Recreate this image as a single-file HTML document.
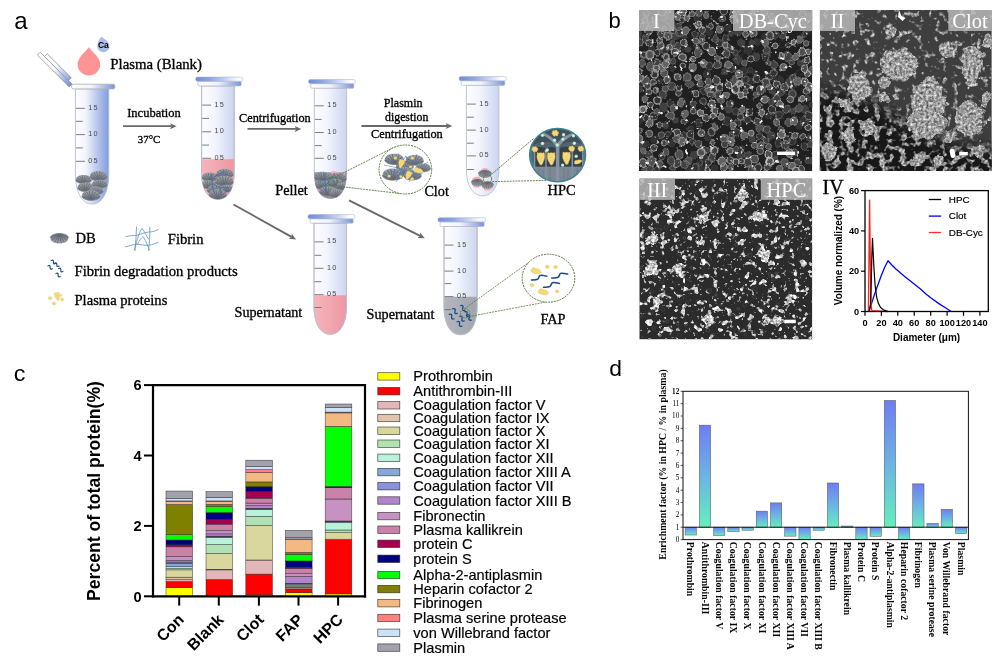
<!DOCTYPE html>
<html><head><meta charset="utf-8"><title>Figure</title>
<style>
html,body{margin:0;padding:0;background:#fff}
body{width:1000px;height:671px;overflow:hidden;position:relative}
svg{position:absolute;left:0;top:0;display:block}
text{fill:#000}
.tr{stroke:#000;stroke-width:.32px}
.cb{font-family:"Liberation Sans",Arial,sans-serif;font-weight:bold}
.cl{font-family:"Liberation Sans",Arial,sans-serif;stroke:#000;stroke-width:.18px}
.pl{font-family:"Liberation Sans",Arial,sans-serif}
.tr{font-family:"Liberation Serif","Times New Roman",serif}
.tb{font-family:"Liberation Serif","Times New Roman",serif;font-weight:bold}
.ts{font-family:"Liberation Serif","Times New Roman",serif}
.tw{font-family:"Liberation Serif","Times New Roman",serif;fill:#fff}
.tk{font-family:"Liberation Sans",Arial,sans-serif;font-size:7.3px;letter-spacing:1.2px;fill:#4a4a4a}
</style></head><body>
<svg width="1000" height="671" viewBox="0 0 1000 671">
<g>
<defs>
<linearGradient id="gt1" x1="0" x2="1"><stop offset="0" stop-color="#fff"/><stop offset=".3" stop-color="#f3f5fc"/><stop offset="1" stop-color="#7f9ae0"/></linearGradient>
<linearGradient id="gt2" x1="0" x2="1"><stop offset="0" stop-color="#fdfdff"/><stop offset=".4" stop-color="#f3f5fc"/><stop offset="1" stop-color="#ccd5f0"/></linearGradient>
<linearGradient id="gcap" x1="0" x2="1"><stop offset="0" stop-color="#6f8dd6"/><stop offset=".3" stop-color="#8ea5df"/><stop offset=".65" stop-color="#cdd7f1"/><stop offset=".9" stop-color="#fff"/></linearGradient>
<linearGradient id="gpink" x1="0" x2="1"><stop offset="0" stop-color="#f7b4ba"/><stop offset="1" stop-color="#ec98a4"/></linearGradient>
<linearGradient id="grim" x1="0" x2="1"><stop offset="0" stop-color="#fff"/><stop offset=".45" stop-color="#f2f4fb"/><stop offset="1" stop-color="#7893d6"/></linearGradient>
<linearGradient id="ggrey" x1="0" x2="1"><stop offset="0" stop-color="#b4b7bd"/><stop offset="1" stop-color="#a0a4ad"/></linearGradient>
<linearGradient id="glid" x1="0" y1="0" x2="1" y2="1"><stop offset="0" stop-color="#fff"/><stop offset=".45" stop-color="#f4f6fc"/><stop offset="1" stop-color="#6f8bd2"/></linearGradient>
<linearGradient id="gdb" x1="0" y1="0" x2="0" y2="1"><stop offset="0" stop-color="#a2a7af"/><stop offset=".55" stop-color="#858a93"/><stop offset="1" stop-color="#6f757e"/></linearGradient>
<g id="db"><path d="M-8 .6C-8 -3.400-4-4.600 0-4.600S8-3.400 8 .6C8 2.800 4 4.400 0 4.400S-8 2.800-8 .6Z" fill="url(#gdb)"/><path d="M0 3.600L-6.600-1.600M0 3.600L-4.200-3.400M0 3.600L-1.600-4.200M0 3.600L1.600-4.200M0 3.600L4.200-3.400M0 3.600L6.600-1.600M0 3.600L-7.600 1M0 3.600L7.600 1" stroke="#626872" stroke-width=".75" fill="none"/><path d="M-8 .6C-8 2.800-4 4.400 0 4.400S8 2.800 8 .6" fill="none" stroke="#5f656f" stroke-width=".6"/></g>
<g id="pp"><path d="M-2.700-.8c-.3-1.300.9-2.300 2-1.600.7-1.100 2.300-.7 2.400.6 1.300.1 1.700 1.700.5 2.300.3 1.300-1.100 2.100-2 1.200-.9 1-2.500.4-2.300-.9-1.200-.2-1.500-1.300-.6-1.600z" fill="#f4d772" stroke="#d9b64e" stroke-width=".35"/></g>
<g id="pb"><path d="M-3.500-4.600C-4.200-6-2.600-6.700-2-5.400-1-6 1-6 2-5.400 2.600-6.700 4.200-6 3.500-4.600 4.400-2 3.600 1 2.400 3 2 4.600 1.400 6.200.2 6.200-1 6.200-1.200 4.800-2 3.400-3.400 1.600-4.400-2-3.500-4.600Z" fill="#f5da78" stroke="#dcb851" stroke-width=".4"/><path d="M-1.500-2c.8.800 2.200.8 3 0M-1 1c.6.600 1.600.600 2.200 0" fill="none" stroke="#e2bf58" stroke-width=".5"/></g>
<g id="pw"><path d="M-5.500.4C-4.800-.8-4.600-2.600-3-2.800-1.800-3.400-.6-2 .8-2.200 2.400-2.400 4-1 5.500.4 4.200 1.600 2.600 2.800.6 2.600-1 3-2.600 2-3.600 2.200-4.600 2-5 1-5.500.4Z" fill="#f5da78" stroke="#dcb851" stroke-width=".4"/></g>
</defs>
<path d="M75.4 88.9V173.0C75.4 192.2 81.7 204 92.1 204C102.5 204 108.8 192.2 108.8 173.0V88.9Z" fill="url(#gt1)" stroke="#b9bdc8" stroke-width=".9"/>
<clipPath id="tb7584"><path d="M75.4 88.9V173.0C75.4 192.2 81.7 204 92.1 204C102.5 204 108.8 192.2 108.8 173.0V88.9Z"/></clipPath>
<rect x="71.6" y="84.2" width="43.2" height="4.7" rx="1.6" fill="url(#grim)" stroke="#a9adb6" stroke-width=".8"/>
<path d="M76.0 108.3H84.9" stroke="#6e6e6e" stroke-width=".9"/>
<text x="88.3" y="109.8" class="tk">15</text>
<path d="M76.0 121.3H82.8" stroke="#6e6e6e" stroke-width=".9"/>
<path d="M76.0 134.6H84.9" stroke="#6e6e6e" stroke-width=".9"/>
<text x="88.3" y="136.1" class="tk">10</text>
<path d="M76.0 147.9H82.8" stroke="#6e6e6e" stroke-width=".9"/>
<path d="M76.0 161.3H84.9" stroke="#6e6e6e" stroke-width=".9"/>
<text x="88.3" y="162.8" class="tk">05</text>
<defs><linearGradient id="glid2" gradientUnits="userSpaceOnUse" x1="40" y1="55" x2="71" y2="86"><stop offset="0" stop-color="#fff"/><stop offset=".42" stop-color="#fff"/><stop offset=".72" stop-color="#b4c2e8"/><stop offset="1" stop-color="#6f8bd2"/></linearGradient></defs>
<path d="M37.4 55L40.2 52.2L72.1 84.1L69.3 86.9Z" fill="url(#glid2)" stroke="#8b8f98" stroke-width=".8" stroke-linejoin="round"/>
<path d="M44.4 56.5L47.2 53.8L71.3 77.8L68.5 80.6Z" fill="url(#glid2)" stroke="#8b8f98" stroke-width=".8" stroke-linejoin="round"/>
<use href="#db" transform="translate(98.4 176.0) rotate(0) scale(1.06)" opacity="1"/>
<use href="#db" transform="translate(83.6 179.4) rotate(0) scale(0.97)" opacity="1"/>
<use href="#db" transform="translate(99.6 184.0) rotate(0) scale(0.94)" opacity="1"/>
<use href="#db" transform="translate(85.6 187.2) rotate(0) scale(1.00)" opacity="1"/>
<use href="#db" transform="translate(96.0 190.6) rotate(0) scale(0.88)" opacity="1"/>
<use href="#db" transform="translate(91.0 195.4) rotate(0) scale(1.12)" opacity="1"/>
<path d="M88.8 47.2C92 52 100.200 57 100.200 64.200A11.3 11.3 0 0 1 77.6 64.200C77.6 57 85.6 52 88.8 47.2Z" fill="#ff9494"/>
<path d="M101.2 36.6C103.6 38.6 109.5 41.6 109.5 46.2A6.100 6.100 0 0 1 97.3 46.2C97.300 42.4 99.8 39 101.2 36.600Z" fill="#a9bde6"/>
<text x="103.4" y="48.1" text-anchor="middle" class="cb" font-size="8.6">Ca</text>
<text x="110.300" y="68.7" class="tr" font-size="14.8">Plasma (Blank)</text>
<path d="M123 126.2L171.5 126.2" stroke="#686868" stroke-width="1.8"/><path d="M176.6 126.2L170.0 129.2L171.5 126.2L170.0 123.2Z" fill="#686868"/>
<text x="127.2" y="117.2" class="tr" font-size="12.5">Incubation</text>
<text x="137.8" y="143.3" class="tr" font-size="10.9">37°C</text>
<path d="M201.6 85.8V172.2C201.6 188.9 207.8 199.2 217.89999999999998 199.2C228.0 199.2 234.2 188.9 234.2 172.2V85.8Z" fill="url(#gt2)" stroke="#b9bdc8" stroke-width=".9"/>
<clipPath id="tb20176"><path d="M201.6 85.8V172.2C201.6 188.9 207.8 199.2 217.89999999999998 199.2C228.0 199.2 234.2 188.9 234.2 172.2V85.8Z"/></clipPath>
<rect x="201.6" y="159.2" width="32.599999999999994" height="41.0" fill="url(#gpink)" clip-path="url(#tb20176)"/>
<path d="M201.6 85.8V172.2C201.6 188.9 207.8 199.2 217.89999999999998 199.2C228.0 199.2 234.2 188.9 234.2 172.2V85.8Z" fill="none" stroke="#b9bdc8" stroke-width=".9"/>
<rect x="197.8" y="81.2" width="43.4" height="4.7" rx="1.2" fill="url(#grim)" stroke="#b4b8c2" stroke-width=".7"/>
<rect x="195.7" y="77.1" width="47.0" height="4.1" rx="1.6" fill="url(#gcap)" stroke="#9fadd6" stroke-width=".5"/>
<path d="M202.2 105.1H211.1" stroke="#6e6e6e" stroke-width=".9"/>
<text x="214.5" y="106.6" class="tk">15</text>
<path d="M202.2 118.4H209.0" stroke="#6e6e6e" stroke-width=".9"/>
<path d="M202.2 131.8H211.1" stroke="#6e6e6e" stroke-width=".9"/>
<text x="214.5" y="133.3" class="tk">10</text>
<path d="M202.2 145.1H209.0" stroke="#6e6e6e" stroke-width=".9"/>
<path d="M202.2 158.3H211.1" stroke="#6e6e6e" stroke-width=".9"/>
<text x="214.5" y="159.8" class="tk">05</text>
<g clip-path="url(#tb20176)">
<use href="#db" transform="translate(209.8 177.0) rotate(0) scale(0.97)" opacity="1"/>
<use href="#db" transform="translate(224.7 173.6) rotate(0) scale(1.06)" opacity="1"/>
<use href="#db" transform="translate(208.7 184.5) rotate(0) scale(0.94)" opacity="1"/>
<use href="#db" transform="translate(224.3 181.0) rotate(0) scale(1.12)" opacity="1"/>
<use href="#db" transform="translate(226.5 188.6) rotate(0) scale(0.81)" opacity="1"/>
<use href="#db" transform="translate(215.2 189.6) rotate(0) scale(1.00)" opacity="1"/>
<use href="#db" transform="translate(217.6 194.4) rotate(0) scale(1.12)" opacity="1"/>
<path d="M211.600 174l.8 12.400 2.200 7.400M214.600 176.600l8.200-4.400 2.200-1.200M213.900 184.800l6 2.200 1.500 8.200M219.900 187l9 .800" fill="none" stroke="#3b6fa9" stroke-width=".8"/>
</g>
<path d="M247.5 128.9L296.2 128.9" stroke="#686868" stroke-width="1.8"/><path d="M301.3 128.9L294.7 131.9L296.2 128.9L294.7 125.9Z" fill="#686868"/>
<text x="239" y="122.4" class="tr" font-size="12.3">Centrifugation</text>
<text x="275.2" y="195.4" class="tr" font-size="14.3">Pellet</text>
<path d="M314.3 88.1V173.5C314.3 189.0 320.4 198.5 330.45000000000005 198.5C340.5 198.5 346.6 189.0 346.6 173.5V88.1Z" fill="url(#gt2)" stroke="#b9bdc8" stroke-width=".9"/>
<clipPath id="tb31479"><path d="M314.3 88.1V173.5C314.3 189.0 320.4 198.5 330.45000000000005 198.5C340.5 198.5 346.6 189.0 346.6 173.5V88.1Z"/></clipPath>
<rect x="310.7" y="83.6" width="43.1" height="4.6" rx="1.2" fill="url(#grim)" stroke="#b4b8c2" stroke-width=".7"/>
<rect x="308.6" y="79.5" width="46.69999999999999" height="4.1" rx="1.6" fill="url(#gcap)" stroke="#9fadd6" stroke-width=".5"/>
<path d="M314.9 105.8H323.8" stroke="#6e6e6e" stroke-width=".9"/>
<text x="327.2" y="107.3" class="tk">15</text>
<path d="M314.9 119.4H321.7" stroke="#6e6e6e" stroke-width=".9"/>
<path d="M314.9 132.5H323.8" stroke="#6e6e6e" stroke-width=".9"/>
<text x="327.2" y="134.0" class="tk">10</text>
<path d="M314.9 145.6H321.7" stroke="#6e6e6e" stroke-width=".9"/>
<path d="M314.9 158.3H323.8" stroke="#6e6e6e" stroke-width=".9"/>
<text x="327.2" y="159.8" class="tk">05</text>
<g clip-path="url(#tb31479)">
<path d="M314 172.200h33v28h-33z" fill="#8b9099"/>
<path d="M329.600 172.600l4-1.600 5.400 1.400 5.800 0 .6 3.200-8 1.200-7.800-4.200zM317 188.800l3.600 1.400-1 3-3-1zM338 190.600l2.600-2 1.400 2.400-2.600 3z" fill="#f5a9b2"/>
<use href="#db" transform="translate(322.4 176.4) rotate(0) scale(1.00)" opacity="1"/>
<use href="#db" transform="translate(338.6 177.6) rotate(0) scale(1.00)" opacity="1"/>
<use href="#db" transform="translate(321.6 184.4) rotate(0) scale(0.94)" opacity="1"/>
<use href="#db" transform="translate(335.4 182.8) rotate(0) scale(0.88)" opacity="1"/>
<use href="#db" transform="translate(341.2 186.4) rotate(0) scale(0.75)" opacity="1"/>
<use href="#db" transform="translate(327.4 191.0) rotate(0) scale(1.00)" opacity="1"/>
<use href="#db" transform="translate(336.4 193.4) rotate(0) scale(0.88)" opacity="1"/>
<path d="M324.800 173l.4 13 .8 7M325.200 180l-7 1.400M325.200 186l6.400-7.400 3-5.600M331.600 178.600l5.400 8 4.600.8" fill="none" stroke="#3b6fa9" stroke-width=".8"/>
</g>
<circle cx="333" cy="181.600" r="4.600" fill="none" stroke="#55793a" stroke-width="1.100" stroke-dasharray="1.800 .8"/>
<path d="M334.800 177.200L393.500 147.600M337.200 186.200L401 193.600" stroke="#55793a" stroke-width=".9" stroke-dasharray="2 .9" fill="none"/>
<ellipse cx="405.4" cy="169.500" rx="26.300" ry="24.500" fill="#fff" stroke="#55793a" stroke-width="1" stroke-dasharray="2 .9"/>
<use href="#db" transform="translate(404.5 166.0) rotate(0) scale(1.06)" opacity="1"/>
<use href="#db" transform="translate(403.0 171.0) rotate(0) scale(0.94)" opacity="1"/>
<use href="#db" transform="translate(394.3 159.2) rotate(0) scale(1.19)" opacity="1"/>
<use href="#db" transform="translate(414.6 160.2) rotate(0) scale(1.12)" opacity="1"/>
<use href="#db" transform="translate(423.0 167.8) rotate(0) scale(0.94)" opacity="1"/>
<use href="#db" transform="translate(392.8 174.5) rotate(0) scale(1.28)" opacity="1"/>
<use href="#db" transform="translate(412.6 175.2) rotate(0) scale(1.09)" opacity="1"/>
<path d="M384 165l14 3 8-12 6 16 16-10M385 178l13-10 9 12 16-7M398 153l4 26M417 154l-8 28M388 171l34 4M396 182l8-12 14 4M405 156l18 14" fill="none" stroke="#4a7db8" stroke-width=".55"/>
<use href="#pb" transform="translate(401.1 163.7) rotate(15) scale(0.72)"/>
<use href="#pb" transform="translate(408.3 175.3) rotate(25) scale(0.72)"/>
<use href="#pw" transform="translate(418.5 170.500) rotate(8) scale(.92)"/>
<use href="#pp" transform="translate(395.5 158.3) rotate(0) scale(0.62)"/>
<use href="#pp" transform="translate(412.5 158.3) rotate(0) scale(0.62)"/>
<use href="#pp" transform="translate(410.6 167.1) rotate(0) scale(0.55)"/>
<use href="#pp" transform="translate(389.2 176.3) rotate(0) scale(0.55)"/>
<use href="#pp" transform="translate(401 176.8) rotate(0) scale(0.5)"/>
<use href="#pp" transform="translate(412.2 179.2) rotate(0) scale(0.62)"/>
<text x="424.4" y="195.900" class="tr" font-size="14.2">Clot</text>
<path d="M361.5 126L447.2 126.0" stroke="#686868" stroke-width="1.8"/><path d="M452.3 126L445.7 129.0L447.2 126.0L445.7 123.0Z" fill="#686868"/>
<text x="403.2" y="106.600" text-anchor="middle" class="tr" font-size="12.0">Plasmin</text>
<text x="406.7" y="121.4" text-anchor="middle" class="tr" font-size="11.8">digestion</text>
<text x="406.900" y="138" text-anchor="middle" class="tr" font-size="12.3">Centrifugation</text>
<path d="M466.4 85.3V168.8C466.4 185.5 472.6 195.8 482.65 195.8C492.7 195.8 498.9 185.5 498.9 168.8V85.3Z" fill="url(#gt2)" stroke="#b9bdc8" stroke-width=".9"/>
<clipPath id="tb46676"><path d="M466.4 85.3V168.8C466.4 185.5 472.6 195.8 482.65 195.8C492.7 195.8 498.9 185.5 498.9 168.8V85.3Z"/></clipPath>
<rect x="461.2" y="80.7" width="43.6" height="4.7" rx="1.2" fill="url(#grim)" stroke="#b4b8c2" stroke-width=".7"/>
<rect x="459.1" y="76.6" width="47.19999999999999" height="4.1" rx="1.6" fill="url(#gcap)" stroke="#9fadd6" stroke-width=".5"/>
<path d="M467.0 104.1H475.9" stroke="#6e6e6e" stroke-width=".9"/>
<text x="479.3" y="105.6" class="tk">15</text>
<path d="M467.0 117.2H473.8" stroke="#6e6e6e" stroke-width=".9"/>
<path d="M467.0 130.1H475.9" stroke="#6e6e6e" stroke-width=".9"/>
<text x="479.3" y="131.6" class="tk">10</text>
<path d="M467.0 143.2H473.8" stroke="#6e6e6e" stroke-width=".9"/>
<path d="M467.0 155.9H475.9" stroke="#6e6e6e" stroke-width=".9"/>
<text x="479.3" y="157.4" class="tk">05</text>
<path d="M467.0 169.5H473.8" stroke="#6e6e6e" stroke-width=".9"/>
<circle cx="484.9" cy="172.9" r="4.9" fill="#f8aeb7"/>
<circle cx="477" cy="182.2" r="5.6" fill="#f8aeb7"/>
<circle cx="487.5" cy="185.6" r="5.2" fill="#f8aeb7"/>
<use href="#db" transform="translate(484.9 174) scale(0.82 -0.87)"/>
<use href="#db" transform="translate(477.4 182.6) scale(0.74 -0.77)"/>
<use href="#db" transform="translate(487.5 185.2) scale(0.76 -0.80)"/>
<circle cx="487.500" cy="178.900" r="4.100" fill="none" stroke="#55793a" stroke-width="1" stroke-dasharray="1.800 .8"/>
<path d="M490 175.600L533.500 138.600M492.200 181.600L546 180.400" stroke="#55793a" stroke-width=".9" stroke-dasharray="2 .9" fill="none"/>
<clipPath id="chpc"><ellipse cx="557.6" cy="155.100" rx="27.200" ry="25.800"/></clipPath>
<ellipse cx="557.6" cy="155.100" rx="27.400" ry="26" fill="#55636f" stroke="#3f8191" stroke-width="2.600"/>
<g clip-path="url(#chpc)">
<path d="M529 128h58v20c-8-7-18-9-28-2-10-7-22-5-30 2z" fill="#44515d"/>
<path d="M529 166.500h58v17h-58z" fill="#7c8995"/>
<path d="M535.500 148.500c1-2 8.500-2 9.700 0v18h-9.700zM547.100 148.500c1-2 7.800-2 8.800 0v18h-8.800zM559.700 148.500c1.500-2.500 10-2.500 11.700 0v18h-11.700zM573.300 148.500c1-2 7.700-2 8.700 0v18h-8.700z" fill="#35414c"/>
<path d="M555.900 182V147c-3-6-9-10-15-13l1.500-2c6 2.500 11.500 6 15 11 3.500-5 10-8.500 16.500-10.500l1 2c-6 2.500-12 6.500-15.700 12.500v35z" fill="#8794a2"/>
<path d="M534.500 150v32M545.900 150v32M572.300 150v32M582.800 150v32" stroke="#8592a0" stroke-width="1.300"/>
<path d="M539 168v14M543 170v12M550 168v14M564 168v14M568 170v12M577 168v14" stroke="#6a7783" stroke-width=".8"/>
<use href="#pb" transform="translate(540.8 158.8) rotate(0) scale(1.02)"/>
<use href="#pb" transform="translate(551.2 158.8) rotate(0) scale(1.02)"/>
<use href="#pb" transform="translate(566.5 158.3) rotate(0) scale(1.02)"/>
<use href="#pw" transform="translate(578.1 161.700) rotate(-20) scale(.75)"/>
<use href="#pp" transform="translate(535 149.6) rotate(0) scale(1.05)"/>
<use href="#pp" transform="translate(555.4 133.6) rotate(0) scale(1.15)"/>
<use href="#pp" transform="translate(571.8 149.1) rotate(0) scale(1.05)"/>
<use href="#pp" transform="translate(581 149.1) rotate(0) scale(1.05)"/>
<use href="#pp" transform="translate(546.2 151.2) rotate(0) scale(0.5)"/>
<circle cx="542.5" cy="135.2" r="1.700" fill="#a6efc6"/><circle cx="542.5" cy="135.2" r=".7" fill="#eafff3"/>
<circle cx="563.6" cy="134.7" r="1.700" fill="#a6efc6"/><circle cx="563.6" cy="134.7" r=".7" fill="#eafff3"/>
<circle cx="573.5" cy="135.8" r="1.700" fill="#a6efc6"/><circle cx="573.5" cy="135.8" r=".7" fill="#eafff3"/>
<circle cx="554.6" cy="140.2" r="1.700" fill="#a6efc6"/><circle cx="554.6" cy="140.2" r=".7" fill="#eafff3"/>
<circle cx="562.9" cy="139.1" r="1.700" fill="#a6efc6"/><circle cx="562.9" cy="139.1" r=".7" fill="#eafff3"/>
<circle cx="542.5" cy="143.5" r="1.700" fill="#a6efc6"/><circle cx="542.5" cy="143.5" r=".7" fill="#eafff3"/>
<circle cx="557.3" cy="145" r="1.700" fill="#a6efc6"/><circle cx="557.3" cy="145" r=".7" fill="#eafff3"/>
<circle cx="574.3" cy="143.3" r="1.700" fill="#a6efc6"/><circle cx="574.3" cy="143.3" r=".7" fill="#eafff3"/>
<circle cx="547.3" cy="150" r="1.700" fill="#a6efc6"/><circle cx="547.3" cy="150" r=".7" fill="#eafff3"/>
<circle cx="576.2" cy="156.3" r="1.700" fill="#a6efc6"/><circle cx="576.2" cy="156.3" r=".7" fill="#eafff3"/>
<circle cx="562.6" cy="165.1" r="1.700" fill="#a6efc6"/><circle cx="562.6" cy="165.1" r=".7" fill="#eafff3"/>
</g>
<text x="547.6" y="195.4" class="tr" font-size="14.4">HPC</text>
<path d="M233.5 204.5L291.5 236.9" stroke="#686868" stroke-width="1.8"/><path d="M296 239.4L288.8 238.8L291.5 236.9L291.7 233.5Z" fill="#686868"/>
<path d="M349 200.4L420.1 235.9" stroke="#686868" stroke-width="1.8"/><path d="M424.7 238.2L417.4 238.0L420.1 235.9L420.2 232.5Z" fill="#686868"/>
<path d="M314 223.1V305.2C314 323.2 320.2 334.2 330.25 334.2C340.3 334.2 346.5 323.2 346.5 305.2V223.1Z" fill="url(#gt2)" stroke="#b9bdc8" stroke-width=".9"/>
<clipPath id="tb314214"><path d="M314 223.1V305.2C314 323.2 320.2 334.2 330.25 334.2C340.3 334.2 346.5 323.2 346.5 305.2V223.1Z"/></clipPath>
<rect x="314" y="295.3" width="32.5" height="39.89999999999998" fill="url(#gpink)" clip-path="url(#tb314214)"/>
<path d="M314 223.1V305.2C314 323.2 320.2 334.2 330.25 334.2C340.3 334.2 346.5 323.2 346.5 305.2V223.1Z" fill="none" stroke="#b9bdc8" stroke-width=".9"/>
<rect x="310.1" y="218.7" width="43.1" height="4.5" rx="1.2" fill="url(#grim)" stroke="#b4b8c2" stroke-width=".7"/>
<rect x="308" y="214.6" width="46.69999999999999" height="4.1" rx="1.6" fill="url(#gcap)" stroke="#9fadd6" stroke-width=".5"/>
<path d="M314.6 241.9H323.5" stroke="#6e6e6e" stroke-width=".9"/>
<text x="326.9" y="243.4" class="tk">15</text>
<path d="M314.6 255.3H321.4" stroke="#6e6e6e" stroke-width=".9"/>
<path d="M314.6 268.3H323.5" stroke="#6e6e6e" stroke-width=".9"/>
<text x="326.9" y="269.8" class="tk">10</text>
<path d="M314.6 281.7H321.4" stroke="#6e6e6e" stroke-width=".9"/>
<path d="M314.6 294.7H323.5" stroke="#6e6e6e" stroke-width=".9"/>
<text x="326.9" y="296.2" class="tk">05</text>
<path d="M314.6 307.5H321.4" stroke="#6e6e6e" stroke-width=".9"/>
<text x="234.5" y="317" class="tr" font-size="14.2">Supernatant</text>
<path d="M444 226.4V305.7C444 323.7 450.3 334.7 460.55 334.7C470.8 334.7 477.1 323.7 477.1 305.7V226.4Z" fill="url(#gt2)" stroke="#b9bdc8" stroke-width=".9"/>
<clipPath id="tb444217"><path d="M444 226.4V305.7C444 323.7 450.3 334.7 460.55 334.7C470.8 334.7 477.1 323.7 477.1 305.7V226.4Z"/></clipPath>
<rect x="444" y="296.8" width="33.10000000000002" height="38.89999999999998" fill="url(#ggrey)" clip-path="url(#tb444217)"/>
<path d="M444 226.4V305.7C444 323.7 450.3 334.7 460.55 334.7C470.8 334.7 477.1 323.7 477.1 305.7V226.4Z" fill="none" stroke="#b9bdc8" stroke-width=".9"/>
<rect x="440.1" y="221.8" width="44.0" height="4.7" rx="1.2" fill="url(#grim)" stroke="#b4b8c2" stroke-width=".7"/>
<rect x="438" y="217.7" width="47.60000000000002" height="4.1" rx="1.6" fill="url(#gcap)" stroke="#9fadd6" stroke-width=".5"/>
<path d="M444.6 245.1H453.5" stroke="#6e6e6e" stroke-width=".9"/>
<text x="456.9" y="246.6" class="tk">15</text>
<path d="M444.6 258.1H451.4" stroke="#6e6e6e" stroke-width=".9"/>
<path d="M444.6 271.1H453.5" stroke="#6e6e6e" stroke-width=".9"/>
<text x="456.9" y="272.6" class="tk">10</text>
<path d="M444.6 283.6H451.4" stroke="#6e6e6e" stroke-width=".9"/>
<path d="M444.6 296.6H453.5" stroke="#6e6e6e" stroke-width=".9"/>
<text x="456.9" y="298.1" class="tk">05</text>
<path d="M444.6 309.6H451.4" stroke="#6e6e6e" stroke-width=".9"/>
<path d="M-3.2 0c1.0 -1.9 2.2 -1.9 3.2 0s2.2 1.9 3.2 0" transform="translate(455 311.1) rotate(48)" fill="none" stroke="#174a8a" stroke-width="1.3" stroke-linecap="round"/>
<path d="M-3.2 0c1.0 -1.9 2.2 -1.9 3.2 0s2.2 1.9 3.2 0" transform="translate(451.7 316.6) rotate(42)" fill="none" stroke="#174a8a" stroke-width="1.3" stroke-linecap="round"/>
<path d="M-3.2 0c1.0 -1.9 2.2 -1.9 3.2 0s2.2 1.9 3.2 0" transform="translate(462.8 308) rotate(50)" fill="none" stroke="#174a8a" stroke-width="1.3" stroke-linecap="round"/>
<path d="M-3.2 0c1.0 -1.9 2.2 -1.9 3.2 0s2.2 1.9 3.2 0" transform="translate(462 318.6) rotate(45)" fill="none" stroke="#174a8a" stroke-width="1.3" stroke-linecap="round"/>
<path d="M-3.2 0c1.0 -1.9 2.2 -1.9 3.2 0s2.2 1.9 3.2 0" transform="translate(459.5 323.9) rotate(42)" fill="none" stroke="#174a8a" stroke-width="1.3" stroke-linecap="round"/>
<path d="M-3.2 0c1.0 -1.9 2.2 -1.9 3.2 0s2.2 1.9 3.2 0" transform="translate(466.9 314.1) rotate(50)" fill="none" stroke="#174a8a" stroke-width="1.3" stroke-linecap="round"/>
<path d="M-3.2 0c1.0 -1.9 2.2 -1.9 3.2 0s2.2 1.9 3.2 0" transform="translate(469.3 317.6) rotate(55)" fill="none" stroke="#174a8a" stroke-width="1.3" stroke-linecap="round"/>
<circle cx="465.100" cy="313.300" r="4.600" fill="none" stroke="#55793a" stroke-width=".9" stroke-dasharray="1.500 1"/>
<path d="M464.4 308.800L528.5 262.600M469.300 316.500L545 302.200" stroke="#55793a" stroke-width=".8" stroke-dasharray="2 .9" fill="none"/>
<ellipse cx="548.500" cy="278.200" rx="26.300" ry="24" fill="#fff" stroke="#55793a" stroke-width="1" stroke-dasharray="2 .9"/>
<path d="M0 0c2.500 0 5.200-.2 6.400-.9 1.200-.7.900-3.100 2.200-3.600 1.600-.5 4.600.200 6.900.700" transform="translate(531.4 280) scale(1)" fill="none" stroke="#1f4b84" stroke-width="1.500" stroke-linecap="round"/>
<path d="M0 0c2.500 0 5.200-.2 6.400-.9 1.200-.7.900-3.100 2.200-3.600 1.600-.5 4.600.200 6.900.700" transform="translate(551.7 278) scale(1.03)" fill="none" stroke="#1f4b84" stroke-width="1.500" stroke-linecap="round"/>
<path d="M0 0c2.500 0 5.200-.2 6.400-.9 1.200-.7.900-3.100 2.200-3.600 1.600-.5 4.600.200 6.900.700" transform="translate(543.5 287.3) scale(1.03)" fill="none" stroke="#1f4b84" stroke-width="1.500" stroke-linecap="round"/>
<use href="#pw" transform="translate(536.2 271) rotate(10)"/>
<use href="#pw" transform="translate(543.5 292) rotate(10)"/>
<use href="#pp" transform="translate(547.4 267.1) rotate(0) scale(0.7)"/>
<use href="#pp" transform="translate(555.6 267.3) rotate(0) scale(0.7)"/>
<use href="#pp" transform="translate(532.2 285.5) rotate(0) scale(0.7)"/>
<use href="#pp" transform="translate(557.1 291.7) rotate(0) scale(0.62)"/>
<text x="366.6" y="318.700" class="tr" font-size="14.2">Supernatant</text>
<text x="540.4" y="323.900" class="tr" font-size="14.3">FAP</text>
<use href="#db" transform="translate(59.4 238.400) scale(1.12 -1.1)"/>
<text x="75.400" y="243.400" class="tr" font-size="14.6">DB</text>
<path d="M125.500 236.800c4-1.600 8-1 11-1.500s8-3 12-3.200 7-1 10-2.800M125 246.800c4-.6 7-2.200 11-2.400s9 1.200 13 .8 6-2 9.500-3M136.600 226.500c-.4 8-.8 16-1.600 24.500M149.800 226.800c.2 8-.2 16-1.400 24.200M134 250.500c2.500-7 4.500-18 8-22 3 3 4.500 8 7 11M137.500 244c2-3 3.500-6 5.500-7.500 2 2.500 4 8 6.500 13.500" fill="none" stroke="#5f92c4" stroke-width=".8"/>
<text x="167.800" y="244.300" class="tr" font-size="14.6">Fibrin</text>
<path d="M-2.6 0c0.8 -1.6 1.8 -1.6 2.6 0s1.8 1.6 2.6 0" transform="translate(53.4 262) rotate(32)" fill="none" stroke="#174a8a" stroke-width="1.15" stroke-linecap="round"/>
<path d="M-2.6 0c0.8 -1.6 1.8 -1.6 2.6 0s1.8 1.6 2.6 0" transform="translate(50.1 267.3) rotate(32)" fill="none" stroke="#174a8a" stroke-width="1.15" stroke-linecap="round"/>
<path d="M-2.6 0c0.8 -1.6 1.8 -1.6 2.6 0s1.8 1.6 2.6 0" transform="translate(56.8 264.7) rotate(32)" fill="none" stroke="#174a8a" stroke-width="1.15" stroke-linecap="round"/>
<path d="M-2.6 0c0.8 -1.6 1.8 -1.6 2.6 0s1.8 1.6 2.6 0" transform="translate(60.8 270) rotate(32)" fill="none" stroke="#174a8a" stroke-width="1.15" stroke-linecap="round"/>
<path d="M-2.6 0c0.8 -1.6 1.8 -1.6 2.6 0s1.8 1.6 2.6 0" transform="translate(58.1 275) rotate(32)" fill="none" stroke="#174a8a" stroke-width="1.15" stroke-linecap="round"/>
<text x="74.500" y="276" class="tr" font-size="14.7">Fibrin degradation products</text>
<use href="#pb" transform="translate(57.4 296.500) rotate(-10) scale(.68)"/>
<use href="#pp" transform="translate(50.1 298.5) rotate(0) scale(0.62)"/>
<use href="#pp" transform="translate(62.1 299.8) rotate(0) scale(0.62)"/>
<use href="#pp" transform="translate(54.1 303.8) rotate(0) scale(0.62)"/>
<use href="#pp" transform="translate(61 295.5) rotate(0) scale(0.4)"/>
<text x="74.500" y="305.200" class="tr" font-size="14.6">Plasma proteins</text>
<text x="14.2" y="29.2" class="pl" font-size="24">a</text>
</g>
<g>
<defs><clipPath id="c1"><rect x="639" y="10" width="173.3" height="161"/></clipPath><clipPath id="c2"><rect x="819.8" y="10" width="172" height="161"/></clipPath><clipPath id="c3"><rect x="639.3" y="178.400" width="173" height="161"/></clipPath>
<filter id="fsem" x="-2%" y="-2%" width="104%" height="104%"><feTurbulence type="fractalNoise" baseFrequency=".22" numOctaves="2" seed="4" result="n"/><feDisplacementMap in="SourceGraphic" in2="n" scale="3.2" xChannelSelector="R" yChannelSelector="G"/><feGaussianBlur stdDeviation=".5"/></filter>
<filter id="fb7"><feGaussianBlur stdDeviation="7"/></filter>
<filter id="n1p" x="0" y="0" width="100%" height="100%" color-interpolation-filters="sRGB"><feTurbulence type="fractalNoise" baseFrequency="0.2" numOctaves="2" seed="21" result="n"/><feColorMatrix in="n" type="matrix" values="0 0 0 0 1 0 0 0 0 1 0 0 0 0 1 9 0 0 0 -6.0" result="a"/><feTurbulence type="fractalNoise" baseFrequency="0.4" numOctaves="1" seed="8" result="n2"/><feColorMatrix in="n2" type="matrix" values="1.2 0 0 0 0.3 1.2 0 0 0 0.3 1.2 0 0 0 0.3 0 0 0 0 1" result="g"/><feComposite in="g" in2="a" operator="in" result="p"/><feComposite in="p" in2="SourceGraphic" operator="in"/><feGaussianBlur stdDeviation="0.45"/></filter>
<filter id="n2a" x="0" y="0" width="100%" height="100%" color-interpolation-filters="sRGB"><feTurbulence type="fractalNoise" baseFrequency="0.17" numOctaves="2" seed="3" result="n"/><feColorMatrix in="n" type="matrix" values="0 0 0 0 1 0 0 0 0 1 0 0 0 0 1 7 0 0 0 -3.92" result="a"/><feTurbulence type="fractalNoise" baseFrequency="0.4" numOctaves="1" seed="8" result="n2"/><feColorMatrix in="n2" type="matrix" values="1.1 0 0 0 0.08 1.1 0 0 0 0.08 1.1 0 0 0 0.08 0 0 0 0 1" result="g"/><feComposite in="g" in2="a" operator="in" result="p"/><feComposite in="p" in2="SourceGraphic" operator="in"/><feGaussianBlur stdDeviation="0.35"/></filter>
<filter id="n2b" x="0" y="0" width="100%" height="100%" color-interpolation-filters="sRGB"><feTurbulence type="fractalNoise" baseFrequency="0.15" numOctaves="2" seed="11" result="n"/><feColorMatrix in="n" type="matrix" values="0 0 0 0 1 0 0 0 0 1 0 0 0 0 1 8 0 0 0 -3.85" result="a"/><feTurbulence type="fractalNoise" baseFrequency="0.4" numOctaves="1" seed="8" result="n2"/><feColorMatrix in="n2" type="matrix" values="1.1 0 0 0 0.05 1.1 0 0 0 0.05 1.1 0 0 0 0.05 0 0 0 0 1" result="g"/><feComposite in="g" in2="a" operator="in" result="p"/><feGaussianBlur in="SourceGraphic" stdDeviation="7" result="m"/><feComposite in="p" in2="m" operator="in"/><feGaussianBlur stdDeviation="0.35"/></filter>
<filter id="n3a" x="0" y="0" width="100%" height="100%" color-interpolation-filters="sRGB"><feTurbulence type="fractalNoise" baseFrequency="0.15" numOctaves="2" seed="5" result="n"/><feColorMatrix in="n" type="matrix" values="0 0 0 0 1 0 0 0 0 1 0 0 0 0 1 12 0 0 0 -7.28" result="a"/><feTurbulence type="fractalNoise" baseFrequency="0.3" numOctaves="1" seed="9" result="n2"/><feColorMatrix in="n2" type="matrix" values="1.05 0 0 0 0.32 1.05 0 0 0 0.32 1.05 0 0 0 0.32 0 0 0 0 1" result="g"/><feComposite in="g" in2="a" operator="in" result="p"/><feComposite in="p" in2="SourceGraphic" operator="in"/><feGaussianBlur stdDeviation="0.4"/></filter>
<filter id="n3b" x="0" y="0" width="100%" height="100%" color-interpolation-filters="sRGB"><feTurbulence type="fractalNoise" baseFrequency="0.24" numOctaves="2" seed="15" result="n"/><feColorMatrix in="n" type="matrix" values="0 0 0 0 1 0 0 0 0 1 0 0 0 0 1 12 0 0 0 -7.7" result="a"/><feTurbulence type="fractalNoise" baseFrequency="0.4" numOctaves="1" seed="9" result="n2"/><feColorMatrix in="n2" type="matrix" values="1.0 0 0 0 0.2 1.0 0 0 0 0.2 1.0 0 0 0 0.2 0 0 0 0 1" result="g"/><feComposite in="g" in2="a" operator="in" result="p"/><feComposite in="p" in2="SourceGraphic" operator="in"/><feGaussianBlur stdDeviation="0.35"/></filter>
<filter id="fcl2" x="-5%" y="-5%" width="110%" height="110%" color-interpolation-filters="sRGB"><feTurbulence type="fractalNoise" baseFrequency="0.12" numOctaves="2" seed="2" result="n1"/><feDisplacementMap in="SourceGraphic" in2="n1" scale="9" xChannelSelector="R" yChannelSelector="G" result="d"/><feTurbulence type="fractalNoise" baseFrequency="0.38" numOctaves="2" seed="5" result="n2"/><feColorMatrix in="n2" type="matrix" values="1.0 0 0 0 0.12 1.0 0 0 0 0.12 1.0 0 0 0 0.12 0 0 0 0 1" result="g"/><feComposite in="g" in2="d" operator="in"/><feGaussianBlur stdDeviation="0.4"/></filter>
<filter id="fcl3" x="-5%" y="-5%" width="110%" height="110%" color-interpolation-filters="sRGB"><feTurbulence type="fractalNoise" baseFrequency="0.16" numOctaves="2" seed="6" result="n1"/><feDisplacementMap in="SourceGraphic" in2="n1" scale="12" xChannelSelector="R" yChannelSelector="G" result="d"/><feTurbulence type="fractalNoise" baseFrequency="0.38" numOctaves="2" seed="7" result="n2"/><feColorMatrix in="n2" type="matrix" values="1.35 0 0 0 0.1 1.35 0 0 0 0.1 1.35 0 0 0 0.1 0 0 0 0 1" result="g"/><feComposite in="g" in2="d" operator="in"/><feGaussianBlur stdDeviation="0.3"/></filter>
</defs>
<g clip-path="url(#c1)"><rect x="639" y="10" width="173.3" height="161" fill="#202020"/><g filter="url(#fsem)">
<path d="M668.5 104.0a1.8 1.8 0 1 0 3.5 0a1.8 1.8 0 1 0 -3.5 0M807.3 28.5a1.4 1.4 0 1 0 2.7 0a1.4 1.4 0 1 0 -2.7 0M644.0 117.1a1.5 1.5 0 1 0 3.0 0a1.5 1.5 0 1 0 -3.0 0M802.5 120.6a1.9 1.9 0 1 0 3.9 0a1.9 1.9 0 1 0 -3.9 0M784.9 170.0a1.7 1.7 0 1 0 3.4 0a1.7 1.7 0 1 0 -3.4 0M641.9 55.2a1.6 1.6 0 1 0 3.1 0a1.6 1.6 0 1 0 -3.1 0M651.5 115.8a1.9 1.9 0 1 0 3.7 0a1.9 1.9 0 1 0 -3.7 0M806.5 115.4a1.9 1.9 0 1 0 3.9 0a1.9 1.9 0 1 0 -3.9 0M660.0 12.4a1.8 1.8 0 1 0 3.6 0a1.8 1.8 0 1 0 -3.6 0M660.8 156.4a1.4 1.4 0 1 0 2.9 0a1.4 1.4 0 1 0 -2.9 0M734.4 132.9a1.8 1.8 0 1 0 3.6 0a1.8 1.8 0 1 0 -3.6 0M724.5 38.7a1.5 1.5 0 1 0 3.0 0a1.5 1.5 0 1 0 -3.0 0M769.5 109.0a1.9 1.9 0 1 0 3.8 0a1.9 1.9 0 1 0 -3.8 0M705.0 45.7a1.8 1.8 0 1 0 3.6 0a1.8 1.8 0 1 0 -3.6 0M656.2 170.0a1.5 1.5 0 1 0 3.0 0a1.5 1.5 0 1 0 -3.0 0M654.8 26.0a1.5 1.5 0 1 0 2.9 0a1.5 1.5 0 1 0 -2.9 0M697.9 123.6a1.5 1.5 0 1 0 3.0 0a1.5 1.5 0 1 0 -3.0 0M772.3 72.9a1.8 1.8 0 1 0 3.5 0a1.8 1.8 0 1 0 -3.5 0M733.5 52.3a1.4 1.4 0 1 0 2.8 0a1.4 1.4 0 1 0 -2.8 0M804.4 22.4a1.4 1.4 0 1 0 2.9 0a1.4 1.4 0 1 0 -2.9 0M763.7 23.2a1.8 1.8 0 1 0 3.6 0a1.8 1.8 0 1 0 -3.6 0M717.5 43.5a1.8 1.8 0 1 0 3.6 0a1.8 1.8 0 1 0 -3.6 0" fill="#101010"/>
<path d="M806.0 18.0a1.9 1.9 0 1 0 3.8 0a1.9 1.9 0 1 0 -3.8 0M786.5 56.4a1.8 1.8 0 1 0 3.7 0a1.8 1.8 0 1 0 -3.7 0M691.2 141.2a1.5 1.5 0 1 0 3.0 0a1.5 1.5 0 1 0 -3.0 0M647.3 43.3a1.8 1.8 0 1 0 3.5 0a1.8 1.8 0 1 0 -3.5 0M755.4 78.7a1.9 1.9 0 1 0 3.7 0a1.9 1.9 0 1 0 -3.7 0M692.2 104.1a1.7 1.7 0 1 0 3.4 0a1.7 1.7 0 1 0 -3.4 0M704.9 150.5a1.5 1.5 0 1 0 3.0 0a1.5 1.5 0 1 0 -3.0 0M651.0 81.7a1.4 1.4 0 1 0 2.8 0a1.4 1.4 0 1 0 -2.8 0M777.4 149.1a3.6 3.6 0 1 0 7.2 0a3.6 3.6 0 1 0 -7.2 0M678.0 87.9a1.5 1.5 0 1 0 3.1 0a1.5 1.5 0 1 0 -3.1 0M738.1 52.3a3.0 3.0 0 1 0 6.0 0a3.0 3.0 0 1 0 -6.0 0M701.6 100.8a1.6 1.6 0 1 0 3.3 0a1.6 1.6 0 1 0 -3.3 0M681.7 65.6a1.4 1.4 0 1 0 2.8 0a1.4 1.4 0 1 0 -2.8 0M700.5 29.3a1.7 1.7 0 1 0 3.3 0a1.7 1.7 0 1 0 -3.3 0M718.3 87.8a1.8 1.8 0 1 0 3.6 0a1.8 1.8 0 1 0 -3.6 0M780.9 36.2a1.5 1.5 0 1 0 3.0 0a1.5 1.5 0 1 0 -3.0 0M729.8 135.8a1.8 1.8 0 1 0 3.5 0a1.8 1.8 0 1 0 -3.5 0M676.7 92.7a1.5 1.5 0 1 0 2.9 0a1.5 1.5 0 1 0 -2.9 0M672.0 42.8a1.5 1.5 0 1 0 3.0 0a1.5 1.5 0 1 0 -3.0 0M745.2 155.2a1.7 1.7 0 1 0 3.4 0a1.7 1.7 0 1 0 -3.4 0M782.3 87.3a1.9 1.9 0 1 0 3.8 0a1.9 1.9 0 1 0 -3.8 0M712.1 150.4a1.8 1.8 0 1 0 3.6 0a1.8 1.8 0 1 0 -3.6 0M779.3 44.0a2.9 2.9 0 1 0 5.7 0a2.9 2.9 0 1 0 -5.7 0M713.4 39.8a1.5 1.5 0 1 0 3.0 0a1.5 1.5 0 1 0 -3.0 0M655.0 99.7a1.9 1.9 0 1 0 3.7 0a1.9 1.9 0 1 0 -3.7 0M725.5 121.8a1.9 1.9 0 1 0 3.8 0a1.9 1.9 0 1 0 -3.8 0M647.9 168.2a1.7 1.7 0 1 0 3.3 0a1.7 1.7 0 1 0 -3.3 0M655.5 53.2a1.4 1.4 0 1 0 2.8 0a1.4 1.4 0 1 0 -2.8 0M670.3 86.5a1.9 1.9 0 1 0 3.9 0a1.9 1.9 0 1 0 -3.9 0M756.1 168.2a1.8 1.8 0 1 0 3.7 0a1.8 1.8 0 1 0 -3.7 0M697.0 144.4a1.7 1.7 0 1 0 3.4 0a1.7 1.7 0 1 0 -3.4 0M682.8 164.4a1.9 1.9 0 1 0 3.7 0a1.9 1.9 0 1 0 -3.7 0M661.4 94.7a1.8 1.8 0 1 0 3.6 0a1.8 1.8 0 1 0 -3.6 0M755.3 122.2a1.7 1.7 0 1 0 3.4 0a1.7 1.7 0 1 0 -3.4 0M734.1 110.9a1.7 1.7 0 1 0 3.3 0a1.7 1.7 0 1 0 -3.3 0M764.4 50.5a1.8 1.8 0 1 0 3.5 0a1.8 1.8 0 1 0 -3.5 0M766.0 167.3a1.4 1.4 0 1 0 2.8 0a1.4 1.4 0 1 0 -2.8 0M662.5 50.7a1.8 1.8 0 1 0 3.5 0a1.8 1.8 0 1 0 -3.5 0M764.6 82.2a1.9 1.9 0 1 0 3.8 0a1.9 1.9 0 1 0 -3.8 0M727.8 104.0a1.8 1.8 0 1 0 3.6 0a1.8 1.8 0 1 0 -3.6 0M669.0 160.1a1.9 1.9 0 1 0 3.7 0a1.9 1.9 0 1 0 -3.7 0M711.4 89.1a1.6 1.6 0 1 0 3.1 0a1.6 1.6 0 1 0 -3.1 0M680.9 20.8a1.4 1.4 0 1 0 2.7 0a1.4 1.4 0 1 0 -2.7 0M693.2 167.9a1.7 1.7 0 1 0 3.5 0a1.7 1.7 0 1 0 -3.5 0M706.6 170.2a1.4 1.4 0 1 0 2.8 0a1.4 1.4 0 1 0 -2.8 0M795.9 72.5a3.6 3.6 0 1 0 7.2 0a3.6 3.6 0 1 0 -7.2 0M768.4 35.7a1.7 1.7 0 1 0 3.5 0a1.7 1.7 0 1 0 -3.5 0M644.2 39.9a1.5 1.5 0 1 0 3.0 0a1.5 1.5 0 1 0 -3.0 0M744.2 79.5a1.8 1.8 0 1 0 3.6 0a1.8 1.8 0 1 0 -3.6 0M676.0 27.3a1.8 1.8 0 1 0 3.6 0a1.8 1.8 0 1 0 -3.6 0M795.4 162.6a1.6 1.6 0 1 0 3.2 0a1.6 1.6 0 1 0 -3.2 0M784.8 110.0a1.9 1.9 0 1 0 3.7 0a1.9 1.9 0 1 0 -3.7 0M747.3 112.6a1.6 1.6 0 1 0 3.3 0a1.6 1.6 0 1 0 -3.3 0M724.6 53.4a1.8 1.8 0 1 0 3.6 0a1.8 1.8 0 1 0 -3.6 0M655.4 62.6a1.6 1.6 0 1 0 3.1 0a1.6 1.6 0 1 0 -3.1 0M700.7 35.8a1.4 1.4 0 1 0 2.8 0a1.4 1.4 0 1 0 -2.8 0M733.5 89.4a1.8 1.8 0 1 0 3.7 0a1.8 1.8 0 1 0 -3.7 0M765.2 130.1a1.9 1.9 0 1 0 3.7 0a1.9 1.9 0 1 0 -3.7 0M790.8 77.5a1.7 1.7 0 1 0 3.4 0a1.7 1.7 0 1 0 -3.4 0" fill="#202020"/>
<path d="M691.8 34.3a3.3 3.3 0 1 0 6.6 0a3.3 3.3 0 1 0 -6.6 0M728.3 68.9a3.5 3.5 0 1 0 7.1 0a3.5 3.5 0 1 0 -7.1 0M643.9 79.3a1.9 1.9 0 1 0 3.9 0a1.9 1.9 0 1 0 -3.9 0M658.0 46.4a1.9 1.9 0 1 0 3.8 0a1.9 1.9 0 1 0 -3.8 0M746.3 163.0a1.9 1.9 0 1 0 3.9 0a1.9 1.9 0 1 0 -3.9 0M662.1 29.4a1.4 1.4 0 1 0 2.8 0a1.4 1.4 0 1 0 -2.8 0M689.5 141.4a3.0 3.0 0 1 0 6.0 0a3.0 3.0 0 1 0 -6.0 0M666.8 103.6a3.5 3.5 0 1 0 7.1 0a3.5 3.5 0 1 0 -7.1 0M746.8 70.0a2.9 2.9 0 1 0 5.8 0a2.9 2.9 0 1 0 -5.8 0M753.2 78.8a3.7 3.7 0 1 0 7.5 0a3.7 3.7 0 1 0 -7.5 0M715.6 58.0a1.4 1.4 0 1 0 2.8 0a1.4 1.4 0 1 0 -2.8 0M762.0 56.4a3.5 3.5 0 1 0 6.9 0a3.5 3.5 0 1 0 -6.9 0M806.1 29.0a2.7 2.7 0 1 0 5.5 0a2.7 2.7 0 1 0 -5.5 0M708.0 131.9a3.5 3.5 0 1 0 6.9 0a3.5 3.5 0 1 0 -6.9 0M642.8 117.6a3.0 3.0 0 1 0 6.1 0a3.0 3.0 0 1 0 -6.1 0M779.7 56.3a1.5 1.5 0 1 0 3.0 0a1.5 1.5 0 1 0 -3.0 0M684.9 76.9a1.9 1.9 0 1 0 3.9 0a1.9 1.9 0 1 0 -3.9 0M802.0 34.3a3.0 3.0 0 1 0 6.0 0a3.0 3.0 0 1 0 -6.0 0M668.4 47.7a1.5 1.5 0 1 0 2.9 0a1.5 1.5 0 1 0 -2.9 0M676.3 88.1a3.1 3.1 0 1 0 6.2 0a3.1 3.1 0 1 0 -6.2 0M699.7 101.2a3.3 3.3 0 1 0 6.6 0a3.3 3.3 0 1 0 -6.6 0M800.3 121.2a3.9 3.9 0 1 0 7.7 0a3.9 3.9 0 1 0 -7.7 0M793.3 135.8a1.5 1.5 0 1 0 3.0 0a1.5 1.5 0 1 0 -3.0 0M703.2 74.2a3.8 3.8 0 1 0 7.6 0a3.8 3.8 0 1 0 -7.6 0M655.1 112.1a1.6 1.6 0 1 0 3.2 0a1.6 1.6 0 1 0 -3.2 0M694.1 18.5a3.9 3.9 0 1 0 7.7 0a3.9 3.9 0 1 0 -7.7 0M744.1 34.0a1.4 1.4 0 1 0 2.8 0a1.4 1.4 0 1 0 -2.8 0M679.9 65.9a2.8 2.8 0 1 0 5.7 0a2.8 2.8 0 1 0 -5.7 0M782.7 169.9a3.4 3.4 0 1 0 6.8 0a3.4 3.4 0 1 0 -6.8 0M716.1 87.9a3.6 3.6 0 1 0 7.2 0a3.6 3.6 0 1 0 -7.2 0M731.6 14.9a1.8 1.8 0 1 0 3.6 0a1.8 1.8 0 1 0 -3.6 0M787.1 122.2a1.9 1.9 0 1 0 3.8 0a1.9 1.9 0 1 0 -3.8 0M665.2 134.3a2.7 2.7 0 1 0 5.5 0a2.7 2.7 0 1 0 -5.5 0M693.4 45.9a2.7 2.7 0 1 0 5.4 0a2.7 2.7 0 1 0 -5.4 0M783.5 139.8a3.3 3.3 0 1 0 6.5 0a3.3 3.3 0 1 0 -6.5 0M640.7 55.0a3.1 3.1 0 1 0 6.2 0a3.1 3.1 0 1 0 -6.2 0M682.9 122.1a1.5 1.5 0 1 0 3.0 0a1.5 1.5 0 1 0 -3.0 0M676.1 46.5a1.7 1.7 0 1 0 3.4 0a1.7 1.7 0 1 0 -3.4 0M650.0 116.4a3.7 3.7 0 1 0 7.5 0a3.7 3.7 0 1 0 -7.5 0M705.7 162.4a2.9 2.9 0 1 0 5.7 0a2.9 2.9 0 1 0 -5.7 0M761.7 37.4a3.0 3.0 0 1 0 5.9 0a3.0 3.0 0 1 0 -5.9 0M659.2 33.8a1.7 1.7 0 1 0 3.5 0a1.7 1.7 0 1 0 -3.5 0M662.2 143.6a1.6 1.6 0 1 0 3.1 0a1.6 1.6 0 1 0 -3.1 0M805.0 115.8a3.9 3.9 0 1 0 7.8 0a3.9 3.9 0 1 0 -7.8 0M658.1 12.3a3.6 3.6 0 1 0 7.2 0a3.6 3.6 0 1 0 -7.2 0M658.9 156.5a2.9 2.9 0 1 0 5.7 0a2.9 2.9 0 1 0 -5.7 0M710.3 157.2a1.8 1.8 0 1 0 3.7 0a1.8 1.8 0 1 0 -3.7 0M694.2 93.3a1.7 1.7 0 1 0 3.4 0a1.7 1.7 0 1 0 -3.4 0M653.7 100.2a3.7 3.7 0 1 0 7.5 0a3.7 3.7 0 1 0 -7.5 0M732.8 132.4a3.6 3.6 0 1 0 7.2 0a3.6 3.6 0 1 0 -7.2 0M743.2 92.0a1.4 1.4 0 1 0 2.7 0a1.4 1.4 0 1 0 -2.7 0M724.0 121.5a3.8 3.8 0 1 0 7.5 0a3.8 3.8 0 1 0 -7.5 0M716.1 95.7a1.8 1.8 0 1 0 3.6 0a1.8 1.8 0 1 0 -3.6 0M758.7 151.3a1.7 1.7 0 1 0 3.3 0a1.7 1.7 0 1 0 -3.3 0M734.3 161.4a1.5 1.5 0 1 0 3.1 0a1.5 1.5 0 1 0 -3.1 0M657.4 81.2a2.7 2.7 0 1 0 5.4 0a2.7 2.7 0 1 0 -5.4 0M648.6 48.7a3.0 3.0 0 1 0 6.0 0a3.0 3.0 0 1 0 -6.0 0M771.9 154.4a3.0 3.0 0 1 0 6.0 0a3.0 3.0 0 1 0 -6.0 0M752.0 33.4a1.7 1.7 0 1 0 3.5 0a1.7 1.7 0 1 0 -3.5 0M706.8 88.4a1.7 1.7 0 1 0 3.5 0a1.7 1.7 0 1 0 -3.5 0M665.7 79.4a1.7 1.7 0 1 0 3.3 0a1.7 1.7 0 1 0 -3.3 0M760.9 13.1a3.2 3.2 0 1 0 6.5 0a3.2 3.2 0 1 0 -6.5 0M654.4 52.8a2.8 2.8 0 1 0 5.5 0a2.8 2.8 0 1 0 -5.5 0M734.7 122.8a3.1 3.1 0 1 0 6.3 0a3.1 3.1 0 1 0 -6.3 0M653.0 19.8a1.6 1.6 0 1 0 3.2 0a1.6 1.6 0 1 0 -3.2 0M652.0 147.8a1.7 1.7 0 1 0 3.3 0a1.7 1.7 0 1 0 -3.3 0M715.8 64.6a1.9 1.9 0 1 0 3.7 0a1.9 1.9 0 1 0 -3.7 0M722.7 38.6a3.0 3.0 0 1 0 5.9 0a3.0 3.0 0 1 0 -5.9 0M797.8 27.1a3.2 3.2 0 1 0 6.4 0a3.2 3.2 0 1 0 -6.4 0M777.9 79.6a3.0 3.0 0 1 0 6.0 0a3.0 3.0 0 1 0 -6.0 0M754.5 168.2a3.7 3.7 0 1 0 7.3 0a3.7 3.7 0 1 0 -7.3 0M705.4 66.0a3.7 3.7 0 1 0 7.5 0a3.7 3.7 0 1 0 -7.5 0M646.2 31.3a1.8 1.8 0 1 0 3.7 0a1.8 1.8 0 1 0 -3.7 0M679.5 36.3a3.8 3.8 0 1 0 7.6 0a3.8 3.8 0 1 0 -7.6 0M650.9 74.3a3.7 3.7 0 1 0 7.4 0a3.7 3.7 0 1 0 -7.4 0M765.4 115.9a3.7 3.7 0 1 0 7.4 0a3.7 3.7 0 1 0 -7.4 0M643.8 144.5a2.7 2.7 0 1 0 5.5 0a2.7 2.7 0 1 0 -5.5 0M775.2 143.1a3.3 3.3 0 1 0 6.5 0a3.3 3.3 0 1 0 -6.5 0M732.4 111.1a3.3 3.3 0 1 0 6.7 0a3.3 3.3 0 1 0 -6.7 0M744.3 119.6a3.2 3.2 0 1 0 6.4 0a3.2 3.2 0 1 0 -6.4 0M720.0 10.5a3.8 3.8 0 1 0 7.5 0a3.8 3.8 0 1 0 -7.5 0M768.1 109.3a3.8 3.8 0 1 0 7.6 0a3.8 3.8 0 1 0 -7.6 0M661.0 50.9a3.5 3.5 0 1 0 7.0 0a3.5 3.5 0 1 0 -7.0 0M638.6 83.9a3.4 3.4 0 1 0 6.8 0a3.4 3.4 0 1 0 -6.8 0M795.9 124.8a3.7 3.7 0 1 0 7.4 0a3.7 3.7 0 1 0 -7.4 0M809.4 104.9a2.7 2.7 0 1 0 5.4 0a2.7 2.7 0 1 0 -5.4 0M686.9 160.6a1.9 1.9 0 1 0 3.7 0a1.9 1.9 0 1 0 -3.7 0M788.6 140.7a3.7 3.7 0 1 0 7.3 0a3.7 3.7 0 1 0 -7.3 0M687.7 129.0a2.9 2.9 0 1 0 5.8 0a2.9 2.9 0 1 0 -5.8 0M723.9 45.6a1.4 1.4 0 1 0 2.8 0a1.4 1.4 0 1 0 -2.8 0M795.0 169.9a1.7 1.7 0 1 0 3.3 0a1.7 1.7 0 1 0 -3.3 0M668.8 24.6a3.5 3.5 0 1 0 7.0 0a3.5 3.5 0 1 0 -7.0 0M676.7 51.6a3.8 3.8 0 1 0 7.5 0a3.8 3.8 0 1 0 -7.5 0M765.5 76.5a3.4 3.4 0 1 0 6.8 0a3.4 3.4 0 1 0 -6.8 0M785.5 44.8a3.0 3.0 0 1 0 6.1 0a3.0 3.0 0 1 0 -6.1 0M801.2 146.6a3.1 3.1 0 1 0 6.1 0a3.1 3.1 0 1 0 -6.1 0M787.3 13.5a2.9 2.9 0 1 0 5.8 0a2.9 2.9 0 1 0 -5.8 0M791.3 86.2a2.9 2.9 0 1 0 5.9 0a2.9 2.9 0 1 0 -5.9 0M747.8 58.9a3.1 3.1 0 1 0 6.2 0a3.1 3.1 0 1 0 -6.2 0M702.6 46.0a3.6 3.6 0 1 0 7.3 0a3.6 3.6 0 1 0 -7.3 0M691.2 13.0a1.4 1.4 0 1 0 2.8 0a1.4 1.4 0 1 0 -2.8 0M754.4 41.9a2.9 2.9 0 1 0 5.7 0a2.9 2.9 0 1 0 -5.7 0M667.2 10.8a1.5 1.5 0 1 0 3.1 0a1.5 1.5 0 1 0 -3.1 0M646.3 86.8a1.7 1.7 0 1 0 3.4 0a1.7 1.7 0 1 0 -3.4 0M699.7 158.0a3.9 3.9 0 1 0 7.7 0a3.9 3.9 0 1 0 -7.7 0M669.7 68.6a2.8 2.8 0 1 0 5.6 0a2.8 2.8 0 1 0 -5.6 0M769.9 16.4a1.6 1.6 0 1 0 3.2 0a1.6 1.6 0 1 0 -3.2 0M799.5 13.9a2.9 2.9 0 1 0 5.9 0a2.9 2.9 0 1 0 -5.9 0M710.4 89.4a3.1 3.1 0 1 0 6.3 0a3.1 3.1 0 1 0 -6.3 0M742.2 63.3a1.4 1.4 0 1 0 2.8 0a1.4 1.4 0 1 0 -2.8 0M679.1 20.4a2.7 2.7 0 1 0 5.4 0a2.7 2.7 0 1 0 -5.4 0M692.0 167.8a3.5 3.5 0 1 0 6.9 0a3.5 3.5 0 1 0 -6.9 0M775.5 115.2a3.6 3.6 0 1 0 7.2 0a3.6 3.6 0 1 0 -7.2 0M681.2 135.2a2.9 2.9 0 1 0 5.8 0a2.9 2.9 0 1 0 -5.8 0M701.0 41.2a1.4 1.4 0 1 0 2.8 0a1.4 1.4 0 1 0 -2.8 0M636.3 155.2a3.7 3.7 0 1 0 7.3 0a3.7 3.7 0 1 0 -7.3 0M699.8 91.2a3.5 3.5 0 1 0 7.0 0a3.5 3.5 0 1 0 -7.0 0M670.1 30.4a3.1 3.1 0 1 0 6.2 0a3.1 3.1 0 1 0 -6.2 0M714.3 80.4a1.9 1.9 0 1 0 3.8 0a1.9 1.9 0 1 0 -3.8 0M654.1 169.9a3.0 3.0 0 1 0 6.0 0a3.0 3.0 0 1 0 -6.0 0M699.2 132.5a1.7 1.7 0 1 0 3.5 0a1.7 1.7 0 1 0 -3.5 0M737.7 116.9a2.9 2.9 0 1 0 5.7 0a2.9 2.9 0 1 0 -5.7 0M742.1 79.6a3.6 3.6 0 1 0 7.2 0a3.6 3.6 0 1 0 -7.2 0M744.4 86.5a2.7 2.7 0 1 0 5.4 0a2.7 2.7 0 1 0 -5.4 0M747.4 81.4a3.5 3.5 0 1 0 7.0 0a3.5 3.5 0 1 0 -7.0 0M672.3 107.5a1.7 1.7 0 1 0 3.5 0a1.7 1.7 0 1 0 -3.5 0M789.7 62.4a1.4 1.4 0 1 0 2.8 0a1.4 1.4 0 1 0 -2.8 0M653.4 25.8a2.9 2.9 0 1 0 5.8 0a2.9 2.9 0 1 0 -5.8 0M804.9 91.6a1.5 1.5 0 1 0 3.0 0a1.5 1.5 0 1 0 -3.0 0M696.1 123.5a3.0 3.0 0 1 0 5.9 0a3.0 3.0 0 1 0 -5.9 0M722.8 138.2a1.9 1.9 0 1 0 3.9 0a1.9 1.9 0 1 0 -3.9 0M756.7 136.7a3.1 3.1 0 1 0 6.3 0a3.1 3.1 0 1 0 -6.3 0M758.8 146.4a1.6 1.6 0 1 0 3.2 0a1.6 1.6 0 1 0 -3.2 0M694.1 40.1a1.4 1.4 0 1 0 2.9 0a1.4 1.4 0 1 0 -2.9 0M704.9 137.4a3.2 3.2 0 1 0 6.4 0a3.2 3.2 0 1 0 -6.4 0M744.3 50.3a3.9 3.9 0 1 0 7.7 0a3.9 3.9 0 1 0 -7.7 0M668.5 115.2a1.9 1.9 0 1 0 3.8 0a1.9 1.9 0 1 0 -3.8 0M770.3 72.6a3.5 3.5 0 1 0 7.0 0a3.5 3.5 0 1 0 -7.0 0M722.8 167.3a1.6 1.6 0 1 0 3.3 0a1.6 1.6 0 1 0 -3.3 0M732.4 52.6a2.8 2.8 0 1 0 5.6 0a2.8 2.8 0 1 0 -5.6 0M675.7 32.4a3.9 3.9 0 1 0 7.8 0a3.9 3.9 0 1 0 -7.8 0M752.5 144.8a1.6 1.6 0 1 0 3.1 0a1.6 1.6 0 1 0 -3.1 0M802.6 22.1a2.9 2.9 0 1 0 5.8 0a2.9 2.9 0 1 0 -5.8 0M746.1 112.4a3.3 3.3 0 1 0 6.6 0a3.3 3.3 0 1 0 -6.6 0M667.6 16.0a2.9 2.9 0 1 0 5.7 0a2.9 2.9 0 1 0 -5.7 0M740.4 160.6a1.5 1.5 0 1 0 3.0 0a1.5 1.5 0 1 0 -3.0 0M636.2 120.1a3.7 3.7 0 1 0 7.3 0a3.7 3.7 0 1 0 -7.3 0M761.9 23.6a3.6 3.6 0 1 0 7.1 0a3.6 3.6 0 1 0 -7.1 0M776.9 22.8a3.8 3.8 0 1 0 7.5 0a3.8 3.8 0 1 0 -7.5 0M716.0 43.3a3.6 3.6 0 1 0 7.3 0a3.6 3.6 0 1 0 -7.3 0M774.6 84.5a1.5 1.5 0 1 0 3.1 0a1.5 1.5 0 1 0 -3.1 0M650.8 139.9a3.4 3.4 0 1 0 6.9 0a3.4 3.4 0 1 0 -6.9 0M772.2 35.1a3.2 3.2 0 1 0 6.4 0a3.2 3.2 0 1 0 -6.4 0M771.1 78.6a2.9 2.9 0 1 0 5.8 0a2.9 2.9 0 1 0 -5.8 0M752.0 73.3a3.1 3.1 0 1 0 6.2 0a3.1 3.1 0 1 0 -6.2 0M768.4 161.6a1.8 1.8 0 1 0 3.6 0a1.8 1.8 0 1 0 -3.6 0M698.4 169.6a3.8 3.8 0 1 0 7.5 0a3.8 3.8 0 1 0 -7.5 0M668.3 143.9a3.0 3.0 0 1 0 5.9 0a3.0 3.0 0 1 0 -5.9 0M759.0 26.4a1.6 1.6 0 1 0 3.3 0a1.6 1.6 0 1 0 -3.3 0M705.8 32.0a3.5 3.5 0 1 0 7.1 0a3.5 3.5 0 1 0 -7.1 0M738.8 148.6a2.7 2.7 0 1 0 5.5 0a2.7 2.7 0 1 0 -5.5 0M711.4 168.0a3.1 3.1 0 1 0 6.3 0a3.1 3.1 0 1 0 -6.3 0M685.4 169.0a2.9 2.9 0 1 0 5.9 0a2.9 2.9 0 1 0 -5.9 0M686.6 134.3a3.6 3.6 0 1 0 7.2 0a3.6 3.6 0 1 0 -7.2 0M740.4 71.1a3.8 3.8 0 1 0 7.7 0a3.8 3.8 0 1 0 -7.7 0M736.4 24.2a3.4 3.4 0 1 0 6.7 0a3.4 3.4 0 1 0 -6.7 0M783.2 145.0a1.8 1.8 0 1 0 3.7 0a1.8 1.8 0 1 0 -3.7 0M697.0 162.6a2.8 2.8 0 1 0 5.6 0a2.8 2.8 0 1 0 -5.6 0M724.3 27.8a3.5 3.5 0 1 0 7.0 0a3.5 3.5 0 1 0 -7.0 0M665.2 56.6a1.5 1.5 0 1 0 2.9 0a1.5 1.5 0 1 0 -2.9 0" fill="#303030"/>
<path d="M646.1 91.7a2.9 2.9 0 1 0 5.9 0a2.9 2.9 0 1 0 -5.9 0M710.8 142.8a1.4 1.4 0 1 0 2.7 0a1.4 1.4 0 1 0 -2.7 0M743.9 162.6a3.9 3.9 0 1 0 7.7 0a3.9 3.9 0 1 0 -7.7 0M804.3 17.5a3.8 3.8 0 1 0 7.7 0a3.8 3.8 0 1 0 -7.7 0M784.1 56.6a3.7 3.7 0 1 0 7.3 0a3.7 3.7 0 1 0 -7.3 0M732.0 20.1a1.6 1.6 0 1 0 3.2 0a1.6 1.6 0 1 0 -3.2 0M645.8 43.2a3.5 3.5 0 1 0 7.1 0a3.5 3.5 0 1 0 -7.1 0M690.1 104.3a3.4 3.4 0 1 0 6.8 0a3.4 3.4 0 1 0 -6.8 0M679.6 102.7a1.9 1.9 0 1 0 3.8 0a1.9 1.9 0 1 0 -3.8 0M768.5 102.3a3.0 3.0 0 1 0 5.9 0a3.0 3.0 0 1 0 -5.9 0M719.7 117.3a1.7 1.7 0 1 0 3.3 0a1.7 1.7 0 1 0 -3.3 0M647.3 122.8a1.7 1.7 0 1 0 3.4 0a1.7 1.7 0 1 0 -3.4 0M748.2 169.9a2.9 2.9 0 1 0 5.9 0a2.9 2.9 0 1 0 -5.9 0M702.5 117.7a3.4 3.4 0 1 0 6.8 0a3.4 3.4 0 1 0 -6.8 0M703.7 150.3a3.0 3.0 0 1 0 6.1 0a3.0 3.0 0 1 0 -6.1 0M650.1 82.3a2.8 2.8 0 1 0 5.7 0a2.8 2.8 0 1 0 -5.7 0M724.6 109.4a3.7 3.7 0 1 0 7.5 0a3.7 3.7 0 1 0 -7.5 0M671.4 36.1a3.8 3.8 0 1 0 7.6 0a3.8 3.8 0 1 0 -7.6 0M636.3 34.4a2.8 2.8 0 1 0 5.5 0a2.8 2.8 0 1 0 -5.5 0M698.8 29.8a3.3 3.3 0 1 0 6.7 0a3.3 3.3 0 1 0 -6.7 0M779.7 36.0a3.0 3.0 0 1 0 6.0 0a3.0 3.0 0 1 0 -6.0 0M727.6 33.6a2.9 2.9 0 1 0 5.8 0a2.9 2.9 0 1 0 -5.8 0M727.8 135.4a3.5 3.5 0 1 0 7.0 0a3.5 3.5 0 1 0 -7.0 0M778.4 168.8a1.7 1.7 0 1 0 3.3 0a1.7 1.7 0 1 0 -3.3 0M778.0 129.1a2.8 2.8 0 1 0 5.6 0a2.8 2.8 0 1 0 -5.6 0M675.4 93.3a2.9 2.9 0 1 0 5.8 0a2.9 2.9 0 1 0 -5.8 0M680.9 121.5a3.0 3.0 0 1 0 6.1 0a3.0 3.0 0 1 0 -6.1 0M798.3 169.1a3.1 3.1 0 1 0 6.3 0a3.1 3.1 0 1 0 -6.3 0M673.8 46.5a3.4 3.4 0 1 0 6.7 0a3.4 3.4 0 1 0 -6.7 0M670.1 42.9a3.0 3.0 0 1 0 6.0 0a3.0 3.0 0 1 0 -6.0 0M743.8 154.9a3.4 3.4 0 1 0 6.8 0a3.4 3.4 0 1 0 -6.8 0M780.8 87.2a3.8 3.8 0 1 0 7.6 0a3.8 3.8 0 1 0 -7.6 0M749.0 138.7a3.1 3.1 0 1 0 6.3 0a3.1 3.1 0 1 0 -6.3 0M767.6 87.4a1.5 1.5 0 1 0 3.0 0a1.5 1.5 0 1 0 -3.0 0M806.3 74.2a1.5 1.5 0 1 0 2.9 0a1.5 1.5 0 1 0 -2.9 0M657.5 34.3a3.5 3.5 0 1 0 7.0 0a3.5 3.5 0 1 0 -7.0 0M661.2 143.1a3.1 3.1 0 1 0 6.2 0a3.1 3.1 0 1 0 -6.2 0M726.8 160.3a3.4 3.4 0 1 0 6.8 0a3.4 3.4 0 1 0 -6.8 0M710.5 150.4a3.6 3.6 0 1 0 7.3 0a3.6 3.6 0 1 0 -7.3 0M681.2 56.7a1.7 1.7 0 1 0 3.5 0a1.7 1.7 0 1 0 -3.5 0M699.2 83.5a1.5 1.5 0 1 0 2.9 0a1.5 1.5 0 1 0 -2.9 0M736.8 155.6a3.3 3.3 0 1 0 6.6 0a3.3 3.3 0 1 0 -6.6 0M708.2 157.8a3.7 3.7 0 1 0 7.3 0a3.7 3.7 0 1 0 -7.3 0M724.8 96.2a1.6 1.6 0 1 0 3.2 0a1.6 1.6 0 1 0 -3.2 0M712.3 39.5a3.0 3.0 0 1 0 5.9 0a3.0 3.0 0 1 0 -5.9 0M763.3 99.2a1.8 1.8 0 1 0 3.6 0a1.8 1.8 0 1 0 -3.6 0M692.1 93.5a3.4 3.4 0 1 0 6.8 0a3.4 3.4 0 1 0 -6.8 0M770.1 91.7a2.7 2.7 0 1 0 5.4 0a2.7 2.7 0 1 0 -5.4 0M742.4 91.4a2.7 2.7 0 1 0 5.5 0a2.7 2.7 0 1 0 -5.5 0M713.8 95.9a3.6 3.6 0 1 0 7.2 0a3.6 3.6 0 1 0 -7.2 0M719.6 161.1a1.9 1.9 0 1 0 3.9 0a1.9 1.9 0 1 0 -3.9 0M756.9 151.1a3.3 3.3 0 1 0 6.6 0a3.3 3.3 0 1 0 -6.6 0M732.9 161.9a3.1 3.1 0 1 0 6.2 0a3.1 3.1 0 1 0 -6.2 0M663.0 125.3a2.8 2.8 0 1 0 5.5 0a2.8 2.8 0 1 0 -5.5 0M673.5 163.4a3.6 3.6 0 1 0 7.1 0a3.6 3.6 0 1 0 -7.1 0M807.2 144.0a3.3 3.3 0 1 0 6.7 0a3.3 3.3 0 1 0 -6.7 0M726.9 65.0a1.8 1.8 0 1 0 3.7 0a1.8 1.8 0 1 0 -3.7 0M670.0 61.3a2.9 2.9 0 1 0 5.8 0a2.9 2.9 0 1 0 -5.8 0M646.8 168.6a3.3 3.3 0 1 0 6.6 0a3.3 3.3 0 1 0 -6.6 0M649.1 161.4a1.9 1.9 0 1 0 3.9 0a1.9 1.9 0 1 0 -3.9 0M650.2 147.9a3.3 3.3 0 1 0 6.7 0a3.3 3.3 0 1 0 -6.7 0M713.9 64.6a3.7 3.7 0 1 0 7.4 0a3.7 3.7 0 1 0 -7.4 0M726.8 48.4a3.5 3.5 0 1 0 7.0 0a3.5 3.5 0 1 0 -7.0 0M667.9 86.4a3.9 3.9 0 1 0 7.8 0a3.9 3.9 0 1 0 -7.8 0M721.4 144.4a3.3 3.3 0 1 0 6.7 0a3.3 3.3 0 1 0 -6.7 0M695.0 144.0a3.4 3.4 0 1 0 6.8 0a3.4 3.4 0 1 0 -6.8 0M759.8 112.6a1.6 1.6 0 1 0 3.2 0a1.6 1.6 0 1 0 -3.2 0M644.8 30.9a3.7 3.7 0 1 0 7.3 0a3.7 3.7 0 1 0 -7.3 0M684.7 49.0a3.2 3.2 0 1 0 6.4 0a3.2 3.2 0 1 0 -6.4 0M680.9 164.8a3.7 3.7 0 1 0 7.4 0a3.7 3.7 0 1 0 -7.4 0M804.5 98.1a3.1 3.1 0 1 0 6.2 0a3.1 3.1 0 1 0 -6.2 0M691.0 67.1a1.8 1.8 0 1 0 3.7 0a1.8 1.8 0 1 0 -3.7 0M636.4 71.4a2.8 2.8 0 1 0 5.6 0a2.8 2.8 0 1 0 -5.6 0M643.2 13.6a3.0 3.0 0 1 0 6.1 0a3.0 3.0 0 1 0 -6.1 0M738.4 94.9a1.6 1.6 0 1 0 3.3 0a1.6 1.6 0 1 0 -3.3 0M790.5 111.0a3.1 3.1 0 1 0 6.2 0a3.1 3.1 0 1 0 -6.2 0M763.4 140.8a2.8 2.8 0 1 0 5.5 0a2.8 2.8 0 1 0 -5.5 0M659.5 94.3a3.6 3.6 0 1 0 7.3 0a3.6 3.6 0 1 0 -7.3 0M754.0 121.6a3.4 3.4 0 1 0 6.8 0a3.4 3.4 0 1 0 -6.8 0M660.7 67.6a1.9 1.9 0 1 0 3.7 0a1.9 1.9 0 1 0 -3.7 0M763.2 50.6a3.5 3.5 0 1 0 7.1 0a3.5 3.5 0 1 0 -7.1 0M764.0 43.4a1.5 1.5 0 1 0 3.1 0a1.5 1.5 0 1 0 -3.1 0M764.4 167.1a2.8 2.8 0 1 0 5.5 0a2.8 2.8 0 1 0 -5.5 0M721.5 71.6a3.1 3.1 0 1 0 6.2 0a3.1 3.1 0 1 0 -6.2 0M752.2 56.8a3.9 3.9 0 1 0 7.8 0a3.9 3.9 0 1 0 -7.8 0M792.8 42.6a1.4 1.4 0 1 0 2.9 0a1.4 1.4 0 1 0 -2.9 0M804.9 160.7a3.6 3.6 0 1 0 7.2 0a3.6 3.6 0 1 0 -7.2 0M777.5 91.9a3.6 3.6 0 1 0 7.3 0a3.6 3.6 0 1 0 -7.3 0M636.6 89.2a3.0 3.0 0 1 0 6.0 0a3.0 3.0 0 1 0 -6.0 0M636.4 130.9a2.9 2.9 0 1 0 5.9 0a2.9 2.9 0 1 0 -5.9 0M780.9 29.3a3.6 3.6 0 1 0 7.1 0a3.6 3.6 0 1 0 -7.1 0M685.1 17.4a1.4 1.4 0 1 0 2.8 0a1.4 1.4 0 1 0 -2.8 0M762.1 82.6a3.8 3.8 0 1 0 7.5 0a3.8 3.8 0 1 0 -7.5 0M806.6 51.4a1.5 1.5 0 1 0 2.9 0a1.5 1.5 0 1 0 -2.9 0M696.3 24.2a1.8 1.8 0 1 0 3.6 0a1.8 1.8 0 1 0 -3.6 0M707.1 94.4a3.6 3.6 0 1 0 7.2 0a3.6 3.6 0 1 0 -7.2 0M737.9 10.0a2.8 2.8 0 1 0 5.7 0a2.8 2.8 0 1 0 -5.7 0M726.3 103.8a3.6 3.6 0 1 0 7.2 0a3.6 3.6 0 1 0 -7.2 0M803.9 60.2a3.2 3.2 0 1 0 6.4 0a3.2 3.2 0 1 0 -6.4 0M674.0 132.4a3.4 3.4 0 1 0 6.8 0a3.4 3.4 0 1 0 -6.8 0M660.2 18.3a3.4 3.4 0 1 0 6.9 0a3.4 3.4 0 1 0 -6.9 0M791.7 152.3a3.0 3.0 0 1 0 5.9 0a3.0 3.0 0 1 0 -5.9 0M797.3 63.0a3.1 3.1 0 1 0 6.3 0a3.1 3.1 0 1 0 -6.3 0M667.4 160.7a3.7 3.7 0 1 0 7.4 0a3.7 3.7 0 1 0 -7.4 0M701.8 63.6a1.7 1.7 0 1 0 3.4 0a1.7 1.7 0 1 0 -3.4 0M804.2 43.5a1.4 1.4 0 1 0 2.7 0a1.4 1.4 0 1 0 -2.7 0M644.1 86.2a3.4 3.4 0 1 0 6.8 0a3.4 3.4 0 1 0 -6.8 0M643.8 19.7a1.5 1.5 0 1 0 2.9 0a1.5 1.5 0 1 0 -2.9 0M801.4 109.3a3.6 3.6 0 1 0 7.1 0a3.6 3.6 0 1 0 -7.1 0M797.5 39.8a1.9 1.9 0 1 0 3.8 0a1.9 1.9 0 1 0 -3.8 0M773.0 23.1a1.9 1.9 0 1 0 3.8 0a1.9 1.9 0 1 0 -3.8 0M643.6 99.4a1.4 1.4 0 1 0 2.8 0a1.4 1.4 0 1 0 -2.8 0M652.8 90.3a2.9 2.9 0 1 0 5.9 0a2.9 2.9 0 1 0 -5.9 0M767.4 146.6a1.4 1.4 0 1 0 2.8 0a1.4 1.4 0 1 0 -2.8 0M704.9 169.8a2.8 2.8 0 1 0 5.6 0a2.8 2.8 0 1 0 -5.6 0M656.9 40.5a2.8 2.8 0 1 0 5.5 0a2.8 2.8 0 1 0 -5.5 0M785.6 82.3a3.5 3.5 0 1 0 6.9 0a3.5 3.5 0 1 0 -6.9 0M741.2 110.3a1.5 1.5 0 1 0 2.9 0a1.5 1.5 0 1 0 -2.9 0M749.2 42.8a2.7 2.7 0 1 0 5.4 0a2.7 2.7 0 1 0 -5.4 0M773.1 98.2a3.7 3.7 0 1 0 7.4 0a3.7 3.7 0 1 0 -7.4 0M719.5 18.6a3.1 3.1 0 1 0 6.3 0a3.1 3.1 0 1 0 -6.3 0M773.7 45.9a1.4 1.4 0 1 0 2.8 0a1.4 1.4 0 1 0 -2.8 0M712.6 80.6a3.8 3.8 0 1 0 7.7 0a3.8 3.8 0 1 0 -7.7 0M767.4 135.6a3.9 3.9 0 1 0 7.8 0a3.9 3.9 0 1 0 -7.8 0M669.6 168.1a3.0 3.0 0 1 0 6.0 0a3.0 3.0 0 1 0 -6.0 0M772.5 159.8a3.1 3.1 0 1 0 6.2 0a3.1 3.1 0 1 0 -6.2 0M766.6 35.6a3.5 3.5 0 1 0 6.9 0a3.5 3.5 0 1 0 -6.9 0M671.3 52.3a3.8 3.8 0 1 0 7.7 0a3.8 3.8 0 1 0 -7.7 0M642.4 39.3a3.0 3.0 0 1 0 5.9 0a3.0 3.0 0 1 0 -5.9 0M751.2 13.3a1.4 1.4 0 1 0 2.8 0a1.4 1.4 0 1 0 -2.8 0M737.4 42.9a3.7 3.7 0 1 0 7.3 0a3.7 3.7 0 1 0 -7.3 0M637.0 146.0a3.1 3.1 0 1 0 6.3 0a3.1 3.1 0 1 0 -6.3 0M674.5 27.0a3.6 3.6 0 1 0 7.3 0a3.6 3.6 0 1 0 -7.3 0M733.3 80.0a1.6 1.6 0 1 0 3.2 0a1.6 1.6 0 1 0 -3.2 0M765.6 62.6a2.7 2.7 0 1 0 5.5 0a2.7 2.7 0 1 0 -5.5 0M788.7 62.9a2.8 2.8 0 1 0 5.7 0a2.8 2.8 0 1 0 -5.7 0M713.4 126.7a1.6 1.6 0 1 0 3.3 0a1.6 1.6 0 1 0 -3.3 0M734.0 59.5a3.9 3.9 0 1 0 7.7 0a3.9 3.9 0 1 0 -7.7 0M647.6 105.1a2.8 2.8 0 1 0 5.6 0a2.8 2.8 0 1 0 -5.6 0M794.2 162.0a3.2 3.2 0 1 0 6.5 0a3.2 3.2 0 1 0 -6.5 0M803.1 91.1a3.0 3.0 0 1 0 6.0 0a3.0 3.0 0 1 0 -6.0 0M782.8 109.5a3.7 3.7 0 1 0 7.5 0a3.7 3.7 0 1 0 -7.5 0M785.2 24.6a3.2 3.2 0 1 0 6.4 0a3.2 3.2 0 1 0 -6.4 0M635.4 42.5a3.8 3.8 0 1 0 7.7 0a3.8 3.8 0 1 0 -7.7 0M756.4 90.2a3.9 3.9 0 1 0 7.7 0a3.9 3.9 0 1 0 -7.7 0M804.8 127.3a3.2 3.2 0 1 0 6.5 0a3.2 3.2 0 1 0 -6.5 0M806.5 138.0a3.0 3.0 0 1 0 6.0 0a3.0 3.0 0 1 0 -6.0 0M704.7 16.0a1.4 1.4 0 1 0 2.8 0a1.4 1.4 0 1 0 -2.8 0M659.9 107.2a3.7 3.7 0 1 0 7.3 0a3.7 3.7 0 1 0 -7.3 0M690.4 111.2a2.8 2.8 0 1 0 5.7 0a2.8 2.8 0 1 0 -5.7 0M672.4 120.2a3.0 3.0 0 1 0 6.0 0a3.0 3.0 0 1 0 -6.0 0M674.9 138.5a1.7 1.7 0 1 0 3.5 0a1.7 1.7 0 1 0 -3.5 0M658.2 135.0a3.2 3.2 0 1 0 6.4 0a3.2 3.2 0 1 0 -6.4 0M718.2 100.7a1.6 1.6 0 1 0 3.1 0a1.6 1.6 0 1 0 -3.1 0M781.4 67.5a1.8 1.8 0 1 0 3.5 0a1.8 1.8 0 1 0 -3.5 0M742.6 136.1a1.9 1.9 0 1 0 3.7 0a1.9 1.9 0 1 0 -3.7 0M722.7 53.7a3.6 3.6 0 1 0 7.1 0a3.6 3.6 0 1 0 -7.1 0M738.6 161.0a3.0 3.0 0 1 0 6.0 0a3.0 3.0 0 1 0 -6.0 0M807.0 86.7a1.7 1.7 0 1 0 3.5 0a1.7 1.7 0 1 0 -3.5 0M707.6 26.4a2.9 2.9 0 1 0 5.8 0a2.9 2.9 0 1 0 -5.8 0M799.9 136.3a2.8 2.8 0 1 0 5.7 0a2.8 2.8 0 1 0 -5.7 0M773.1 84.0a3.1 3.1 0 1 0 6.2 0a3.1 3.1 0 1 0 -6.2 0M788.9 94.0a3.5 3.5 0 1 0 6.9 0a3.5 3.5 0 1 0 -6.9 0M642.9 169.5a1.5 1.5 0 1 0 3.0 0a1.5 1.5 0 1 0 -3.0 0M732.4 150.2a3.2 3.2 0 1 0 6.4 0a3.2 3.2 0 1 0 -6.4 0M795.7 20.5a1.5 1.5 0 1 0 3.0 0a1.5 1.5 0 1 0 -3.0 0M658.7 164.0a1.6 1.6 0 1 0 3.3 0a1.6 1.6 0 1 0 -3.3 0M781.2 17.6a2.9 2.9 0 1 0 5.9 0a2.9 2.9 0 1 0 -5.9 0M654.1 62.2a3.1 3.1 0 1 0 6.3 0a3.1 3.1 0 1 0 -6.3 0M690.2 155.4a3.9 3.9 0 1 0 7.8 0a3.9 3.9 0 1 0 -7.8 0M645.2 154.1a3.7 3.7 0 1 0 7.4 0a3.7 3.7 0 1 0 -7.4 0M680.3 42.5a3.3 3.3 0 1 0 6.7 0a3.3 3.3 0 1 0 -6.7 0M734.4 32.2a3.6 3.6 0 1 0 7.2 0a3.6 3.6 0 1 0 -7.2 0M778.6 104.2a1.4 1.4 0 1 0 2.8 0a1.4 1.4 0 1 0 -2.8 0M699.8 36.3a2.8 2.8 0 1 0 5.6 0a2.8 2.8 0 1 0 -5.6 0M657.0 125.0a2.9 2.9 0 1 0 5.9 0a2.9 2.9 0 1 0 -5.9 0M757.5 26.6a3.3 3.3 0 1 0 6.6 0a3.3 3.3 0 1 0 -6.6 0M770.1 64.5a3.6 3.6 0 1 0 7.1 0a3.6 3.6 0 1 0 -7.1 0M731.8 89.1a3.7 3.7 0 1 0 7.3 0a3.7 3.7 0 1 0 -7.3 0M763.3 129.7a3.7 3.7 0 1 0 7.5 0a3.7 3.7 0 1 0 -7.5 0M781.5 144.9a3.7 3.7 0 1 0 7.3 0a3.7 3.7 0 1 0 -7.3 0M728.5 140.8a1.9 1.9 0 1 0 3.7 0a1.9 1.9 0 1 0 -3.7 0M789.5 77.8a3.4 3.4 0 1 0 6.9 0a3.4 3.4 0 1 0 -6.9 0M663.2 56.7a2.9 2.9 0 1 0 5.8 0a2.9 2.9 0 1 0 -5.8 0" fill="#404040"/>
<path d="M747.9 21.7a3.9 3.9 0 1 0 7.8 0a3.9 3.9 0 1 0 -7.8 0M641.6 79.8a3.9 3.9 0 1 0 7.8 0a3.9 3.9 0 1 0 -7.8 0M648.2 24.6a2.9 2.9 0 1 0 5.8 0a2.9 2.9 0 1 0 -5.8 0M709.9 143.1a2.7 2.7 0 1 0 5.4 0a2.7 2.7 0 1 0 -5.4 0M656.7 45.9a3.8 3.8 0 1 0 7.6 0a3.8 3.8 0 1 0 -7.6 0M661.2 29.0a2.8 2.8 0 1 0 5.7 0a2.8 2.8 0 1 0 -5.7 0M714.7 58.3a2.8 2.8 0 1 0 5.7 0a2.8 2.8 0 1 0 -5.7 0M773.8 122.5a2.9 2.9 0 1 0 5.7 0a2.9 2.9 0 1 0 -5.7 0M726.8 150.9a3.2 3.2 0 1 0 6.4 0a3.2 3.2 0 1 0 -6.4 0M662.1 88.7a3.2 3.2 0 1 0 6.4 0a3.2 3.2 0 1 0 -6.4 0M756.7 105.7a2.8 2.8 0 1 0 5.6 0a2.8 2.8 0 1 0 -5.6 0M780.9 162.1a3.7 3.7 0 1 0 7.4 0a3.7 3.7 0 1 0 -7.4 0M778.4 55.8a3.0 3.0 0 1 0 6.0 0a3.0 3.0 0 1 0 -6.0 0M645.7 133.7a3.5 3.5 0 1 0 7.0 0a3.5 3.5 0 1 0 -7.0 0M683.4 76.9a3.9 3.9 0 1 0 7.8 0a3.9 3.9 0 1 0 -7.8 0M697.4 152.4a3.8 3.8 0 1 0 7.6 0a3.8 3.8 0 1 0 -7.6 0M666.6 47.3a2.9 2.9 0 1 0 5.8 0a2.9 2.9 0 1 0 -5.8 0M791.8 135.6a3.0 3.0 0 1 0 6.1 0a3.0 3.0 0 1 0 -6.1 0M653.7 112.1a3.2 3.2 0 1 0 6.5 0a3.2 3.2 0 1 0 -6.5 0M653.5 68.5a3.1 3.1 0 1 0 6.1 0a3.1 3.1 0 1 0 -6.1 0M742.6 33.9a2.8 2.8 0 1 0 5.6 0a2.8 2.8 0 1 0 -5.6 0M694.5 52.6a3.9 3.9 0 1 0 7.7 0a3.9 3.9 0 1 0 -7.7 0M639.2 163.1a3.8 3.8 0 1 0 7.5 0a3.8 3.8 0 1 0 -7.5 0M729.5 14.4a3.6 3.6 0 1 0 7.2 0a3.6 3.6 0 1 0 -7.2 0M727.8 167.5a2.8 2.8 0 1 0 5.5 0a2.8 2.8 0 1 0 -5.5 0M784.8 122.1a3.8 3.8 0 1 0 7.6 0a3.8 3.8 0 1 0 -7.6 0M801.4 82.0a3.4 3.4 0 1 0 6.7 0a3.4 3.4 0 1 0 -6.7 0M801.4 68.7a3.1 3.1 0 1 0 6.1 0a3.1 3.1 0 1 0 -6.1 0M766.0 87.0a3.0 3.0 0 1 0 6.0 0a3.0 3.0 0 1 0 -6.0 0M804.5 73.7a2.9 2.9 0 1 0 5.9 0a2.9 2.9 0 1 0 -5.9 0M679.2 57.2a3.5 3.5 0 1 0 7.0 0a3.5 3.5 0 1 0 -7.0 0M697.4 83.8a2.9 2.9 0 1 0 5.8 0a2.9 2.9 0 1 0 -5.8 0M638.6 139.1a1.5 1.5 0 1 0 3.1 0a1.5 1.5 0 1 0 -3.1 0M798.9 51.8a3.4 3.4 0 1 0 6.7 0a3.4 3.4 0 1 0 -6.7 0M749.9 33.0a3.5 3.5 0 1 0 7.0 0a3.5 3.5 0 1 0 -7.0 0M704.6 88.4a3.5 3.5 0 1 0 6.9 0a3.5 3.5 0 1 0 -6.9 0M663.7 79.5a3.3 3.3 0 1 0 6.7 0a3.3 3.3 0 1 0 -6.7 0M638.9 63.4a3.3 3.3 0 1 0 6.5 0a3.3 3.3 0 1 0 -6.5 0M651.3 19.3a3.2 3.2 0 1 0 6.4 0a3.2 3.2 0 1 0 -6.4 0M647.7 161.1a3.9 3.9 0 1 0 7.7 0a3.9 3.9 0 1 0 -7.7 0M690.3 59.1a2.7 2.7 0 1 0 5.5 0a2.7 2.7 0 1 0 -5.5 0M695.6 12.9a3.5 3.5 0 1 0 7.0 0a3.5 3.5 0 1 0 -7.0 0M680.5 12.5a1.7 1.7 0 1 0 3.4 0a1.7 1.7 0 1 0 -3.4 0M686.0 84.0a3.8 3.8 0 1 0 7.6 0a3.8 3.8 0 1 0 -7.6 0M725.2 84.8a3.3 3.3 0 1 0 6.6 0a3.3 3.3 0 1 0 -6.6 0M675.2 154.5a3.9 3.9 0 1 0 7.7 0a3.9 3.9 0 1 0 -7.7 0M684.8 160.6a3.7 3.7 0 1 0 7.4 0a3.7 3.7 0 1 0 -7.4 0M664.3 36.0a3.7 3.7 0 1 0 7.5 0a3.7 3.7 0 1 0 -7.5 0M722.4 45.4a2.8 2.8 0 1 0 5.6 0a2.8 2.8 0 1 0 -5.6 0M792.7 170.4a3.3 3.3 0 1 0 6.7 0a3.3 3.3 0 1 0 -6.7 0M646.1 54.7a3.7 3.7 0 1 0 7.3 0a3.7 3.7 0 1 0 -7.3 0M705.4 81.8a2.9 2.9 0 1 0 5.7 0a2.9 2.9 0 1 0 -5.7 0M689.5 13.5a2.8 2.8 0 1 0 5.6 0a2.8 2.8 0 1 0 -5.6 0M750.8 159.0a3.8 3.8 0 1 0 7.7 0a3.8 3.8 0 1 0 -7.7 0M674.2 77.1a3.5 3.5 0 1 0 7.0 0a3.5 3.5 0 1 0 -7.0 0M660.7 73.3a3.7 3.7 0 1 0 7.4 0a3.7 3.7 0 1 0 -7.4 0M665.2 10.5a3.1 3.1 0 1 0 6.2 0a3.1 3.1 0 1 0 -6.2 0M803.4 43.4a2.7 2.7 0 1 0 5.5 0a2.7 2.7 0 1 0 -5.5 0M768.6 16.5a3.2 3.2 0 1 0 6.5 0a3.2 3.2 0 1 0 -6.5 0M642.1 20.1a2.9 2.9 0 1 0 5.9 0a2.9 2.9 0 1 0 -5.9 0M765.1 154.7a3.4 3.4 0 1 0 6.7 0a3.4 3.4 0 1 0 -6.7 0M741.4 62.8a2.8 2.8 0 1 0 5.7 0a2.8 2.8 0 1 0 -5.7 0M765.8 146.4a2.8 2.8 0 1 0 5.6 0a2.8 2.8 0 1 0 -5.6 0M662.1 152.4a3.5 3.5 0 1 0 7.0 0a3.5 3.5 0 1 0 -7.0 0M699.3 41.7a2.8 2.8 0 1 0 5.5 0a2.8 2.8 0 1 0 -5.5 0M772.3 45.8a2.8 2.8 0 1 0 5.7 0a2.8 2.8 0 1 0 -5.7 0M708.0 103.8a3.8 3.8 0 1 0 7.6 0a3.8 3.8 0 1 0 -7.6 0M710.0 116.1a2.7 2.7 0 1 0 5.5 0a2.7 2.7 0 1 0 -5.5 0M646.6 66.5a3.8 3.8 0 1 0 7.5 0a3.8 3.8 0 1 0 -7.5 0M787.1 99.4a3.2 3.2 0 1 0 6.5 0a3.2 3.2 0 1 0 -6.5 0M697.9 133.1a3.5 3.5 0 1 0 7.0 0a3.5 3.5 0 1 0 -7.0 0M670.1 107.9a3.5 3.5 0 1 0 7.0 0a3.5 3.5 0 1 0 -7.0 0M731.8 80.2a3.2 3.2 0 1 0 6.3 0a3.2 3.2 0 1 0 -6.3 0M756.0 128.6a3.8 3.8 0 1 0 7.7 0a3.8 3.8 0 1 0 -7.7 0M720.3 138.3a3.9 3.9 0 1 0 7.8 0a3.9 3.9 0 1 0 -7.8 0M757.6 145.8a3.2 3.2 0 1 0 6.5 0a3.2 3.2 0 1 0 -6.5 0M693.0 40.5a2.9 2.9 0 1 0 5.7 0a2.9 2.9 0 1 0 -5.7 0M666.9 115.4a3.8 3.8 0 1 0 7.6 0a3.8 3.8 0 1 0 -7.6 0M720.6 166.9a3.3 3.3 0 1 0 6.5 0a3.3 3.3 0 1 0 -6.5 0M673.4 139.0a3.5 3.5 0 1 0 7.0 0a3.5 3.5 0 1 0 -7.0 0M717.2 100.5a3.1 3.1 0 1 0 6.3 0a3.1 3.1 0 1 0 -6.3 0M751.2 145.3a3.1 3.1 0 1 0 6.2 0a3.1 3.1 0 1 0 -6.2 0M795.0 108.0a3.7 3.7 0 1 0 7.3 0a3.7 3.7 0 1 0 -7.3 0M805.5 86.5a3.5 3.5 0 1 0 6.9 0a3.5 3.5 0 1 0 -6.9 0M808.5 70.2a3.3 3.3 0 1 0 6.5 0a3.3 3.3 0 1 0 -6.5 0M641.8 169.5a3.0 3.0 0 1 0 6.1 0a3.0 3.0 0 1 0 -6.1 0M793.7 20.3a3.0 3.0 0 1 0 6.0 0a3.0 3.0 0 1 0 -6.0 0M656.5 164.4a3.3 3.3 0 1 0 6.5 0a3.3 3.3 0 1 0 -6.5 0M675.4 16.5a1.6 1.6 0 1 0 3.3 0a1.6 1.6 0 1 0 -3.3 0M766.2 161.2a3.6 3.6 0 1 0 7.2 0a3.6 3.6 0 1 0 -7.2 0M640.5 25.5a3.7 3.7 0 1 0 7.5 0a3.7 3.7 0 1 0 -7.5 0M664.3 64.3a1.9 1.9 0 1 0 3.8 0a1.9 1.9 0 1 0 -3.8 0M753.2 94.6a3.0 3.0 0 1 0 6.0 0a3.0 3.0 0 1 0 -6.0 0M711.9 110.6a3.4 3.4 0 1 0 6.8 0a3.4 3.4 0 1 0 -6.8 0M791.9 120.7a1.7 1.7 0 1 0 3.5 0a1.7 1.7 0 1 0 -3.5 0" fill="#505050"/>
<path d="M735.2 73.9a3.8 3.8 0 1 0 7.6 0a3.8 3.8 0 1 0 -7.6 0M730.8 20.1a3.2 3.2 0 1 0 6.3 0a3.2 3.2 0 1 0 -6.3 0M677.5 102.5a3.8 3.8 0 1 0 7.5 0a3.8 3.8 0 1 0 -7.5 0M736.7 83.4a2.8 2.8 0 1 0 5.6 0a2.8 2.8 0 1 0 -5.6 0M717.8 116.9a3.3 3.3 0 1 0 6.6 0a3.3 3.3 0 1 0 -6.6 0M646.2 122.9a3.4 3.4 0 1 0 6.7 0a3.4 3.4 0 1 0 -6.7 0M636.3 77.5a3.5 3.5 0 1 0 6.9 0a3.5 3.5 0 1 0 -6.9 0M640.3 150.8a3.1 3.1 0 1 0 6.2 0a3.1 3.1 0 1 0 -6.2 0M776.3 168.6a3.3 3.3 0 1 0 6.6 0a3.3 3.3 0 1 0 -6.6 0M722.8 95.6a3.2 3.2 0 1 0 6.4 0a3.2 3.2 0 1 0 -6.4 0M636.6 138.7a3.1 3.1 0 1 0 6.1 0a3.1 3.1 0 1 0 -6.1 0M761.1 99.6a3.6 3.6 0 1 0 7.2 0a3.6 3.6 0 1 0 -7.2 0M793.4 81.4a3.8 3.8 0 1 0 7.5 0a3.8 3.8 0 1 0 -7.5 0M718.0 161.6a3.9 3.9 0 1 0 7.7 0a3.9 3.9 0 1 0 -7.7 0M788.6 165.8a3.4 3.4 0 1 0 6.8 0a3.4 3.4 0 1 0 -6.8 0M724.7 64.6a3.7 3.7 0 1 0 7.4 0a3.7 3.7 0 1 0 -7.4 0M682.4 30.9a3.5 3.5 0 1 0 6.9 0a3.5 3.5 0 1 0 -6.9 0M679.0 12.5a3.4 3.4 0 1 0 6.8 0a3.4 3.4 0 1 0 -6.8 0M758.2 112.4a3.2 3.2 0 1 0 6.5 0a3.2 3.2 0 1 0 -6.5 0M689.0 67.4a3.7 3.7 0 1 0 7.3 0a3.7 3.7 0 1 0 -7.3 0M737.2 95.2a3.3 3.3 0 1 0 6.6 0a3.3 3.3 0 1 0 -6.6 0M658.4 68.1a3.7 3.7 0 1 0 7.4 0a3.7 3.7 0 1 0 -7.4 0M762.3 43.0a3.1 3.1 0 1 0 6.1 0a3.1 3.1 0 1 0 -6.1 0M716.4 29.1a3.5 3.5 0 1 0 6.9 0a3.5 3.5 0 1 0 -6.9 0M791.0 42.1a2.9 2.9 0 1 0 5.8 0a2.9 2.9 0 1 0 -5.8 0M791.8 56.7a3.5 3.5 0 1 0 7.0 0a3.5 3.5 0 1 0 -7.0 0M683.9 17.8a2.8 2.8 0 1 0 5.7 0a2.8 2.8 0 1 0 -5.7 0M799.0 98.4a3.0 3.0 0 1 0 6.1 0a3.0 3.0 0 1 0 -6.1 0M805.3 51.9a2.9 2.9 0 1 0 5.8 0a2.9 2.9 0 1 0 -5.8 0M694.7 24.7a3.6 3.6 0 1 0 7.2 0a3.6 3.6 0 1 0 -7.2 0M748.2 133.1a2.9 2.9 0 1 0 5.9 0a2.9 2.9 0 1 0 -5.9 0M708.3 51.4a3.5 3.5 0 1 0 6.9 0a3.5 3.5 0 1 0 -6.9 0M694.7 77.7a2.9 2.9 0 1 0 5.8 0a2.9 2.9 0 1 0 -5.8 0M700.4 63.4a3.4 3.4 0 1 0 6.7 0a3.4 3.4 0 1 0 -6.7 0M796.1 39.5a3.8 3.8 0 1 0 7.6 0a3.8 3.8 0 1 0 -7.6 0M777.7 134.4a3.9 3.9 0 1 0 7.8 0a3.9 3.9 0 1 0 -7.8 0M770.7 22.7a3.8 3.8 0 1 0 7.7 0a3.8 3.8 0 1 0 -7.7 0M642.1 99.0a2.8 2.8 0 1 0 5.5 0a2.8 2.8 0 1 0 -5.5 0M739.4 109.8a2.9 2.9 0 1 0 5.8 0a2.9 2.9 0 1 0 -5.8 0M639.8 109.6a3.2 3.2 0 1 0 6.5 0a3.2 3.2 0 1 0 -6.5 0M749.4 13.6a2.8 2.8 0 1 0 5.6 0a2.8 2.8 0 1 0 -5.6 0M681.7 113.4a3.3 3.3 0 1 0 6.5 0a3.3 3.3 0 1 0 -6.5 0M711.5 126.7a3.3 3.3 0 1 0 6.5 0a3.3 3.3 0 1 0 -6.5 0M703.5 15.5a2.8 2.8 0 1 0 5.5 0a2.8 2.8 0 1 0 -5.5 0M729.5 125.5a3.2 3.2 0 1 0 6.4 0a3.2 3.2 0 1 0 -6.4 0M697.1 112.8a3.1 3.1 0 1 0 6.3 0a3.1 3.1 0 1 0 -6.3 0M779.9 67.1a3.5 3.5 0 1 0 7.1 0a3.5 3.5 0 1 0 -7.1 0M740.7 135.8a3.7 3.7 0 1 0 7.4 0a3.7 3.7 0 1 0 -7.4 0M674.2 16.2a3.3 3.3 0 1 0 6.5 0a3.3 3.3 0 1 0 -6.5 0M785.7 153.1a3.5 3.5 0 1 0 6.9 0a3.5 3.5 0 1 0 -6.9 0M776.9 103.9a2.8 2.8 0 1 0 5.5 0a2.8 2.8 0 1 0 -5.5 0M678.9 141.6a3.5 3.5 0 1 0 6.9 0a3.5 3.5 0 1 0 -6.9 0M661.9 64.3a3.8 3.8 0 1 0 7.7 0a3.8 3.8 0 1 0 -7.7 0M727.2 141.4a3.7 3.7 0 1 0 7.4 0a3.7 3.7 0 1 0 -7.4 0M790.6 121.1a3.5 3.5 0 1 0 6.9 0a3.5 3.5 0 1 0 -6.9 0" fill="#606060"/>
<path d="M777.4 149.1a3.6 3.6 0 1 0 7.2 0a3.6 3.6 0 1 0 -7.2 0M738.1 52.3a3.0 3.0 0 1 0 6.0 0a3.0 3.0 0 1 0 -6.0 0M703.2 74.2a3.8 3.8 0 1 0 7.6 0a3.8 3.8 0 1 0 -7.6 0M761.7 37.4a3.0 3.0 0 1 0 5.9 0a3.0 3.0 0 1 0 -5.9 0M779.3 44.0a2.9 2.9 0 1 0 5.7 0a2.9 2.9 0 1 0 -5.7 0M777.9 79.6a3.0 3.0 0 1 0 6.0 0a3.0 3.0 0 1 0 -6.0 0M765.4 115.9a3.7 3.7 0 1 0 7.4 0a3.7 3.7 0 1 0 -7.4 0M676.7 51.6a3.8 3.8 0 1 0 7.5 0a3.8 3.8 0 1 0 -7.5 0M787.3 13.5a2.9 2.9 0 1 0 5.8 0a2.9 2.9 0 1 0 -5.8 0M791.3 86.2a2.9 2.9 0 1 0 5.9 0a2.9 2.9 0 1 0 -5.9 0M699.7 158.0a3.9 3.9 0 1 0 7.7 0a3.9 3.9 0 1 0 -7.7 0M795.9 72.5a3.6 3.6 0 1 0 7.2 0a3.6 3.6 0 1 0 -7.2 0M744.3 50.3a3.9 3.9 0 1 0 7.7 0a3.9 3.9 0 1 0 -7.7 0M636.2 120.1a3.7 3.7 0 1 0 7.3 0a3.7 3.7 0 1 0 -7.3 0M650.8 139.9a3.4 3.4 0 1 0 6.9 0a3.4 3.4 0 1 0 -6.9 0M771.1 78.6a2.9 2.9 0 1 0 5.8 0a2.9 2.9 0 1 0 -5.8 0M752.0 73.3a3.1 3.1 0 1 0 6.2 0a3.1 3.1 0 1 0 -6.2 0M698.4 169.6a3.8 3.8 0 1 0 7.5 0a3.8 3.8 0 1 0 -7.5 0M705.8 32.0a3.5 3.5 0 1 0 7.1 0a3.5 3.5 0 1 0 -7.1 0M711.4 168.0a3.1 3.1 0 1 0 6.3 0a3.1 3.1 0 1 0 -6.3 0M685.4 169.0a2.9 2.9 0 1 0 5.9 0a2.9 2.9 0 1 0 -5.9 0M736.4 24.2a3.4 3.4 0 1 0 6.7 0a3.4 3.4 0 1 0 -6.7 0M724.3 27.8a3.5 3.5 0 1 0 7.0 0a3.5 3.5 0 1 0 -7.0 0" fill="none" stroke="#404040" stroke-width="0.5" stroke-linecap="round"/>
<path d="M746.8 70.0a2.9 2.9 0 1 0 5.8 0a2.9 2.9 0 1 0 -5.8 0M724.6 109.4a3.7 3.7 0 1 0 7.5 0a3.7 3.7 0 1 0 -7.5 0M671.4 36.1a3.8 3.8 0 1 0 7.6 0a3.8 3.8 0 1 0 -7.6 0M694.1 18.5a3.9 3.9 0 1 0 7.7 0a3.9 3.9 0 1 0 -7.7 0M636.3 34.4a2.8 2.8 0 1 0 5.5 0a2.8 2.8 0 1 0 -5.5 0M727.6 33.6a2.9 2.9 0 1 0 5.8 0a2.9 2.9 0 1 0 -5.8 0M693.4 45.9a2.7 2.7 0 1 0 5.4 0a2.7 2.7 0 1 0 -5.4 0M749.0 138.7a3.1 3.1 0 1 0 6.3 0a3.1 3.1 0 1 0 -6.3 0M736.8 155.6a3.3 3.3 0 1 0 6.6 0a3.3 3.3 0 1 0 -6.6 0M657.4 81.2a2.7 2.7 0 1 0 5.4 0a2.7 2.7 0 1 0 -5.4 0M648.6 48.7a3.0 3.0 0 1 0 6.0 0a3.0 3.0 0 1 0 -6.0 0M663.0 125.3a2.8 2.8 0 1 0 5.5 0a2.8 2.8 0 1 0 -5.5 0M726.8 48.4a3.5 3.5 0 1 0 7.0 0a3.5 3.5 0 1 0 -7.0 0M684.7 49.0a3.2 3.2 0 1 0 6.4 0a3.2 3.2 0 1 0 -6.4 0M804.5 98.1a3.1 3.1 0 1 0 6.2 0a3.1 3.1 0 1 0 -6.2 0M643.8 144.5a2.7 2.7 0 1 0 5.5 0a2.7 2.7 0 1 0 -5.5 0M721.5 71.6a3.1 3.1 0 1 0 6.2 0a3.1 3.1 0 1 0 -6.2 0M752.2 56.8a3.9 3.9 0 1 0 7.8 0a3.9 3.9 0 1 0 -7.8 0M804.9 160.7a3.6 3.6 0 1 0 7.2 0a3.6 3.6 0 1 0 -7.2 0M638.6 83.9a3.4 3.4 0 1 0 6.8 0a3.4 3.4 0 1 0 -6.8 0M636.6 89.2a3.0 3.0 0 1 0 6.0 0a3.0 3.0 0 1 0 -6.0 0M795.9 124.8a3.7 3.7 0 1 0 7.4 0a3.7 3.7 0 1 0 -7.4 0M809.4 104.9a2.7 2.7 0 1 0 5.4 0a2.7 2.7 0 1 0 -5.4 0M687.7 129.0a2.9 2.9 0 1 0 5.8 0a2.9 2.9 0 1 0 -5.8 0M668.8 24.6a3.5 3.5 0 1 0 7.0 0a3.5 3.5 0 1 0 -7.0 0M754.4 41.9a2.9 2.9 0 1 0 5.7 0a2.9 2.9 0 1 0 -5.7 0M797.3 63.0a3.1 3.1 0 1 0 6.3 0a3.1 3.1 0 1 0 -6.3 0M669.7 68.6a2.8 2.8 0 1 0 5.6 0a2.8 2.8 0 1 0 -5.6 0M801.4 109.3a3.6 3.6 0 1 0 7.1 0a3.6 3.6 0 1 0 -7.1 0M749.2 42.8a2.7 2.7 0 1 0 5.4 0a2.7 2.7 0 1 0 -5.4 0M636.3 155.2a3.7 3.7 0 1 0 7.3 0a3.7 3.7 0 1 0 -7.3 0M767.4 135.6a3.9 3.9 0 1 0 7.8 0a3.9 3.9 0 1 0 -7.8 0M772.5 159.8a3.1 3.1 0 1 0 6.2 0a3.1 3.1 0 1 0 -6.2 0M737.4 42.9a3.7 3.7 0 1 0 7.3 0a3.7 3.7 0 1 0 -7.3 0M637.0 146.0a3.1 3.1 0 1 0 6.3 0a3.1 3.1 0 1 0 -6.3 0M734.0 59.5a3.9 3.9 0 1 0 7.7 0a3.9 3.9 0 1 0 -7.7 0M785.2 24.6a3.2 3.2 0 1 0 6.4 0a3.2 3.2 0 1 0 -6.4 0M704.9 137.4a3.2 3.2 0 1 0 6.4 0a3.2 3.2 0 1 0 -6.4 0M659.9 107.2a3.7 3.7 0 1 0 7.3 0a3.7 3.7 0 1 0 -7.3 0M672.4 120.2a3.0 3.0 0 1 0 6.0 0a3.0 3.0 0 1 0 -6.0 0M776.9 22.8a3.8 3.8 0 1 0 7.5 0a3.8 3.8 0 1 0 -7.5 0M690.2 155.4a3.9 3.9 0 1 0 7.8 0a3.9 3.9 0 1 0 -7.8 0M734.4 32.2a3.6 3.6 0 1 0 7.2 0a3.6 3.6 0 1 0 -7.2 0M668.3 143.9a3.0 3.0 0 1 0 5.9 0a3.0 3.0 0 1 0 -5.9 0M738.8 148.6a2.7 2.7 0 1 0 5.5 0a2.7 2.7 0 1 0 -5.5 0M740.4 71.1a3.8 3.8 0 1 0 7.7 0a3.8 3.8 0 1 0 -7.7 0" fill="none" stroke="#505050" stroke-width="0.5" stroke-linecap="round"/>
<path d="M800.3 121.2a3.9 3.9 0 1 0 7.7 0a3.9 3.9 0 1 0 -7.7 0" fill="none" stroke="#505050" stroke-width="1.0" stroke-linecap="round"/>
<path d="M775.5 115.2a3.6 3.6 0 1 0 7.2 0a3.6 3.6 0 1 0 -7.2 0" fill="none" stroke="#505050" stroke-width="1.5" stroke-linecap="round"/>
<path d="M691.8 34.3a3.3 3.3 0 1 0 6.6 0a3.3 3.3 0 1 0 -6.6 0M728.3 68.9a3.5 3.5 0 1 0 7.1 0a3.5 3.5 0 1 0 -7.1 0M666.8 103.6a3.5 3.5 0 1 0 7.1 0a3.5 3.5 0 1 0 -7.1 0M762.0 56.4a3.5 3.5 0 1 0 6.9 0a3.5 3.5 0 1 0 -6.9 0M802.0 34.3a3.0 3.0 0 1 0 6.0 0a3.0 3.0 0 1 0 -6.0 0M779.7 36.0a3.0 3.0 0 1 0 6.0 0a3.0 3.0 0 1 0 -6.0 0M732.8 132.4a3.6 3.6 0 1 0 7.2 0a3.6 3.6 0 1 0 -7.2 0M771.9 154.4a3.0 3.0 0 1 0 6.0 0a3.0 3.0 0 1 0 -6.0 0M670.0 61.3a2.9 2.9 0 1 0 5.8 0a2.9 2.9 0 1 0 -5.8 0M797.8 27.1a3.2 3.2 0 1 0 6.4 0a3.2 3.2 0 1 0 -6.4 0M659.5 94.3a3.6 3.6 0 1 0 7.3 0a3.6 3.6 0 1 0 -7.3 0M744.3 119.6a3.2 3.2 0 1 0 6.4 0a3.2 3.2 0 1 0 -6.4 0M801.2 146.6a3.1 3.1 0 1 0 6.1 0a3.1 3.1 0 1 0 -6.1 0M660.2 18.3a3.4 3.4 0 1 0 6.9 0a3.4 3.4 0 1 0 -6.9 0M791.7 152.3a3.0 3.0 0 1 0 5.9 0a3.0 3.0 0 1 0 -5.9 0M667.4 160.7a3.7 3.7 0 1 0 7.4 0a3.7 3.7 0 1 0 -7.4 0M669.6 168.1a3.0 3.0 0 1 0 6.0 0a3.0 3.0 0 1 0 -6.0 0M742.1 79.6a3.6 3.6 0 1 0 7.2 0a3.6 3.6 0 1 0 -7.2 0M732.4 52.6a2.8 2.8 0 1 0 5.6 0a2.8 2.8 0 1 0 -5.6 0M716.0 43.3a3.6 3.6 0 1 0 7.3 0a3.6 3.6 0 1 0 -7.3 0M699.8 36.3a2.8 2.8 0 1 0 5.6 0a2.8 2.8 0 1 0 -5.6 0M697.0 162.6a2.8 2.8 0 1 0 5.6 0a2.8 2.8 0 1 0 -5.6 0" fill="none" stroke="#606060" stroke-width="1.0" stroke-linecap="round"/>
<path d="M806.1 29.0a2.7 2.7 0 1 0 5.5 0a2.7 2.7 0 1 0 -5.5 0M768.5 102.3a3.0 3.0 0 1 0 5.9 0a3.0 3.0 0 1 0 -5.9 0M770.1 91.7a2.7 2.7 0 1 0 5.4 0a2.7 2.7 0 1 0 -5.4 0M679.5 36.3a3.8 3.8 0 1 0 7.6 0a3.8 3.8 0 1 0 -7.6 0M790.5 111.0a3.1 3.1 0 1 0 6.2 0a3.1 3.1 0 1 0 -6.2 0M777.5 91.9a3.6 3.6 0 1 0 7.3 0a3.6 3.6 0 1 0 -7.3 0M785.6 82.3a3.5 3.5 0 1 0 6.9 0a3.5 3.5 0 1 0 -6.9 0M747.4 81.4a3.5 3.5 0 1 0 7.0 0a3.5 3.5 0 1 0 -7.0 0M806.5 138.0a3.0 3.0 0 1 0 6.0 0a3.0 3.0 0 1 0 -6.0 0" fill="none" stroke="#606060" stroke-width="0.5" stroke-linecap="round"/>
<path d="M675.7 32.4a3.9 3.9 0 1 0 7.8 0a3.9 3.9 0 1 0 -7.8 0M788.9 94.0a3.5 3.5 0 1 0 6.9 0a3.5 3.5 0 1 0 -6.9 0" fill="none" stroke="#606060" stroke-width="1.5" stroke-linecap="round"/>
<path d="M747.9 21.7a3.9 3.9 0 1 0 7.8 0a3.9 3.9 0 1 0 -7.8 0M804.3 17.5a3.8 3.8 0 1 0 7.7 0a3.8 3.8 0 1 0 -7.7 0M784.1 56.6a3.7 3.7 0 1 0 7.3 0a3.7 3.7 0 1 0 -7.3 0M689.5 141.4a3.0 3.0 0 1 0 6.0 0a3.0 3.0 0 1 0 -6.0 0M748.2 169.9a2.9 2.9 0 1 0 5.9 0a2.9 2.9 0 1 0 -5.9 0M683.4 76.9a3.9 3.9 0 1 0 7.8 0a3.9 3.9 0 1 0 -7.8 0M699.7 101.2a3.3 3.3 0 1 0 6.6 0a3.3 3.3 0 1 0 -6.6 0M727.8 167.5a2.8 2.8 0 1 0 5.5 0a2.8 2.8 0 1 0 -5.5 0M727.8 135.4a3.5 3.5 0 1 0 7.0 0a3.5 3.5 0 1 0 -7.0 0M778.0 129.1a2.8 2.8 0 1 0 5.6 0a2.8 2.8 0 1 0 -5.6 0M673.8 46.5a3.4 3.4 0 1 0 6.7 0a3.4 3.4 0 1 0 -6.7 0M650.0 116.4a3.7 3.7 0 1 0 7.5 0a3.7 3.7 0 1 0 -7.5 0M658.9 156.5a2.9 2.9 0 1 0 5.7 0a2.9 2.9 0 1 0 -5.7 0M712.3 39.5a3.0 3.0 0 1 0 5.9 0a3.0 3.0 0 1 0 -5.9 0M713.8 95.9a3.6 3.6 0 1 0 7.2 0a3.6 3.6 0 1 0 -7.2 0M646.8 168.6a3.3 3.3 0 1 0 6.6 0a3.3 3.3 0 1 0 -6.6 0M734.7 122.8a3.1 3.1 0 1 0 6.3 0a3.1 3.1 0 1 0 -6.3 0M667.9 86.4a3.9 3.9 0 1 0 7.8 0a3.9 3.9 0 1 0 -7.8 0M695.0 144.0a3.4 3.4 0 1 0 6.8 0a3.4 3.4 0 1 0 -6.8 0M680.9 164.8a3.7 3.7 0 1 0 7.4 0a3.7 3.7 0 1 0 -7.4 0M765.5 76.5a3.4 3.4 0 1 0 6.8 0a3.4 3.4 0 1 0 -6.8 0M726.3 103.8a3.6 3.6 0 1 0 7.2 0a3.6 3.6 0 1 0 -7.2 0M692.0 167.8a3.5 3.5 0 1 0 6.9 0a3.5 3.5 0 1 0 -6.9 0M674.5 27.0a3.6 3.6 0 1 0 7.3 0a3.6 3.6 0 1 0 -7.3 0M765.6 62.6a2.7 2.7 0 1 0 5.5 0a2.7 2.7 0 1 0 -5.5 0M788.7 62.9a2.8 2.8 0 1 0 5.7 0a2.8 2.8 0 1 0 -5.7 0M794.2 162.0a3.2 3.2 0 1 0 6.5 0a3.2 3.2 0 1 0 -6.5 0M658.2 135.0a3.2 3.2 0 1 0 6.4 0a3.2 3.2 0 1 0 -6.4 0M732.4 150.2a3.2 3.2 0 1 0 6.4 0a3.2 3.2 0 1 0 -6.4 0M640.5 25.5a3.7 3.7 0 1 0 7.5 0a3.7 3.7 0 1 0 -7.5 0M770.1 64.5a3.6 3.6 0 1 0 7.1 0a3.6 3.6 0 1 0 -7.1 0M753.2 94.6a3.0 3.0 0 1 0 6.0 0a3.0 3.0 0 1 0 -6.0 0M789.5 77.8a3.4 3.4 0 1 0 6.9 0a3.4 3.4 0 1 0 -6.9 0" fill="none" stroke="#707070" stroke-width="1.0" stroke-linecap="round"/>
<path d="M703.7 150.3a3.0 3.0 0 1 0 6.1 0a3.0 3.0 0 1 0 -6.1 0M782.7 169.9a3.4 3.4 0 1 0 6.8 0a3.4 3.4 0 1 0 -6.8 0M670.1 42.9a3.0 3.0 0 1 0 6.0 0a3.0 3.0 0 1 0 -6.0 0M743.8 154.9a3.4 3.4 0 1 0 6.8 0a3.4 3.4 0 1 0 -6.8 0M724.0 121.5a3.8 3.8 0 1 0 7.5 0a3.8 3.8 0 1 0 -7.5 0M775.2 143.1a3.3 3.3 0 1 0 6.5 0a3.3 3.3 0 1 0 -6.5 0M732.4 111.1a3.3 3.3 0 1 0 6.7 0a3.3 3.3 0 1 0 -6.7 0M661.0 50.9a3.5 3.5 0 1 0 7.0 0a3.5 3.5 0 1 0 -7.0 0M696.1 123.5a3.0 3.0 0 1 0 5.9 0a3.0 3.0 0 1 0 -5.9 0M772.2 35.1a3.2 3.2 0 1 0 6.4 0a3.2 3.2 0 1 0 -6.4 0" fill="none" stroke="#707070" stroke-width="0.5" stroke-linecap="round"/>
<path d="M640.7 55.0a3.1 3.1 0 1 0 6.2 0a3.1 3.1 0 1 0 -6.2 0M760.9 13.1a3.2 3.2 0 1 0 6.5 0a3.2 3.2 0 1 0 -6.5 0M737.7 116.9a2.9 2.9 0 1 0 5.7 0a2.9 2.9 0 1 0 -5.7 0" fill="none" stroke="#707070" stroke-width="1.5" stroke-linecap="round"/>
<path d="M656.7 45.9a3.8 3.8 0 1 0 7.6 0a3.8 3.8 0 1 0 -7.6 0M661.2 29.0a2.8 2.8 0 1 0 5.7 0a2.8 2.8 0 1 0 -5.7 0M753.2 78.8a3.7 3.7 0 1 0 7.5 0a3.7 3.7 0 1 0 -7.5 0M714.7 58.3a2.8 2.8 0 1 0 5.7 0a2.8 2.8 0 1 0 -5.7 0M677.5 102.5a3.8 3.8 0 1 0 7.5 0a3.8 3.8 0 1 0 -7.5 0M650.1 82.3a2.8 2.8 0 1 0 5.7 0a2.8 2.8 0 1 0 -5.7 0M698.8 29.8a3.3 3.3 0 1 0 6.7 0a3.3 3.3 0 1 0 -6.7 0M675.4 93.3a2.9 2.9 0 1 0 5.8 0a2.9 2.9 0 1 0 -5.8 0M680.9 121.5a3.0 3.0 0 1 0 6.1 0a3.0 3.0 0 1 0 -6.1 0M766.0 87.0a3.0 3.0 0 1 0 6.0 0a3.0 3.0 0 1 0 -6.0 0M705.7 162.4a2.9 2.9 0 1 0 5.7 0a2.9 2.9 0 1 0 -5.7 0M805.0 115.8a3.9 3.9 0 1 0 7.8 0a3.9 3.9 0 1 0 -7.8 0M708.2 157.8a3.7 3.7 0 1 0 7.3 0a3.7 3.7 0 1 0 -7.3 0M722.8 95.6a3.2 3.2 0 1 0 6.4 0a3.2 3.2 0 1 0 -6.4 0M793.4 81.4a3.8 3.8 0 1 0 7.5 0a3.8 3.8 0 1 0 -7.5 0M742.4 91.4a2.7 2.7 0 1 0 5.5 0a2.7 2.7 0 1 0 -5.5 0M704.6 88.4a3.5 3.5 0 1 0 6.9 0a3.5 3.5 0 1 0 -6.9 0M713.9 64.6a3.7 3.7 0 1 0 7.4 0a3.7 3.7 0 1 0 -7.4 0M721.4 144.4a3.3 3.3 0 1 0 6.7 0a3.3 3.3 0 1 0 -6.7 0M763.4 140.8a2.8 2.8 0 1 0 5.5 0a2.8 2.8 0 1 0 -5.5 0M754.0 121.6a3.4 3.4 0 1 0 6.8 0a3.4 3.4 0 1 0 -6.8 0M762.3 43.0a3.1 3.1 0 1 0 6.1 0a3.1 3.1 0 1 0 -6.1 0M636.4 130.9a2.9 2.9 0 1 0 5.9 0a2.9 2.9 0 1 0 -5.9 0M707.1 94.4a3.6 3.6 0 1 0 7.2 0a3.6 3.6 0 1 0 -7.2 0M785.5 44.8a3.0 3.0 0 1 0 6.1 0a3.0 3.0 0 1 0 -6.1 0M737.9 10.0a2.8 2.8 0 1 0 5.7 0a2.8 2.8 0 1 0 -5.7 0M700.4 63.4a3.4 3.4 0 1 0 6.7 0a3.4 3.4 0 1 0 -6.7 0M665.2 10.5a3.1 3.1 0 1 0 6.2 0a3.1 3.1 0 1 0 -6.2 0M803.4 43.4a2.7 2.7 0 1 0 5.5 0a2.7 2.7 0 1 0 -5.5 0M679.1 20.4a2.7 2.7 0 1 0 5.4 0a2.7 2.7 0 1 0 -5.4 0M765.8 146.4a2.8 2.8 0 1 0 5.6 0a2.8 2.8 0 1 0 -5.6 0M739.4 109.8a2.9 2.9 0 1 0 5.8 0a2.9 2.9 0 1 0 -5.8 0M699.3 41.7a2.8 2.8 0 1 0 5.5 0a2.8 2.8 0 1 0 -5.5 0M670.1 30.4a3.1 3.1 0 1 0 6.2 0a3.1 3.1 0 1 0 -6.2 0M681.7 113.4a3.3 3.3 0 1 0 6.5 0a3.3 3.3 0 1 0 -6.5 0M653.4 25.8a2.9 2.9 0 1 0 5.8 0a2.9 2.9 0 1 0 -5.8 0M635.4 42.5a3.8 3.8 0 1 0 7.7 0a3.8 3.8 0 1 0 -7.7 0M720.3 138.3a3.9 3.9 0 1 0 7.8 0a3.9 3.9 0 1 0 -7.8 0M756.4 90.2a3.9 3.9 0 1 0 7.7 0a3.9 3.9 0 1 0 -7.7 0M666.9 115.4a3.8 3.8 0 1 0 7.6 0a3.8 3.8 0 1 0 -7.6 0M770.3 72.6a3.5 3.5 0 1 0 7.0 0a3.5 3.5 0 1 0 -7.0 0M673.4 139.0a3.5 3.5 0 1 0 7.0 0a3.5 3.5 0 1 0 -7.0 0M751.2 145.3a3.1 3.1 0 1 0 6.2 0a3.1 3.1 0 1 0 -6.2 0M802.6 22.1a2.9 2.9 0 1 0 5.8 0a2.9 2.9 0 1 0 -5.8 0M654.1 62.2a3.1 3.1 0 1 0 6.3 0a3.1 3.1 0 1 0 -6.3 0M657.0 125.0a2.9 2.9 0 1 0 5.9 0a2.9 2.9 0 1 0 -5.9 0M686.6 134.3a3.6 3.6 0 1 0 7.2 0a3.6 3.6 0 1 0 -7.2 0" fill="none" stroke="#808080" stroke-width="1.0" stroke-linecap="round"/>
<path d="M690.1 104.3a3.4 3.4 0 1 0 6.8 0a3.4 3.4 0 1 0 -6.8 0M653.7 112.1a3.2 3.2 0 1 0 6.5 0a3.2 3.2 0 1 0 -6.5 0M640.3 150.8a3.1 3.1 0 1 0 6.2 0a3.1 3.1 0 1 0 -6.2 0M784.8 122.1a3.8 3.8 0 1 0 7.6 0a3.8 3.8 0 1 0 -7.6 0M807.2 144.0a3.3 3.3 0 1 0 6.7 0a3.3 3.3 0 1 0 -6.7 0M705.4 66.0a3.7 3.7 0 1 0 7.5 0a3.7 3.7 0 1 0 -7.5 0M686.0 84.0a3.8 3.8 0 1 0 7.6 0a3.8 3.8 0 1 0 -7.6 0M684.8 160.6a3.7 3.7 0 1 0 7.4 0a3.7 3.7 0 1 0 -7.4 0M788.6 140.7a3.7 3.7 0 1 0 7.3 0a3.7 3.7 0 1 0 -7.3 0M681.2 135.2a2.9 2.9 0 1 0 5.8 0a2.9 2.9 0 1 0 -5.8 0M699.8 91.2a3.5 3.5 0 1 0 7.0 0a3.5 3.5 0 1 0 -7.0 0M654.1 169.9a3.0 3.0 0 1 0 6.0 0a3.0 3.0 0 1 0 -6.0 0M670.1 107.9a3.5 3.5 0 1 0 7.0 0a3.5 3.5 0 1 0 -7.0 0M756.0 128.6a3.8 3.8 0 1 0 7.7 0a3.8 3.8 0 1 0 -7.7 0M667.6 16.0a2.9 2.9 0 1 0 5.7 0a2.9 2.9 0 1 0 -5.7 0M761.9 23.6a3.6 3.6 0 1 0 7.1 0a3.6 3.6 0 1 0 -7.1 0M808.5 70.2a3.3 3.3 0 1 0 6.5 0a3.3 3.3 0 1 0 -6.5 0M641.8 169.5a3.0 3.0 0 1 0 6.1 0a3.0 3.0 0 1 0 -6.1 0" fill="none" stroke="#808080" stroke-width="0.5" stroke-linecap="round"/>
<path d="M749.9 33.0a3.5 3.5 0 1 0 7.0 0a3.5 3.5 0 1 0 -7.0 0M764.4 167.1a2.8 2.8 0 1 0 5.5 0a2.8 2.8 0 1 0 -5.5 0M762.1 82.6a3.8 3.8 0 1 0 7.5 0a3.8 3.8 0 1 0 -7.5 0M664.3 36.0a3.7 3.7 0 1 0 7.5 0a3.7 3.7 0 1 0 -7.5 0M710.4 89.4a3.1 3.1 0 1 0 6.3 0a3.1 3.1 0 1 0 -6.3 0M727.2 141.4a3.7 3.7 0 1 0 7.4 0a3.7 3.7 0 1 0 -7.4 0" fill="none" stroke="#808080" stroke-width="1.5" stroke-linecap="round"/>
<path d="M646.1 91.7a2.9 2.9 0 1 0 5.9 0a2.9 2.9 0 1 0 -5.9 0M709.9 143.1a2.7 2.7 0 1 0 5.4 0a2.7 2.7 0 1 0 -5.4 0M743.9 162.6a3.9 3.9 0 1 0 7.7 0a3.9 3.9 0 1 0 -7.7 0M735.2 73.9a3.8 3.8 0 1 0 7.6 0a3.8 3.8 0 1 0 -7.6 0M773.8 122.5a2.9 2.9 0 1 0 5.7 0a2.9 2.9 0 1 0 -5.7 0M708.0 131.9a3.5 3.5 0 1 0 6.9 0a3.5 3.5 0 1 0 -6.9 0M642.8 117.6a3.0 3.0 0 1 0 6.1 0a3.0 3.0 0 1 0 -6.1 0M756.7 105.7a2.8 2.8 0 1 0 5.6 0a2.8 2.8 0 1 0 -5.6 0M717.8 116.9a3.3 3.3 0 1 0 6.6 0a3.3 3.3 0 1 0 -6.6 0M645.7 133.7a3.5 3.5 0 1 0 7.0 0a3.5 3.5 0 1 0 -7.0 0M676.3 88.1a3.1 3.1 0 1 0 6.2 0a3.1 3.1 0 1 0 -6.2 0M791.8 135.6a3.0 3.0 0 1 0 6.1 0a3.0 3.0 0 1 0 -6.1 0M742.6 33.9a2.8 2.8 0 1 0 5.6 0a2.8 2.8 0 1 0 -5.6 0M679.9 65.9a2.8 2.8 0 1 0 5.7 0a2.8 2.8 0 1 0 -5.7 0M783.5 139.8a3.3 3.3 0 1 0 6.5 0a3.3 3.3 0 1 0 -6.5 0M798.3 169.1a3.1 3.1 0 1 0 6.3 0a3.1 3.1 0 1 0 -6.3 0M657.5 34.3a3.5 3.5 0 1 0 7.0 0a3.5 3.5 0 1 0 -7.0 0M661.2 143.1a3.1 3.1 0 1 0 6.2 0a3.1 3.1 0 1 0 -6.2 0M658.1 12.3a3.6 3.6 0 1 0 7.2 0a3.6 3.6 0 1 0 -7.2 0M726.8 160.3a3.4 3.4 0 1 0 6.8 0a3.4 3.4 0 1 0 -6.8 0M636.6 138.7a3.1 3.1 0 1 0 6.1 0a3.1 3.1 0 1 0 -6.1 0M761.1 99.6a3.6 3.6 0 1 0 7.2 0a3.6 3.6 0 1 0 -7.2 0M692.1 93.5a3.4 3.4 0 1 0 6.8 0a3.4 3.4 0 1 0 -6.8 0M756.9 151.1a3.3 3.3 0 1 0 6.6 0a3.3 3.3 0 1 0 -6.6 0M788.6 165.8a3.4 3.4 0 1 0 6.8 0a3.4 3.4 0 1 0 -6.8 0M673.5 163.4a3.6 3.6 0 1 0 7.1 0a3.6 3.6 0 1 0 -7.1 0M654.4 52.8a2.8 2.8 0 1 0 5.5 0a2.8 2.8 0 1 0 -5.5 0M682.4 30.9a3.5 3.5 0 1 0 6.9 0a3.5 3.5 0 1 0 -6.9 0M647.7 161.1a3.9 3.9 0 1 0 7.7 0a3.9 3.9 0 1 0 -7.7 0M643.2 13.6a3.0 3.0 0 1 0 6.1 0a3.0 3.0 0 1 0 -6.1 0M720.0 10.5a3.8 3.8 0 1 0 7.5 0a3.8 3.8 0 1 0 -7.5 0M768.1 109.3a3.8 3.8 0 1 0 7.6 0a3.8 3.8 0 1 0 -7.6 0M791.8 56.7a3.5 3.5 0 1 0 7.0 0a3.5 3.5 0 1 0 -7.0 0M747.8 58.9a3.1 3.1 0 1 0 6.2 0a3.1 3.1 0 1 0 -6.2 0M702.6 46.0a3.6 3.6 0 1 0 7.3 0a3.6 3.6 0 1 0 -7.3 0M750.8 159.0a3.8 3.8 0 1 0 7.7 0a3.8 3.8 0 1 0 -7.7 0M644.1 86.2a3.4 3.4 0 1 0 6.8 0a3.4 3.4 0 1 0 -6.8 0M799.5 13.9a2.9 2.9 0 1 0 5.9 0a2.9 2.9 0 1 0 -5.9 0M652.8 90.3a2.9 2.9 0 1 0 5.9 0a2.9 2.9 0 1 0 -5.9 0M773.1 98.2a3.7 3.7 0 1 0 7.4 0a3.7 3.7 0 1 0 -7.4 0M803.1 91.1a3.0 3.0 0 1 0 6.0 0a3.0 3.0 0 1 0 -6.0 0M693.0 40.5a2.9 2.9 0 1 0 5.7 0a2.9 2.9 0 1 0 -5.7 0M690.4 111.2a2.8 2.8 0 1 0 5.7 0a2.8 2.8 0 1 0 -5.7 0M729.5 125.5a3.2 3.2 0 1 0 6.4 0a3.2 3.2 0 1 0 -6.4 0M779.9 67.1a3.5 3.5 0 1 0 7.1 0a3.5 3.5 0 1 0 -7.1 0M722.7 53.7a3.6 3.6 0 1 0 7.1 0a3.6 3.6 0 1 0 -7.1 0M738.6 161.0a3.0 3.0 0 1 0 6.0 0a3.0 3.0 0 1 0 -6.0 0M707.6 26.4a2.9 2.9 0 1 0 5.8 0a2.9 2.9 0 1 0 -5.8 0M799.9 136.3a2.8 2.8 0 1 0 5.7 0a2.8 2.8 0 1 0 -5.7 0M674.2 16.2a3.3 3.3 0 1 0 6.5 0a3.3 3.3 0 1 0 -6.5 0M645.2 154.1a3.7 3.7 0 1 0 7.4 0a3.7 3.7 0 1 0 -7.4 0M781.5 144.9a3.7 3.7 0 1 0 7.3 0a3.7 3.7 0 1 0 -7.3 0" fill="none" stroke="#909090" stroke-width="1.0" stroke-linecap="round"/>
<path d="M641.6 79.8a3.9 3.9 0 1 0 7.8 0a3.9 3.9 0 1 0 -7.8 0M662.1 88.7a3.2 3.2 0 1 0 6.4 0a3.2 3.2 0 1 0 -6.4 0M780.9 162.1a3.7 3.7 0 1 0 7.4 0a3.7 3.7 0 1 0 -7.4 0M665.2 134.3a2.7 2.7 0 1 0 5.5 0a2.7 2.7 0 1 0 -5.5 0M722.7 38.6a3.0 3.0 0 1 0 5.9 0a3.0 3.0 0 1 0 -5.9 0M695.6 12.9a3.5 3.5 0 1 0 7.0 0a3.5 3.5 0 1 0 -7.0 0M763.2 50.6a3.5 3.5 0 1 0 7.1 0a3.5 3.5 0 1 0 -7.1 0M741.4 62.8a2.8 2.8 0 1 0 5.7 0a2.8 2.8 0 1 0 -5.7 0M662.1 152.4a3.5 3.5 0 1 0 7.0 0a3.5 3.5 0 1 0 -7.0 0M719.5 18.6a3.1 3.1 0 1 0 6.3 0a3.1 3.1 0 1 0 -6.3 0M731.8 80.2a3.2 3.2 0 1 0 6.3 0a3.2 3.2 0 1 0 -6.3 0M756.7 136.7a3.1 3.1 0 1 0 6.3 0a3.1 3.1 0 1 0 -6.3 0M703.5 15.5a2.8 2.8 0 1 0 5.5 0a2.8 2.8 0 1 0 -5.5 0M717.2 100.5a3.1 3.1 0 1 0 6.3 0a3.1 3.1 0 1 0 -6.3 0M795.0 108.0a3.7 3.7 0 1 0 7.3 0a3.7 3.7 0 1 0 -7.3 0" fill="none" stroke="#909090" stroke-width="0.5" stroke-linecap="round"/>
<path d="M730.8 20.1a3.2 3.2 0 1 0 6.3 0a3.2 3.2 0 1 0 -6.3 0M778.4 55.8a3.0 3.0 0 1 0 6.0 0a3.0 3.0 0 1 0 -6.0 0M710.5 150.4a3.6 3.6 0 1 0 7.3 0a3.6 3.6 0 1 0 -7.3 0M679.2 57.2a3.5 3.5 0 1 0 7.0 0a3.5 3.5 0 1 0 -7.0 0M653.7 100.2a3.7 3.7 0 1 0 7.5 0a3.7 3.7 0 1 0 -7.5 0M650.9 74.3a3.7 3.7 0 1 0 7.4 0a3.7 3.7 0 1 0 -7.4 0M722.4 45.4a2.8 2.8 0 1 0 5.6 0a2.8 2.8 0 1 0 -5.6 0M646.1 54.7a3.7 3.7 0 1 0 7.3 0a3.7 3.7 0 1 0 -7.3 0M766.6 35.6a3.5 3.5 0 1 0 6.9 0a3.5 3.5 0 1 0 -6.9 0M663.2 56.7a2.9 2.9 0 1 0 5.8 0a2.9 2.9 0 1 0 -5.8 0" fill="none" stroke="#909090" stroke-width="1.5" stroke-linecap="round"/>
<path d="M648.2 24.6a2.9 2.9 0 1 0 5.8 0a2.9 2.9 0 1 0 -5.8 0M645.8 43.2a3.5 3.5 0 1 0 7.1 0a3.5 3.5 0 1 0 -7.1 0M726.8 150.9a3.2 3.2 0 1 0 6.4 0a3.2 3.2 0 1 0 -6.4 0M702.5 117.7a3.4 3.4 0 1 0 6.8 0a3.4 3.4 0 1 0 -6.8 0M716.1 87.9a3.6 3.6 0 1 0 7.2 0a3.6 3.6 0 1 0 -7.2 0M780.8 87.2a3.8 3.8 0 1 0 7.6 0a3.8 3.8 0 1 0 -7.6 0M663.7 79.5a3.3 3.3 0 1 0 6.7 0a3.3 3.3 0 1 0 -6.7 0M690.3 59.1a2.7 2.7 0 1 0 5.5 0a2.7 2.7 0 1 0 -5.5 0M754.5 168.2a3.7 3.7 0 1 0 7.3 0a3.7 3.7 0 1 0 -7.3 0M758.2 112.4a3.2 3.2 0 1 0 6.5 0a3.2 3.2 0 1 0 -6.5 0M644.8 30.9a3.7 3.7 0 1 0 7.3 0a3.7 3.7 0 1 0 -7.3 0M636.4 71.4a2.8 2.8 0 1 0 5.6 0a2.8 2.8 0 1 0 -5.6 0M780.9 29.3a3.6 3.6 0 1 0 7.1 0a3.6 3.6 0 1 0 -7.1 0M683.9 17.8a2.8 2.8 0 1 0 5.7 0a2.8 2.8 0 1 0 -5.7 0M799.0 98.4a3.0 3.0 0 1 0 6.1 0a3.0 3.0 0 1 0 -6.1 0M805.3 51.9a2.9 2.9 0 1 0 5.8 0a2.9 2.9 0 1 0 -5.8 0M748.2 133.1a2.9 2.9 0 1 0 5.9 0a2.9 2.9 0 1 0 -5.9 0M689.5 13.5a2.8 2.8 0 1 0 5.6 0a2.8 2.8 0 1 0 -5.6 0M694.7 77.7a2.9 2.9 0 1 0 5.8 0a2.9 2.9 0 1 0 -5.8 0M803.9 60.2a3.2 3.2 0 1 0 6.4 0a3.2 3.2 0 1 0 -6.4 0M674.0 132.4a3.4 3.4 0 1 0 6.8 0a3.4 3.4 0 1 0 -6.8 0M674.2 77.1a3.5 3.5 0 1 0 7.0 0a3.5 3.5 0 1 0 -7.0 0M768.6 16.5a3.2 3.2 0 1 0 6.5 0a3.2 3.2 0 1 0 -6.5 0M642.1 20.1a2.9 2.9 0 1 0 5.9 0a2.9 2.9 0 1 0 -5.9 0M770.7 22.7a3.8 3.8 0 1 0 7.7 0a3.8 3.8 0 1 0 -7.7 0M704.9 169.8a2.8 2.8 0 1 0 5.6 0a2.8 2.8 0 1 0 -5.6 0M656.9 40.5a2.8 2.8 0 1 0 5.5 0a2.8 2.8 0 1 0 -5.5 0M772.3 45.8a2.8 2.8 0 1 0 5.7 0a2.8 2.8 0 1 0 -5.7 0M712.6 80.6a3.8 3.8 0 1 0 7.7 0a3.8 3.8 0 1 0 -7.7 0M671.3 52.3a3.8 3.8 0 1 0 7.7 0a3.8 3.8 0 1 0 -7.7 0M787.1 99.4a3.2 3.2 0 1 0 6.5 0a3.2 3.2 0 1 0 -6.5 0M697.9 133.1a3.5 3.5 0 1 0 7.0 0a3.5 3.5 0 1 0 -7.0 0M749.4 13.6a2.8 2.8 0 1 0 5.6 0a2.8 2.8 0 1 0 -5.6 0M647.6 105.1a2.8 2.8 0 1 0 5.6 0a2.8 2.8 0 1 0 -5.6 0M804.8 127.3a3.2 3.2 0 1 0 6.5 0a3.2 3.2 0 1 0 -6.5 0M720.6 166.9a3.3 3.3 0 1 0 6.5 0a3.3 3.3 0 1 0 -6.5 0M746.1 112.4a3.3 3.3 0 1 0 6.6 0a3.3 3.3 0 1 0 -6.6 0M805.5 86.5a3.5 3.5 0 1 0 6.9 0a3.5 3.5 0 1 0 -6.9 0M773.1 84.0a3.1 3.1 0 1 0 6.2 0a3.1 3.1 0 1 0 -6.2 0M781.2 17.6a2.9 2.9 0 1 0 5.9 0a2.9 2.9 0 1 0 -5.9 0M680.3 42.5a3.3 3.3 0 1 0 6.7 0a3.3 3.3 0 1 0 -6.7 0M776.9 103.9a2.8 2.8 0 1 0 5.5 0a2.8 2.8 0 1 0 -5.5 0M678.9 141.6a3.5 3.5 0 1 0 6.9 0a3.5 3.5 0 1 0 -6.9 0M757.5 26.6a3.3 3.3 0 1 0 6.6 0a3.3 3.3 0 1 0 -6.6 0M790.6 121.1a3.5 3.5 0 1 0 6.9 0a3.5 3.5 0 1 0 -6.9 0" fill="none" stroke="#a0a0a0" stroke-width="1.0" stroke-linecap="round"/>
<path d="M736.7 83.4a2.8 2.8 0 1 0 5.6 0a2.8 2.8 0 1 0 -5.6 0M697.4 152.4a3.8 3.8 0 1 0 7.6 0a3.8 3.8 0 1 0 -7.6 0M731.8 89.1a3.7 3.7 0 1 0 7.3 0a3.7 3.7 0 1 0 -7.3 0" fill="none" stroke="#a0a0a0" stroke-width="1.5" stroke-linecap="round"/>
<path d="M694.5 52.6a3.9 3.9 0 1 0 7.7 0a3.9 3.9 0 1 0 -7.7 0M689.0 67.4a3.7 3.7 0 1 0 7.3 0a3.7 3.7 0 1 0 -7.3 0M658.4 68.1a3.7 3.7 0 1 0 7.4 0a3.7 3.7 0 1 0 -7.4 0M796.1 39.5a3.8 3.8 0 1 0 7.6 0a3.8 3.8 0 1 0 -7.6 0M642.1 99.0a2.8 2.8 0 1 0 5.5 0a2.8 2.8 0 1 0 -5.5 0M646.6 66.5a3.8 3.8 0 1 0 7.5 0a3.8 3.8 0 1 0 -7.5 0M642.4 39.3a3.0 3.0 0 1 0 5.9 0a3.0 3.0 0 1 0 -5.9 0M744.4 86.5a2.7 2.7 0 1 0 5.4 0a2.7 2.7 0 1 0 -5.4 0M782.8 109.5a3.7 3.7 0 1 0 7.5 0a3.7 3.7 0 1 0 -7.5 0M757.6 145.8a3.2 3.2 0 1 0 6.5 0a3.2 3.2 0 1 0 -6.5 0M763.3 129.7a3.7 3.7 0 1 0 7.5 0a3.7 3.7 0 1 0 -7.5 0" fill="none" stroke="#a0a0a0" stroke-width="0.5" stroke-linecap="round"/>
<path d="M646.2 122.9a3.4 3.4 0 1 0 6.7 0a3.4 3.4 0 1 0 -6.7 0M666.6 47.3a2.9 2.9 0 1 0 5.8 0a2.9 2.9 0 1 0 -5.8 0M636.3 77.5a3.5 3.5 0 1 0 6.9 0a3.5 3.5 0 1 0 -6.9 0M653.5 68.5a3.1 3.1 0 1 0 6.1 0a3.1 3.1 0 1 0 -6.1 0M639.2 163.1a3.8 3.8 0 1 0 7.5 0a3.8 3.8 0 1 0 -7.5 0M801.4 82.0a3.4 3.4 0 1 0 6.7 0a3.4 3.4 0 1 0 -6.7 0M801.4 68.7a3.1 3.1 0 1 0 6.1 0a3.1 3.1 0 1 0 -6.1 0M718.0 161.6a3.9 3.9 0 1 0 7.7 0a3.9 3.9 0 1 0 -7.7 0M732.9 161.9a3.1 3.1 0 1 0 6.2 0a3.1 3.1 0 1 0 -6.2 0M651.3 19.3a3.2 3.2 0 1 0 6.4 0a3.2 3.2 0 1 0 -6.4 0M650.2 147.9a3.3 3.3 0 1 0 6.7 0a3.3 3.3 0 1 0 -6.7 0M737.2 95.2a3.3 3.3 0 1 0 6.6 0a3.3 3.3 0 1 0 -6.6 0M791.0 42.1a2.9 2.9 0 1 0 5.8 0a2.9 2.9 0 1 0 -5.8 0M792.7 170.4a3.3 3.3 0 1 0 6.7 0a3.3 3.3 0 1 0 -6.7 0M694.7 24.7a3.6 3.6 0 1 0 7.2 0a3.6 3.6 0 1 0 -7.2 0M708.3 51.4a3.5 3.5 0 1 0 6.9 0a3.5 3.5 0 1 0 -6.9 0M708.0 103.8a3.8 3.8 0 1 0 7.6 0a3.8 3.8 0 1 0 -7.6 0M710.0 116.1a2.7 2.7 0 1 0 5.5 0a2.7 2.7 0 1 0 -5.5 0M793.7 20.3a3.0 3.0 0 1 0 6.0 0a3.0 3.0 0 1 0 -6.0 0M785.7 153.1a3.5 3.5 0 1 0 6.9 0a3.5 3.5 0 1 0 -6.9 0M661.9 64.3a3.8 3.8 0 1 0 7.7 0a3.8 3.8 0 1 0 -7.7 0M711.9 110.6a3.4 3.4 0 1 0 6.8 0a3.4 3.4 0 1 0 -6.8 0" fill="none" stroke="#b0b0b0" stroke-width="1.0" stroke-linecap="round"/>
<path d="M729.5 14.4a3.6 3.6 0 1 0 7.2 0a3.6 3.6 0 1 0 -7.2 0M776.3 168.6a3.3 3.3 0 1 0 6.6 0a3.3 3.3 0 1 0 -6.6 0M638.9 63.4a3.3 3.3 0 1 0 6.5 0a3.3 3.3 0 1 0 -6.5 0M716.4 29.1a3.5 3.5 0 1 0 6.9 0a3.5 3.5 0 1 0 -6.9 0M675.2 154.5a3.9 3.9 0 1 0 7.7 0a3.9 3.9 0 1 0 -7.7 0M705.4 81.8a2.9 2.9 0 1 0 5.7 0a2.9 2.9 0 1 0 -5.7 0M660.7 73.3a3.7 3.7 0 1 0 7.4 0a3.7 3.7 0 1 0 -7.4 0M711.5 126.7a3.3 3.3 0 1 0 6.5 0a3.3 3.3 0 1 0 -6.5 0M740.7 135.8a3.7 3.7 0 1 0 7.4 0a3.7 3.7 0 1 0 -7.4 0M656.5 164.4a3.3 3.3 0 1 0 6.5 0a3.3 3.3 0 1 0 -6.5 0" fill="none" stroke="#b0b0b0" stroke-width="0.5" stroke-linecap="round"/>
<path d="M639.8 109.6a3.2 3.2 0 1 0 6.5 0a3.2 3.2 0 1 0 -6.5 0M766.2 161.2a3.6 3.6 0 1 0 7.2 0a3.6 3.6 0 1 0 -7.2 0" fill="none" stroke="#b0b0b0" stroke-width="1.5" stroke-linecap="round"/>
<path d="M804.5 73.7a2.9 2.9 0 1 0 5.9 0a2.9 2.9 0 1 0 -5.9 0M798.9 51.8a3.4 3.4 0 1 0 6.7 0a3.4 3.4 0 1 0 -6.7 0M679.0 12.5a3.4 3.4 0 1 0 6.8 0a3.4 3.4 0 1 0 -6.8 0M725.2 84.8a3.3 3.3 0 1 0 6.6 0a3.3 3.3 0 1 0 -6.6 0M765.1 154.7a3.4 3.4 0 1 0 6.7 0a3.4 3.4 0 1 0 -6.7 0M777.7 134.4a3.9 3.9 0 1 0 7.8 0a3.9 3.9 0 1 0 -7.8 0M697.1 112.8a3.1 3.1 0 1 0 6.3 0a3.1 3.1 0 1 0 -6.3 0" fill="none" stroke="#c0c0c0" stroke-width="1.0" stroke-linecap="round"/>
<path d="M697.4 83.8a2.9 2.9 0 1 0 5.8 0a2.9 2.9 0 1 0 -5.8 0M724.7 64.6a3.7 3.7 0 1 0 7.4 0a3.7 3.7 0 1 0 -7.4 0" fill="none" stroke="#c0c0c0" stroke-width="0.5" stroke-linecap="round"/>
</g>
<rect x="639" y="10" width="173.3" height="161" fill="#fff" filter="url(#n1p)"/>
</g>
<rect x="639" y="10" width="35.4" height="21" fill="#b9b9b9" fill-opacity=".84"/><text x="656.5" y="27.6" text-anchor="middle" class="tw" font-size="20.5">I</text>
<rect x="733" y="10" width="79.3" height="21" fill="#b9b9b9" fill-opacity=".84"/><text x="772.8" y="27.6" text-anchor="middle" class="tw" font-size="20.5">DB-Cyc</text>
<rect x="777.1" y="151.6" width="18" height="3.4" fill="#fff"/>
<g clip-path="url(#c2)"><rect x="819.8" y="10" width="172" height="161" fill="#3e3e3e"/>
<rect x="819.8" y="10" width="172" height="161" fill="#fff" filter="url(#n2a)"/>
<path d="M800 92C850 86 880 103 905 121C925 137 950 149 1010 149V190H800Z" fill="#161616" opacity=".95" filter="url(#fb7)"/>
<path d="M800 92C850 86 880 103 905 121C925 137 950 149 1010 149V190H800Z" fill="#fff" filter="url(#n2b)"/>
<g filter="url(#fcl2)" fill="#fff">
<ellipse cx="899.4" cy="64" rx="19" ry="15.6"/><ellipse cx="928.2" cy="104" rx="17" ry="27"/><ellipse cx="926" cy="124" rx="20" ry="14"/><ellipse cx="971.4" cy="65.2" rx="10.5" ry="21"/><ellipse cx="969" cy="118" rx="14.5" ry="17"/><ellipse cx="859.8" cy="86.8" rx="12" ry="14"/><ellipse cx="947.4" cy="49.6" rx="9.6" ry="8"/><ellipse cx="988" cy="41" rx="5" ry="6"/><ellipse cx="891" cy="32.8" rx="5" ry="4.5"/><ellipse cx="903" cy="33" rx="4" ry="3.5"/><ellipse cx="829.8" cy="151.5" rx="8" ry="8"/><ellipse cx="845.4" cy="103.6" rx="6" ry="6"/><ellipse cx="883.8" cy="82" rx="6" ry="5"/><ellipse cx="885" cy="97.6" rx="5" ry="5"/><ellipse cx="919.8" cy="158.8" rx="6" ry="6"/><ellipse cx="939" cy="160" rx="5" ry="5"/><ellipse cx="949.8" cy="137" rx="6" ry="6"/><ellipse cx="868" cy="128" rx="7" ry="6"/><ellipse cx="850" cy="135" rx="6" ry="7"/><ellipse cx="986" cy="100" rx="4" ry="8"/><ellipse cx="978" cy="150" rx="6" ry="6"/>
</g>
<path d="M899 10l2.500 6 4 2-3 3-4.500-4z" fill="#fff"/>
</g>
<rect x="819.8" y="10" width="35.2" height="21" fill="#b9b9b9" fill-opacity=".84"/><text x="837.4" y="27.6" text-anchor="middle" class="tw" font-size="20.5">II</text>
<rect x="948.3" y="10" width="43.5" height="21" fill="#b9b9b9" fill-opacity=".84"/><text x="970" y="27.6" text-anchor="middle" class="tw" font-size="20.5">Clot</text>
<rect x="959.2" y="152" width="8.6" height="3.3" fill="#fff"/>
<rect x="950" y="149" width="5" height="9" rx="2" fill="#fff" transform="rotate(-12 952 153)"/>
<g clip-path="url(#c3)"><rect x="639.3" y="178.4" width="173" height="161" fill="#2b2b2b"/>
<path d="M757.3 181.9a1.4 1.4 0 1 0 2.8 0a1.4 1.4 0 1 0 -2.8 0M797.5 192.8a1.3 1.3 0 1 0 2.6 0a1.3 1.3 0 1 0 -2.6 0M646.7 337.5a1.9 1.9 0 1 0 3.8 0a1.9 1.9 0 1 0 -3.8 0M673.2 260.1a1.7 1.7 0 1 0 3.3 0a1.7 1.7 0 1 0 -3.3 0M794.0 273.3a1.5 1.5 0 1 0 2.9 0a1.5 1.5 0 1 0 -2.9 0M749.9 246.6a1.7 1.7 0 1 0 3.3 0a1.7 1.7 0 1 0 -3.3 0M724.6 257.0a1.6 1.6 0 1 0 3.2 0a1.6 1.6 0 1 0 -3.2 0" fill="none" stroke="#303030" stroke-width="0.5" stroke-linecap="round"/>
<path d="M672.0 273.7a1.5 1.5 0 1 0 3.0 0a1.5 1.5 0 1 0 -3.0 0M804.7 243.3a1.9 1.9 0 1 0 3.8 0a1.9 1.9 0 1 0 -3.8 0M699.0 246.9a1.6 1.6 0 1 0 3.2 0a1.6 1.6 0 1 0 -3.2 0M698.8 289.6a1.4 1.4 0 1 0 2.9 0a1.4 1.4 0 1 0 -2.9 0M787.5 270.6a1.3 1.3 0 1 0 2.7 0a1.3 1.3 0 1 0 -2.7 0M746.4 326.6a1.9 1.9 0 1 0 3.7 0a1.9 1.9 0 1 0 -3.7 0M707.6 248.0a1.2 1.2 0 1 0 2.3 0a1.2 1.2 0 1 0 -2.3 0M701.2 315.5a1.4 1.4 0 1 0 2.7 0a1.4 1.4 0 1 0 -2.7 0M801.3 266.9a1.5 1.5 0 1 0 3.0 0a1.5 1.5 0 1 0 -3.0 0M723.5 236.9a1.6 1.6 0 1 0 3.1 0a1.6 1.6 0 1 0 -3.1 0M792.0 234.7a2.2 2.2 0 1 0 4.3 0a2.2 2.2 0 1 0 -4.3 0M730.1 328.0a1.3 1.3 0 1 0 2.5 0a1.3 1.3 0 1 0 -2.5 0M704.9 236.8a1.5 1.5 0 1 0 3.0 0a1.5 1.5 0 1 0 -3.0 0M671.2 188.0a1.5 1.5 0 1 0 3.1 0a1.5 1.5 0 1 0 -3.1 0M677.6 187.7a1.1 1.1 0 1 0 2.2 0a1.1 1.1 0 1 0 -2.2 0M683.0 296.5a1.9 1.9 0 1 0 3.9 0a1.9 1.9 0 1 0 -3.9 0M671.3 298.8a1.4 1.4 0 1 0 2.8 0a1.4 1.4 0 1 0 -2.8 0M806.6 184.5a1.7 1.7 0 1 0 3.5 0a1.7 1.7 0 1 0 -3.5 0M647.8 198.4a1.1 1.1 0 1 0 2.3 0a1.1 1.1 0 1 0 -2.3 0M746.6 196.5a1.7 1.7 0 1 0 3.3 0a1.7 1.7 0 1 0 -3.3 0M743.4 286.7a1.3 1.3 0 1 0 2.7 0a1.3 1.3 0 1 0 -2.7 0M805.5 236.5a1.6 1.6 0 1 0 3.1 0a1.6 1.6 0 1 0 -3.1 0M704.8 219.2a2.1 2.1 0 1 0 4.2 0a2.1 2.1 0 1 0 -4.2 0M677.4 335.3a2.2 2.2 0 1 0 4.4 0a2.2 2.2 0 1 0 -4.4 0M809.4 292.0a2.0 2.0 0 1 0 4.1 0a2.0 2.0 0 1 0 -4.1 0M663.9 234.9a1.7 1.7 0 1 0 3.5 0a1.7 1.7 0 1 0 -3.5 0M729.0 288.0a2.0 2.0 0 1 0 4.0 0a2.0 2.0 0 1 0 -4.0 0M715.2 320.3a2.2 2.2 0 1 0 4.4 0a2.2 2.2 0 1 0 -4.4 0M741.8 232.7a1.5 1.5 0 1 0 3.0 0a1.5 1.5 0 1 0 -3.0 0M668.4 240.1a1.2 1.2 0 1 0 2.4 0a1.2 1.2 0 1 0 -2.4 0M726.2 179.3a2.2 2.2 0 1 0 4.4 0a2.2 2.2 0 1 0 -4.4 0M775.8 245.1a1.6 1.6 0 1 0 3.2 0a1.6 1.6 0 1 0 -3.2 0M754.0 270.2a1.1 1.1 0 1 0 2.2 0a1.1 1.1 0 1 0 -2.2 0M764.1 244.2a1.2 1.2 0 1 0 2.4 0a1.2 1.2 0 1 0 -2.4 0M768.7 220.6a1.6 1.6 0 1 0 3.3 0a1.6 1.6 0 1 0 -3.3 0M742.9 203.9a2.0 2.0 0 1 0 4.1 0a2.0 2.0 0 1 0 -4.1 0M785.6 257.1a2.1 2.1 0 1 0 4.1 0a2.1 2.1 0 1 0 -4.1 0M768.5 202.4a1.7 1.7 0 1 0 3.4 0a1.7 1.7 0 1 0 -3.4 0M655.6 222.9a1.5 1.5 0 1 0 3.0 0a1.5 1.5 0 1 0 -3.0 0M723.3 294.6a1.5 1.5 0 1 0 2.9 0a1.5 1.5 0 1 0 -2.9 0M674.4 283.7a2.0 2.0 0 1 0 4.1 0a2.0 2.0 0 1 0 -4.1 0M802.1 254.5a1.5 1.5 0 1 0 3.1 0a1.5 1.5 0 1 0 -3.1 0M662.4 287.8a2.0 2.0 0 1 0 4.0 0a2.0 2.0 0 1 0 -4.0 0M799.4 208.2a1.3 1.3 0 1 0 2.6 0a1.3 1.3 0 1 0 -2.6 0M729.7 316.0a1.8 1.8 0 1 0 3.6 0a1.8 1.8 0 1 0 -3.6 0M701.0 267.6a1.9 1.9 0 1 0 3.9 0a1.9 1.9 0 1 0 -3.9 0M672.9 207.3a1.5 1.5 0 1 0 2.9 0a1.5 1.5 0 1 0 -2.9 0M799.3 221.5a1.2 1.2 0 1 0 2.5 0a1.2 1.2 0 1 0 -2.5 0M693.8 334.0a1.4 1.4 0 1 0 2.8 0a1.4 1.4 0 1 0 -2.8 0M665.8 295.3a1.4 1.4 0 1 0 2.7 0a1.4 1.4 0 1 0 -2.7 0M678.7 300.3a1.6 1.6 0 1 0 3.2 0a1.6 1.6 0 1 0 -3.2 0M679.0 311.1a2.2 2.2 0 1 0 4.3 0a2.2 2.2 0 1 0 -4.3 0M782.2 251.3a1.5 1.5 0 1 0 3.1 0a1.5 1.5 0 1 0 -3.1 0M693.3 324.9a2.1 2.1 0 1 0 4.1 0a2.1 2.1 0 1 0 -4.1 0M750.1 203.6a1.3 1.3 0 1 0 2.7 0a1.3 1.3 0 1 0 -2.7 0M706.3 210.3a2.0 2.0 0 1 0 3.9 0a2.0 2.0 0 1 0 -3.9 0M683.5 286.4a1.9 1.9 0 1 0 3.8 0a1.9 1.9 0 1 0 -3.8 0M675.8 242.9a2.0 2.0 0 1 0 4.0 0a2.0 2.0 0 1 0 -4.0 0M664.6 189.7a1.6 1.6 0 1 0 3.3 0a1.6 1.6 0 1 0 -3.3 0M731.5 337.9a1.7 1.7 0 1 0 3.5 0a1.7 1.7 0 1 0 -3.5 0M687.8 328.8a2.0 2.0 0 1 0 4.0 0a2.0 2.0 0 1 0 -4.0 0M657.9 239.7a1.3 1.3 0 1 0 2.6 0a1.3 1.3 0 1 0 -2.6 0M789.4 338.8a1.3 1.3 0 1 0 2.5 0a1.3 1.3 0 1 0 -2.5 0M773.2 317.7a2.1 2.1 0 1 0 4.1 0a2.1 2.1 0 1 0 -4.1 0M735.9 210.0a1.3 1.3 0 1 0 2.5 0a1.3 1.3 0 1 0 -2.5 0M676.1 223.1a1.7 1.7 0 1 0 3.5 0a1.7 1.7 0 1 0 -3.5 0" fill="none" stroke="#404040" stroke-width="0.5" stroke-linecap="round"/>
<path d="M662.8 205.6a1.5 1.5 0 1 0 3.1 0a1.5 1.5 0 1 0 -3.1 0M650.0 291.3a2.0 2.0 0 1 0 4.0 0a2.0 2.0 0 1 0 -4.0 0M705.2 202.9a1.9 1.9 0 1 0 3.9 0a1.9 1.9 0 1 0 -3.9 0M638.4 315.2a2.0 2.0 0 1 0 3.9 0a2.0 2.0 0 1 0 -3.9 0M763.5 235.5a1.8 1.8 0 1 0 3.7 0a1.8 1.8 0 1 0 -3.7 0M752.3 296.7a1.7 1.7 0 1 0 3.4 0a1.7 1.7 0 1 0 -3.4 0M754.6 233.1a1.9 1.9 0 1 0 3.8 0a1.9 1.9 0 1 0 -3.8 0M657.6 322.9a1.6 1.6 0 1 0 3.3 0a1.6 1.6 0 1 0 -3.3 0M693.2 255.6a2.1 2.1 0 1 0 4.1 0a2.1 2.1 0 1 0 -4.1 0M742.6 304.9a2.1 2.1 0 1 0 4.2 0a2.1 2.1 0 1 0 -4.2 0M684.9 231.9a2.1 2.1 0 1 0 4.2 0a2.1 2.1 0 1 0 -4.2 0M779.9 204.2a1.5 1.5 0 1 0 3.1 0a1.5 1.5 0 1 0 -3.1 0M762.0 325.0a1.8 1.8 0 1 0 3.7 0a1.8 1.8 0 1 0 -3.7 0M797.5 248.3a1.8 1.8 0 1 0 3.7 0a1.8 1.8 0 1 0 -3.7 0M768.3 274.5a1.4 1.4 0 1 0 2.7 0a1.4 1.4 0 1 0 -2.7 0M641.3 292.4a1.8 1.8 0 1 0 3.6 0a1.8 1.8 0 1 0 -3.6 0M643.2 249.2a2.0 2.0 0 1 0 3.9 0a2.0 2.0 0 1 0 -3.9 0M786.0 325.7a2.0 2.0 0 1 0 4.1 0a2.0 2.0 0 1 0 -4.1 0M776.1 304.9a1.9 1.9 0 1 0 3.9 0a1.9 1.9 0 1 0 -3.9 0M803.8 332.2a1.6 1.6 0 1 0 3.2 0a1.6 1.6 0 1 0 -3.2 0M798.6 277.4a1.4 1.4 0 1 0 2.8 0a1.4 1.4 0 1 0 -2.8 0M780.1 337.9a1.3 1.3 0 1 0 2.6 0a1.3 1.3 0 1 0 -2.6 0M652.2 328.2a1.5 1.5 0 1 0 2.9 0a1.5 1.5 0 1 0 -2.9 0M713.9 295.3a1.8 1.8 0 1 0 3.6 0a1.8 1.8 0 1 0 -3.6 0M810.4 247.1a1.5 1.5 0 1 0 3.0 0a1.5 1.5 0 1 0 -3.0 0M736.9 308.6a1.3 1.3 0 1 0 2.6 0a1.3 1.3 0 1 0 -2.6 0M768.7 251.9a1.8 1.8 0 1 0 3.7 0a1.8 1.8 0 1 0 -3.7 0M657.8 299.0a2.0 2.0 0 1 0 3.9 0a2.0 2.0 0 1 0 -3.9 0M660.1 280.9a1.9 1.9 0 1 0 3.7 0a1.9 1.9 0 1 0 -3.7 0M720.3 192.4a1.6 1.6 0 1 0 3.3 0a1.6 1.6 0 1 0 -3.3 0M661.1 309.6a1.8 1.8 0 1 0 3.6 0a1.8 1.8 0 1 0 -3.6 0M666.3 328.1a1.4 1.4 0 1 0 2.8 0a1.4 1.4 0 1 0 -2.8 0M720.0 304.9a1.2 1.2 0 1 0 2.5 0a1.2 1.2 0 1 0 -2.5 0M676.3 324.3a1.3 1.3 0 1 0 2.6 0a1.3 1.3 0 1 0 -2.6 0M743.9 334.7a1.4 1.4 0 1 0 2.9 0a1.4 1.4 0 1 0 -2.9 0M771.5 280.0a1.2 1.2 0 1 0 2.5 0a1.2 1.2 0 1 0 -2.5 0M714.6 194.2a1.4 1.4 0 1 0 2.9 0a1.4 1.4 0 1 0 -2.9 0M795.7 308.1a1.7 1.7 0 1 0 3.4 0a1.7 1.7 0 1 0 -3.4 0M677.5 253.0a2.0 2.0 0 1 0 3.9 0a2.0 2.0 0 1 0 -3.9 0M661.7 254.1a1.3 1.3 0 1 0 2.7 0a1.3 1.3 0 1 0 -2.7 0M722.6 221.5a2.0 2.0 0 1 0 4.0 0a2.0 2.0 0 1 0 -4.0 0M691.6 183.0a2.0 2.0 0 1 0 4.0 0a2.0 2.0 0 1 0 -4.0 0M673.5 198.4a1.2 1.2 0 1 0 2.4 0a1.2 1.2 0 1 0 -2.4 0M734.5 331.1a2.2 2.2 0 1 0 4.3 0a2.2 2.2 0 1 0 -4.3 0M753.0 288.6a2.1 2.1 0 1 0 4.2 0a2.1 2.1 0 1 0 -4.2 0M797.6 338.1a2.0 2.0 0 1 0 4.0 0a2.0 2.0 0 1 0 -4.0 0M782.1 194.8a1.2 1.2 0 1 0 2.4 0a1.2 1.2 0 1 0 -2.4 0M809.3 338.4a2.0 2.0 0 1 0 4.0 0a2.0 2.0 0 1 0 -4.0 0M732.6 236.2a2.1 2.1 0 1 0 4.2 0a2.1 2.1 0 1 0 -4.2 0M725.0 270.9a1.3 1.3 0 1 0 2.5 0a1.3 1.3 0 1 0 -2.5 0M696.0 301.6a1.4 1.4 0 1 0 2.7 0a1.4 1.4 0 1 0 -2.7 0M695.2 192.7a1.5 1.5 0 1 0 3.0 0a1.5 1.5 0 1 0 -3.0 0M664.1 227.6a1.9 1.9 0 1 0 3.9 0a1.9 1.9 0 1 0 -3.9 0M745.6 187.8a1.9 1.9 0 1 0 3.8 0a1.9 1.9 0 1 0 -3.8 0M761.8 260.6a1.5 1.5 0 1 0 3.1 0a1.5 1.5 0 1 0 -3.1 0M638.3 214.3a1.6 1.6 0 1 0 3.2 0a1.6 1.6 0 1 0 -3.2 0M757.0 247.7a1.4 1.4 0 1 0 2.8 0a1.4 1.4 0 1 0 -2.8 0M761.0 307.3a2.0 2.0 0 1 0 4.0 0a2.0 2.0 0 1 0 -4.0 0M657.1 230.2a1.8 1.8 0 1 0 3.5 0a1.8 1.8 0 1 0 -3.5 0M638.0 193.1a2.0 2.0 0 1 0 3.9 0a2.0 2.0 0 1 0 -3.9 0M762.9 317.6a2.0 2.0 0 1 0 4.0 0a2.0 2.0 0 1 0 -4.0 0M645.1 235.3a1.6 1.6 0 1 0 3.1 0a1.6 1.6 0 1 0 -3.1 0M685.4 302.4a1.6 1.6 0 1 0 3.2 0a1.6 1.6 0 1 0 -3.2 0M797.8 260.6a1.6 1.6 0 1 0 3.2 0a1.6 1.6 0 1 0 -3.2 0" fill="none" stroke="#505050" stroke-width="0.5" stroke-linecap="round"/>
<path d="M689.8 267.6a1.1 1.1 0 1 0 2.3 0a1.1 1.1 0 1 0 -2.3 0M801.4 201.8a2.2 2.2 0 1 0 4.3 0a2.2 2.2 0 1 0 -4.3 0M774.9 273.4a1.2 1.2 0 1 0 2.4 0a1.2 1.2 0 1 0 -2.4 0M775.7 182.7a2.1 2.1 0 1 0 4.2 0a2.1 2.1 0 1 0 -4.2 0M747.8 255.2a2.1 2.1 0 1 0 4.2 0a2.1 2.1 0 1 0 -4.2 0M695.4 240.7a1.5 1.5 0 1 0 2.9 0a1.5 1.5 0 1 0 -2.9 0M683.1 238.0a1.3 1.3 0 1 0 2.6 0a1.3 1.3 0 1 0 -2.6 0M785.8 240.5a2.0 2.0 0 1 0 4.1 0a2.0 2.0 0 1 0 -4.1 0M765.7 187.9a1.1 1.1 0 1 0 2.3 0a1.1 1.1 0 1 0 -2.3 0M706.0 330.3a1.8 1.8 0 1 0 3.6 0a1.8 1.8 0 1 0 -3.6 0M734.8 201.3a1.5 1.5 0 1 0 3.1 0a1.5 1.5 0 1 0 -3.1 0M684.2 323.9a1.7 1.7 0 1 0 3.3 0a1.7 1.7 0 1 0 -3.3 0M653.2 303.5a1.2 1.2 0 1 0 2.4 0a1.2 1.2 0 1 0 -2.4 0M796.9 330.2a1.6 1.6 0 1 0 3.1 0a1.6 1.6 0 1 0 -3.1 0M731.5 297.6a1.3 1.3 0 1 0 2.7 0a1.3 1.3 0 1 0 -2.7 0M665.8 321.1a1.6 1.6 0 1 0 3.2 0a1.6 1.6 0 1 0 -3.2 0M687.3 279.7a1.1 1.1 0 1 0 2.3 0a1.1 1.1 0 1 0 -2.3 0M805.6 217.7a1.4 1.4 0 1 0 2.8 0a1.4 1.4 0 1 0 -2.8 0M639.7 267.5a1.3 1.3 0 1 0 2.6 0a1.3 1.3 0 1 0 -2.6 0M637.9 186.3a1.7 1.7 0 1 0 3.4 0a1.7 1.7 0 1 0 -3.4 0M711.8 334.4a1.3 1.3 0 1 0 2.6 0a1.3 1.3 0 1 0 -2.6 0M707.3 290.7a2.1 2.1 0 1 0 4.2 0a2.1 2.1 0 1 0 -4.2 0M648.9 312.1a2.1 2.1 0 1 0 4.1 0a2.1 2.1 0 1 0 -4.1 0M807.5 196.2a1.6 1.6 0 1 0 3.2 0a1.6 1.6 0 1 0 -3.2 0M752.4 331.9a1.4 1.4 0 1 0 2.8 0a1.4 1.4 0 1 0 -2.8 0M663.4 273.2a1.8 1.8 0 1 0 3.5 0a1.8 1.8 0 1 0 -3.5 0M734.6 244.8a1.6 1.6 0 1 0 3.2 0a1.6 1.6 0 1 0 -3.2 0M679.2 193.3a1.9 1.9 0 1 0 3.8 0a1.9 1.9 0 1 0 -3.8 0M650.0 191.6a1.3 1.3 0 1 0 2.7 0a1.3 1.3 0 1 0 -2.7 0M713.0 284.9a1.3 1.3 0 1 0 2.5 0a1.3 1.3 0 1 0 -2.5 0M647.4 272.3a1.2 1.2 0 1 0 2.5 0a1.2 1.2 0 1 0 -2.5 0M761.1 223.0a1.4 1.4 0 1 0 2.8 0a1.4 1.4 0 1 0 -2.8 0M788.3 293.8a1.8 1.8 0 1 0 3.7 0a1.8 1.8 0 1 0 -3.7 0" fill="none" stroke="#606060" stroke-width="0.5" stroke-linecap="round"/>
<rect x="639.3" y="178.4" width="173" height="161" fill="#fff" filter="url(#n3b)"/>
<rect x="639.3" y="178.4" width="173" height="161" fill="#fff" filter="url(#n3a)"/>
<g filter="url(#fcl3)" fill="#fff">
<ellipse cx="758.5" cy="215.4" rx="7" ry="6"/><ellipse cx="764.5" cy="255.2" rx="7" ry="6"/><ellipse cx="653.5" cy="238.3" rx="6" ry="6"/><ellipse cx="651" cy="269.7" rx="7" ry="8"/><ellipse cx="678.8" cy="268.5" rx="5" ry="5"/><ellipse cx="709" cy="320.4" rx="6" ry="5"/><ellipse cx="774" cy="320.4" rx="11" ry="4"/><ellipse cx="704" cy="217.8" rx="5" ry="6"/><ellipse cx="657" cy="303.5" rx="4" ry="5"/><ellipse cx="670" cy="214" rx="4" ry="3"/><ellipse cx="742" cy="196" rx="5" ry="6"/><ellipse cx="700" cy="243" rx="4" ry="3"/><ellipse cx="790" cy="300" rx="3" ry="4"/>
</g>
</g>
<rect x="639.3" y="178.4" width="35.7" height="21.5" fill="#b9b9b9" fill-opacity=".84"/><text x="657.2" y="196.5" text-anchor="middle" class="tw" font-size="20.5">III</text>
<rect x="760.8" y="178.4" width="51.5" height="21.5" fill="#b9b9b9" fill-opacity=".84"/><text x="786.5" y="196.5" text-anchor="middle" class="tw" font-size="20.5">HPC</text>
<rect x="784.7" y="319.7" width="11" height="3.5" fill="#fff"/>
<text x="608.4" y="28" class="pl" font-size="22">b</text>
</g>
<g>
<polyline points="868.3,311.5 871.6,303.4 874.8,293.4 878.1,284.3 881.4,275.2 884.7,267.2 888.0,260.7 892.1,265.2 896.2,269.2 904.4,276.2 912.6,282.7 920.8,289.3 925.7,293.8 930.7,297.8 938.9,303.6 945.4,307.7 951.2,311.5" fill="none" stroke="#0000FF" stroke-width="1.3" stroke-linejoin="round"/>
<polyline points="868.4,311.5 869.6,200.1 870.3,261.1 871.0,303.4 871.8,310.7 888.0,311.5" fill="none" stroke="#FF2020" stroke-width="1.3" stroke-linejoin="round"/>
<polyline points="869.5,311.5 870.6,303.4 871.2,283.3 871.9,255.1 872.5,238.4 873.0,249.0 873.9,267.2 875.1,285.3 876.7,297.4 878.4,303.4 880.6,307.5 883.9,310.1 888.0,311.5" fill="none" stroke="#000" stroke-width="1.2" stroke-linejoin="round"/>
<rect x="865.0" y="190.6" width="123.3" height="120.9" fill="none" stroke="#000" stroke-width="1.3"/>
<path d="M861 311.5H865" stroke="#000" stroke-width="1.2"/>
<text x="859.2" y="314.7" text-anchor="end" class="cb" font-size="9.2">0</text>
<path d="M861 271.2H865" stroke="#000" stroke-width="1.2"/>
<text x="859.2" y="274.4" text-anchor="end" class="cb" font-size="9.2">20</text>
<path d="M861 230.9H865" stroke="#000" stroke-width="1.2"/>
<text x="859.2" y="234.1" text-anchor="end" class="cb" font-size="9.2">40</text>
<path d="M861 190.6H865" stroke="#000" stroke-width="1.2"/>
<text x="859.2" y="193.8" text-anchor="end" class="cb" font-size="9.2">60</text>
<path d="M865.0 311.5V315.8" stroke="#000" stroke-width="1.2"/>
<text x="865.0" y="325.6" text-anchor="middle" class="cb" font-size="9.2">0</text>
<path d="M881.4 311.5V315.8" stroke="#000" stroke-width="1.2"/>
<text x="881.4" y="325.6" text-anchor="middle" class="cb" font-size="9.2">20</text>
<path d="M897.8 311.5V315.8" stroke="#000" stroke-width="1.2"/>
<text x="897.8" y="325.6" text-anchor="middle" class="cb" font-size="9.2">40</text>
<path d="M914.2 311.5V315.8" stroke="#000" stroke-width="1.2"/>
<text x="914.2" y="325.6" text-anchor="middle" class="cb" font-size="9.2">60</text>
<path d="M930.7 311.5V315.8" stroke="#000" stroke-width="1.2"/>
<text x="930.7" y="325.6" text-anchor="middle" class="cb" font-size="9.2">80</text>
<path d="M947.1 311.5V315.8" stroke="#000" stroke-width="1.2"/>
<text x="947.1" y="325.6" text-anchor="middle" class="cb" font-size="9.2">100</text>
<path d="M963.5 311.5V315.8" stroke="#000" stroke-width="1.2"/>
<text x="963.5" y="325.6" text-anchor="middle" class="cb" font-size="9.2">120</text>
<path d="M979.9 311.5V315.8" stroke="#000" stroke-width="1.2"/>
<text x="979.9" y="325.6" text-anchor="middle" class="cb" font-size="9.2">140</text>
<text x="926.5" y="341" text-anchor="middle" class="cb" font-size="10">Diameter (μm)</text>
<text transform="translate(841.6 250.5) rotate(-90)" text-anchor="middle" class="cb" font-size="10">Volume normalized (%)</text>
<path d="M928.8 199.5H941.2" stroke="#000" stroke-width="1.3"/>
<text x="948.8" y="202.7" class="cl" font-size="9.9">HPC</text>
<path d="M928.8 216.1H941.2" stroke="#0000FF" stroke-width="1.3"/>
<text x="948.8" y="219.3" class="cl" font-size="9.9">Clot</text>
<path d="M928.8 232.5H941.2" stroke="#FF3030" stroke-width="1.3"/>
<text x="948.8" y="235.7" class="cl" font-size="9.9">DB-Cyc</text>
<text x="822.5" y="193.6" class="tr" font-size="20">IV</text>
</g>
<g>
<rect x="166.0" y="587.67" width="26.6" height="8.63" fill="#FFFF00" stroke="#222" stroke-opacity=".8" stroke-width=".55"/>
<rect x="166.0" y="581.47" width="26.6" height="6.20" fill="#FF0000" stroke="#222" stroke-opacity=".8" stroke-width=".55"/>
<rect x="166.0" y="579.73" width="26.6" height="1.74" fill="#E3B7B7" stroke="#222" stroke-opacity=".8" stroke-width=".55"/>
<rect x="166.0" y="577.21" width="26.6" height="2.52" fill="#E3C3AC" stroke="#222" stroke-opacity=".8" stroke-width=".55"/>
<rect x="166.0" y="569.85" width="26.6" height="7.36" fill="#D9D79E" stroke="#222" stroke-opacity=".8" stroke-width=".55"/>
<rect x="166.0" y="568.69" width="26.6" height="1.16" fill="#B2E2B2" stroke="#222" stroke-opacity=".8" stroke-width=".55"/>
<rect x="166.0" y="566.75" width="26.6" height="1.94" fill="#B9F1DB" stroke="#222" stroke-opacity=".8" stroke-width=".55"/>
<rect x="166.0" y="563.66" width="26.6" height="3.10" fill="#84A9D9" stroke="#222" stroke-opacity=".8" stroke-width=".55"/>
<rect x="166.0" y="562.11" width="26.6" height="1.55" fill="#8A92DA" stroke="#222" stroke-opacity=".8" stroke-width=".55"/>
<rect x="166.0" y="560.56" width="26.6" height="1.55" fill="#B383CB" stroke="#222" stroke-opacity=".8" stroke-width=".55"/>
<rect x="166.0" y="556.68" width="26.6" height="3.87" fill="#C891C3" stroke="#222" stroke-opacity=".8" stroke-width=".55"/>
<rect x="166.0" y="546.81" width="26.6" height="9.88" fill="#C983A9" stroke="#222" stroke-opacity=".8" stroke-width=".55"/>
<rect x="166.0" y="544.87" width="26.6" height="1.94" fill="#A50050" stroke="#222" stroke-opacity=".8" stroke-width=".55"/>
<rect x="166.0" y="540.03" width="26.6" height="4.84" fill="#000080" stroke="#222" stroke-opacity=".8" stroke-width=".55"/>
<rect x="166.0" y="534.61" width="26.6" height="5.42" fill="#00FF00" stroke="#222" stroke-opacity=".8" stroke-width=".55"/>
<rect x="166.0" y="504.59" width="26.6" height="30.02" fill="#808000" stroke="#222" stroke-opacity=".8" stroke-width=".55"/>
<rect x="166.0" y="501.69" width="26.6" height="2.90" fill="#F4B982" stroke="#222" stroke-opacity=".8" stroke-width=".55"/>
<rect x="166.0" y="500.91" width="26.6" height="0.77" fill="#FF8080" stroke="#222" stroke-opacity=".8" stroke-width=".55"/>
<rect x="166.0" y="498.59" width="26.6" height="2.32" fill="#CBE3FA" stroke="#222" stroke-opacity=".8" stroke-width=".55"/>
<rect x="166.0" y="491.04" width="26.6" height="7.55" fill="#A2A2AA" stroke="#222" stroke-opacity=".8" stroke-width=".55"/>
<rect x="206.0" y="595.22" width="26.6" height="1.08" fill="#FFFF00" stroke="#222" stroke-opacity=".8" stroke-width=".55"/>
<rect x="206.0" y="579.54" width="26.6" height="15.69" fill="#FF0000" stroke="#222" stroke-opacity=".8" stroke-width=".55"/>
<rect x="206.0" y="569.85" width="26.6" height="9.68" fill="#E3B7B7" stroke="#222" stroke-opacity=".8" stroke-width=".55"/>
<rect x="206.0" y="569.27" width="26.6" height="0.58" fill="#E3C3AC" stroke="#222" stroke-opacity=".8" stroke-width=".55"/>
<rect x="206.0" y="553.59" width="26.6" height="15.69" fill="#D9D79E" stroke="#222" stroke-opacity=".8" stroke-width=".55"/>
<rect x="206.0" y="544.68" width="26.6" height="8.91" fill="#B2E2B2" stroke="#222" stroke-opacity=".8" stroke-width=".55"/>
<rect x="206.0" y="537.32" width="26.6" height="7.36" fill="#B9F1DB" stroke="#222" stroke-opacity=".8" stroke-width=".55"/>
<rect x="206.0" y="536.74" width="26.6" height="0.58" fill="#84A9D9" stroke="#222" stroke-opacity=".8" stroke-width=".55"/>
<rect x="206.0" y="536.16" width="26.6" height="0.58" fill="#8A92DA" stroke="#222" stroke-opacity=".8" stroke-width=".55"/>
<rect x="206.0" y="533.83" width="26.6" height="2.32" fill="#B383CB" stroke="#222" stroke-opacity=".8" stroke-width=".55"/>
<rect x="206.0" y="530.74" width="26.6" height="3.10" fill="#C891C3" stroke="#222" stroke-opacity=".8" stroke-width=".55"/>
<rect x="206.0" y="524.15" width="26.6" height="6.58" fill="#C983A9" stroke="#222" stroke-opacity=".8" stroke-width=".55"/>
<rect x="206.0" y="519.50" width="26.6" height="4.65" fill="#A50050" stroke="#222" stroke-opacity=".8" stroke-width=".55"/>
<rect x="206.0" y="512.53" width="26.6" height="6.97" fill="#000080" stroke="#222" stroke-opacity=".8" stroke-width=".55"/>
<rect x="206.0" y="506.72" width="26.6" height="5.81" fill="#00FF00" stroke="#222" stroke-opacity=".8" stroke-width=".55"/>
<rect x="206.0" y="504.40" width="26.6" height="2.32" fill="#808000" stroke="#222" stroke-opacity=".8" stroke-width=".55"/>
<rect x="206.0" y="501.69" width="26.6" height="2.71" fill="#F4B982" stroke="#222" stroke-opacity=".8" stroke-width=".55"/>
<rect x="206.0" y="500.91" width="26.6" height="0.77" fill="#FF8080" stroke="#222" stroke-opacity=".8" stroke-width=".55"/>
<rect x="206.0" y="497.43" width="26.6" height="3.49" fill="#CBE3FA" stroke="#222" stroke-opacity=".8" stroke-width=".55"/>
<rect x="206.0" y="491.62" width="26.6" height="5.81" fill="#A2A2AA" stroke="#222" stroke-opacity=".8" stroke-width=".55"/>
<rect x="245.8" y="594.80" width="26.6" height="1.50" fill="#FFFF00" stroke="#222" stroke-opacity=".8" stroke-width=".55"/>
<rect x="245.8" y="574.10" width="26.6" height="20.70" fill="#FF0000" stroke="#222" stroke-opacity=".8" stroke-width=".55"/>
<rect x="245.8" y="560.20" width="26.6" height="13.90" fill="#E3B7B7" stroke="#222" stroke-opacity=".8" stroke-width=".55"/>
<rect x="245.8" y="525.70" width="26.6" height="34.30" fill="#D9D79E" stroke="#222" stroke-opacity=".8" stroke-width=".55"/>
<rect x="245.8" y="516.40" width="26.6" height="9.30" fill="#B2E2B2" stroke="#222" stroke-opacity=".8" stroke-width=".55"/>
<rect x="245.8" y="509.40" width="26.6" height="7.00" fill="#B9F1DB" stroke="#222" stroke-opacity=".8" stroke-width=".55"/>
<rect x="245.8" y="509.00" width="26.6" height="0.40" fill="#84A9D9" stroke="#222" stroke-opacity=".8" stroke-width=".55"/>
<rect x="245.8" y="508.30" width="26.6" height="0.70" fill="#8A92DA" stroke="#222" stroke-opacity=".8" stroke-width=".55"/>
<rect x="245.8" y="505.60" width="26.6" height="2.70" fill="#B383CB" stroke="#222" stroke-opacity=".8" stroke-width=".55"/>
<rect x="245.8" y="503.10" width="26.6" height="2.50" fill="#C891C3" stroke="#222" stroke-opacity=".8" stroke-width=".55"/>
<rect x="245.8" y="498.20" width="26.6" height="4.90" fill="#C983A9" stroke="#222" stroke-opacity=".8" stroke-width=".55"/>
<rect x="245.8" y="491.60" width="26.6" height="6.60" fill="#A50050" stroke="#222" stroke-opacity=".8" stroke-width=".55"/>
<rect x="245.8" y="487.00" width="26.6" height="4.60" fill="#000080" stroke="#222" stroke-opacity=".8" stroke-width=".55"/>
<rect x="245.8" y="486.60" width="26.6" height="0.40" fill="#00FF00" stroke="#222" stroke-opacity=".8" stroke-width=".55"/>
<rect x="245.8" y="481.90" width="26.6" height="4.70" fill="#808000" stroke="#222" stroke-opacity=".8" stroke-width=".55"/>
<rect x="245.8" y="472.60" width="26.6" height="9.30" fill="#F4B982" stroke="#222" stroke-opacity=".8" stroke-width=".55"/>
<rect x="245.8" y="469.70" width="26.6" height="2.90" fill="#FF8080" stroke="#222" stroke-opacity=".8" stroke-width=".55"/>
<rect x="245.8" y="466.60" width="26.6" height="3.10" fill="#CBE3FA" stroke="#222" stroke-opacity=".8" stroke-width=".55"/>
<rect x="245.8" y="460.20" width="26.6" height="6.40" fill="#A2A2AA" stroke="#222" stroke-opacity=".8" stroke-width=".55"/>
<rect x="285.5" y="592.70" width="26.6" height="3.60" fill="#FFFF00" stroke="#222" stroke-opacity=".8" stroke-width=".55"/>
<rect x="285.5" y="588.83" width="26.6" height="3.87" fill="#FF0000" stroke="#222" stroke-opacity=".8" stroke-width=".55"/>
<rect x="285.5" y="587.67" width="26.6" height="1.16" fill="#E3B7B7" stroke="#222" stroke-opacity=".8" stroke-width=".55"/>
<rect x="285.5" y="587.28" width="26.6" height="0.39" fill="#E3C3AC" stroke="#222" stroke-opacity=".8" stroke-width=".55"/>
<rect x="285.5" y="586.12" width="26.6" height="1.16" fill="#D9D79E" stroke="#222" stroke-opacity=".8" stroke-width=".55"/>
<rect x="285.5" y="585.73" width="26.6" height="0.39" fill="#B2E2B2" stroke="#222" stroke-opacity=".8" stroke-width=".55"/>
<rect x="285.5" y="584.18" width="26.6" height="1.55" fill="#B9F1DB" stroke="#222" stroke-opacity=".8" stroke-width=".55"/>
<rect x="285.5" y="583.80" width="26.6" height="0.39" fill="#84A9D9" stroke="#222" stroke-opacity=".8" stroke-width=".55"/>
<rect x="285.5" y="583.41" width="26.6" height="0.39" fill="#8A92DA" stroke="#222" stroke-opacity=".8" stroke-width=".55"/>
<rect x="285.5" y="576.44" width="26.6" height="6.97" fill="#B383CB" stroke="#222" stroke-opacity=".8" stroke-width=".55"/>
<rect x="285.5" y="573.73" width="26.6" height="2.71" fill="#C891C3" stroke="#222" stroke-opacity=".8" stroke-width=".55"/>
<rect x="285.5" y="568.30" width="26.6" height="5.42" fill="#C983A9" stroke="#222" stroke-opacity=".8" stroke-width=".55"/>
<rect x="285.5" y="567.14" width="26.6" height="1.16" fill="#A50050" stroke="#222" stroke-opacity=".8" stroke-width=".55"/>
<rect x="285.5" y="560.95" width="26.6" height="6.20" fill="#000080" stroke="#222" stroke-opacity=".8" stroke-width=".55"/>
<rect x="285.5" y="554.36" width="26.6" height="6.58" fill="#00FF00" stroke="#222" stroke-opacity=".8" stroke-width=".55"/>
<rect x="285.5" y="552.42" width="26.6" height="1.94" fill="#808000" stroke="#222" stroke-opacity=".8" stroke-width=".55"/>
<rect x="285.5" y="539.64" width="26.6" height="12.78" fill="#F4B982" stroke="#222" stroke-opacity=".8" stroke-width=".55"/>
<rect x="285.5" y="538.87" width="26.6" height="0.77" fill="#FF8080" stroke="#222" stroke-opacity=".8" stroke-width=".55"/>
<rect x="285.5" y="537.71" width="26.6" height="1.16" fill="#CBE3FA" stroke="#222" stroke-opacity=".8" stroke-width=".55"/>
<rect x="285.5" y="530.35" width="26.6" height="7.36" fill="#A2A2AA" stroke="#222" stroke-opacity=".8" stroke-width=".55"/>
<rect x="325.2" y="593.90" width="26.6" height="2.40" fill="#FFFF00" stroke="#222" stroke-opacity=".8" stroke-width=".55"/>
<rect x="325.2" y="539.60" width="26.6" height="54.30" fill="#FF0000" stroke="#222" stroke-opacity=".8" stroke-width=".55"/>
<rect x="325.2" y="532.70" width="26.6" height="6.50" fill="#D9D79E" stroke="#222" stroke-opacity=".8" stroke-width=".55"/>
<rect x="325.2" y="530.00" width="26.6" height="2.70" fill="#B2E2B2" stroke="#222" stroke-opacity=".8" stroke-width=".55"/>
<rect x="325.2" y="522.20" width="26.6" height="7.80" fill="#B9F1DB" stroke="#222" stroke-opacity=".8" stroke-width=".55"/>
<rect x="325.2" y="521.80" width="26.6" height="0.40" fill="#84A9D9" stroke="#222" stroke-opacity=".8" stroke-width=".55"/>
<rect x="325.2" y="521.40" width="26.6" height="0.40" fill="#8A92DA" stroke="#222" stroke-opacity=".8" stroke-width=".55"/>
<rect x="325.2" y="521.00" width="26.6" height="0.40" fill="#B383CB" stroke="#222" stroke-opacity=".8" stroke-width=".55"/>
<rect x="325.2" y="499.00" width="26.6" height="22.00" fill="#C891C3" stroke="#222" stroke-opacity=".8" stroke-width=".55"/>
<rect x="325.2" y="487.70" width="26.6" height="11.30" fill="#C983A9" stroke="#222" stroke-opacity=".8" stroke-width=".55"/>
<rect x="325.2" y="487.30" width="26.6" height="0.40" fill="#A50050" stroke="#222" stroke-opacity=".8" stroke-width=".55"/>
<rect x="325.2" y="486.50" width="26.6" height="0.80" fill="#000080" stroke="#222" stroke-opacity=".8" stroke-width=".55"/>
<rect x="325.2" y="426.50" width="26.6" height="60.00" fill="#00FF00" stroke="#222" stroke-opacity=".8" stroke-width=".55"/>
<rect x="325.2" y="412.90" width="26.6" height="13.40" fill="#F4B982" stroke="#222" stroke-opacity=".8" stroke-width=".55"/>
<rect x="325.2" y="412.10" width="26.6" height="0.80" fill="#FF8080" stroke="#222" stroke-opacity=".8" stroke-width=".55"/>
<rect x="325.2" y="407.70" width="26.6" height="4.40" fill="#CBE3FA" stroke="#222" stroke-opacity=".8" stroke-width=".55"/>
<rect x="325.2" y="404.00" width="26.6" height="3.70" fill="#A2A2AA" stroke="#222" stroke-opacity=".8" stroke-width=".55"/>
<path d="M153 597.4V385.2H365V597.4" fill="none" stroke="#000" stroke-width="2.2"/>
<path d="M151.9 596.3H366.1" fill="none" stroke="#000" stroke-width="2.3"/>
<path d="M144 596.3H152" stroke="#000" stroke-width="2"/>
<text x="141.6" y="601.6" text-anchor="end" class="cb" font-size="14.6">0</text>
<path d="M144 525.9H152" stroke="#000" stroke-width="2"/>
<text x="141.6" y="531.2" text-anchor="end" class="cb" font-size="14.6">2</text>
<path d="M144 455.5H152" stroke="#000" stroke-width="2"/>
<text x="141.6" y="460.8" text-anchor="end" class="cb" font-size="14.6">4</text>
<path d="M144 385.1H152" stroke="#000" stroke-width="2"/>
<text x="141.6" y="390.4" text-anchor="end" class="cb" font-size="14.6">6</text>
<path d="M179.2 597V605.6" stroke="#000" stroke-width="2"/>
<text transform="translate(185.0 620.6) rotate(-45)" text-anchor="end" class="cb" font-size="16">Con</text>
<path d="M218.8 597V605.6" stroke="#000" stroke-width="2"/>
<text transform="translate(224.6 620.6) rotate(-45)" text-anchor="end" class="cb" font-size="16">Blank</text>
<path d="M258.9 597V605.6" stroke="#000" stroke-width="2"/>
<text transform="translate(264.7 620.6) rotate(-45)" text-anchor="end" class="cb" font-size="16">Clot</text>
<path d="M298.5 597V605.6" stroke="#000" stroke-width="2"/>
<text transform="translate(304.3 620.6) rotate(-45)" text-anchor="end" class="cb" font-size="16">FAP</text>
<path d="M338.1 597V605.6" stroke="#000" stroke-width="2"/>
<text transform="translate(343.9 620.6) rotate(-45)" text-anchor="end" class="cb" font-size="16">HPC</text>
<text transform="translate(100.4 491) rotate(-90)" text-anchor="middle" class="cb" font-size="17.6">Percent of total protein(%)</text>
<rect x="377.8" y="372.7" width="22" height="7.4" fill="#FFFF00" stroke="#222" stroke-opacity=".8" stroke-width=".7"/>
<text x="413.3" y="381.4" class="cl" font-size="14.6">Prothrombin</text>
<rect x="377.8" y="387.5" width="22" height="7.4" fill="#FF0000" stroke="#222" stroke-opacity=".8" stroke-width=".7"/>
<text x="413.3" y="396.2" class="cl" font-size="14.6">Antithrombin-III</text>
<rect x="377.8" y="401.6" width="22" height="7.4" fill="#E3B7B7" stroke="#222" stroke-opacity=".8" stroke-width=".7"/>
<text x="413.3" y="410.3" class="cl" font-size="14.6">Coagulation factor V</text>
<rect x="377.8" y="414.3" width="22" height="7.4" fill="#E3C3AC" stroke="#222" stroke-opacity=".8" stroke-width=".7"/>
<text x="413.3" y="423.0" class="cl" font-size="14.6">Coagulation factor IX</text>
<rect x="377.8" y="427.0" width="22" height="7.4" fill="#D9D79E" stroke="#222" stroke-opacity=".8" stroke-width=".7"/>
<text x="413.3" y="435.7" class="cl" font-size="14.6">Coagulation factor X</text>
<rect x="377.8" y="440.0" width="22" height="7.4" fill="#B2E2B2" stroke="#222" stroke-opacity=".8" stroke-width=".7"/>
<text x="413.3" y="448.7" class="cl" font-size="14.6">Coagulation factor XI</text>
<rect x="377.8" y="454.1" width="22" height="7.4" fill="#B9F1DB" stroke="#222" stroke-opacity=".8" stroke-width=".7"/>
<text x="413.3" y="462.8" class="cl" font-size="14.6">Coagulation factor XII</text>
<rect x="377.8" y="468.4" width="22" height="7.4" fill="#84A9D9" stroke="#222" stroke-opacity=".8" stroke-width=".7"/>
<text x="413.3" y="477.1" class="cl" font-size="14.6">Coagulation factor XIII A</text>
<rect x="377.8" y="482.5" width="22" height="7.4" fill="#8A92DA" stroke="#222" stroke-opacity=".8" stroke-width=".7"/>
<text x="413.3" y="491.2" class="cl" font-size="14.6">Coagulation factor VII</text>
<rect x="377.8" y="496.8" width="22" height="7.4" fill="#B383CB" stroke="#222" stroke-opacity=".8" stroke-width=".7"/>
<text x="413.3" y="505.5" class="cl" font-size="14.6">Coagulation factor XIII B</text>
<rect x="377.8" y="512.4" width="22" height="7.4" fill="#C891C3" stroke="#222" stroke-opacity=".8" stroke-width=".7"/>
<text x="413.3" y="521.1" class="cl" font-size="14.6">Fibronectin</text>
<rect x="377.8" y="526.0" width="22" height="7.4" fill="#C983A9" stroke="#222" stroke-opacity=".8" stroke-width=".7"/>
<text x="413.3" y="534.7" class="cl" font-size="14.6">Plasma kallikrein</text>
<rect x="377.8" y="540.1" width="22" height="7.4" fill="#A50050" stroke="#222" stroke-opacity=".8" stroke-width=".7"/>
<text x="413.3" y="548.8" class="cl" font-size="14.6">protein C</text>
<rect x="377.8" y="555.1" width="22" height="7.4" fill="#000080" stroke="#222" stroke-opacity=".8" stroke-width=".7"/>
<text x="413.3" y="563.8" class="cl" font-size="14.6">protein S</text>
<rect x="377.8" y="571.3" width="22" height="7.4" fill="#00FF00" stroke="#222" stroke-opacity=".8" stroke-width=".7"/>
<text x="413.3" y="580.0" class="cl" font-size="14.6">Alpha-2-antiplasmin</text>
<rect x="377.8" y="585.4" width="22" height="7.4" fill="#808000" stroke="#222" stroke-opacity=".8" stroke-width=".7"/>
<text x="413.3" y="594.1" class="cl" font-size="14.6">Heparin cofactor 2</text>
<rect x="377.8" y="599.5" width="22" height="7.4" fill="#F4B982" stroke="#222" stroke-opacity=".8" stroke-width=".7"/>
<text x="413.3" y="608.2" class="cl" font-size="14.6">Fibrinogen</text>
<rect x="377.8" y="614.3" width="22" height="7.4" fill="#FF8080" stroke="#222" stroke-opacity=".8" stroke-width=".7"/>
<text x="413.3" y="623.0" class="cl" font-size="14.6">Plasma serine protease</text>
<rect x="377.8" y="629.1" width="22" height="7.4" fill="#CBE3FA" stroke="#222" stroke-opacity=".8" stroke-width=".7"/>
<text x="413.3" y="637.8" class="cl" font-size="14.6">von Willebrand factor</text>
<rect x="377.8" y="643.9" width="22" height="7.4" fill="#A2A2AA" stroke="#222" stroke-opacity=".8" stroke-width=".7"/>
<text x="413.3" y="652.6" class="cl" font-size="14.6">Plasmin</text>
<text transform="translate(13.8 380.5) scale(1.08 1)" class="pl" font-size="21.6">c</text>
</g>
<g>
<defs><linearGradient id="gd" x1="0" y1="0" x2="0" y2="1"><stop offset="0" stop-color="#6F7DF2"/><stop offset=".5" stop-color="#6CB4E4"/><stop offset="1" stop-color="#62F0BC"/></linearGradient></defs>
<rect x="685.10" y="527.24" width="11.3" height="7.79" fill="url(#gd)" stroke="#555" stroke-width=".5"/>
<rect x="699.33" y="425.15" width="11.3" height="102.09" fill="url(#gd)" stroke="#555" stroke-width=".5"/>
<rect x="713.55" y="527.24" width="11.3" height="8.28" fill="url(#gd)" stroke="#555" stroke-width=".5"/>
<rect x="727.78" y="527.24" width="11.3" height="4.57" fill="url(#gd)" stroke="#555" stroke-width=".5"/>
<rect x="742.00" y="527.24" width="11.3" height="2.97" fill="url(#gd)" stroke="#555" stroke-width=".5"/>
<rect x="756.23" y="511.17" width="11.3" height="16.07" fill="url(#gd)" stroke="#555" stroke-width=".5"/>
<rect x="770.46" y="502.89" width="11.3" height="24.35" fill="url(#gd)" stroke="#555" stroke-width=".5"/>
<rect x="784.68" y="527.24" width="11.3" height="8.90" fill="url(#gd)" stroke="#555" stroke-width=".5"/>
<rect x="798.91" y="527.24" width="11.3" height="12.11" fill="url(#gd)" stroke="#555" stroke-width=".5"/>
<rect x="813.13" y="527.24" width="11.3" height="2.97" fill="url(#gd)" stroke="#555" stroke-width=".5"/>
<rect x="827.36" y="482.99" width="11.3" height="44.25" fill="url(#gd)" stroke="#555" stroke-width=".5"/>
<rect x="841.59" y="526.00" width="11.3" height="1.24" fill="url(#gd)" stroke="#555" stroke-width=".5"/>
<rect x="855.81" y="527.24" width="11.3" height="12.11" fill="url(#gd)" stroke="#555" stroke-width=".5"/>
<rect x="870.04" y="527.24" width="11.3" height="9.02" fill="url(#gd)" stroke="#555" stroke-width=".5"/>
<rect x="884.26" y="400.43" width="11.3" height="126.81" fill="url(#gd)" stroke="#555" stroke-width=".5"/>
<rect x="898.49" y="527.24" width="11.3" height="12.11" fill="url(#gd)" stroke="#555" stroke-width=".5"/>
<rect x="912.72" y="483.86" width="11.3" height="43.38" fill="url(#gd)" stroke="#555" stroke-width=".5"/>
<rect x="926.94" y="523.53" width="11.3" height="3.71" fill="url(#gd)" stroke="#555" stroke-width=".5"/>
<rect x="941.17" y="509.32" width="11.3" height="17.92" fill="url(#gd)" stroke="#555" stroke-width=".5"/>
<rect x="955.39" y="527.24" width="11.3" height="6.43" fill="url(#gd)" stroke="#555" stroke-width=".5"/>
<rect x="683" y="391.3" width="285.4" height="148.3" fill="none" stroke="#111" stroke-width="1"/>
<path d="M683 527.2H968.4" stroke="#111" stroke-width="1"/>
<path d="M680.6 539.6H683" stroke="#111" stroke-width=".7"/>
<text x="679.3" y="542.0" text-anchor="end" class="ts" font-size="7.2">0</text>
<path d="M680.6 527.2H683" stroke="#111" stroke-width=".7"/>
<text x="679.3" y="529.6" text-anchor="end" class="ts" font-size="7.2">1</text>
<path d="M680.6 514.9H683" stroke="#111" stroke-width=".7"/>
<text x="679.3" y="517.3" text-anchor="end" class="ts" font-size="7.2">2</text>
<path d="M680.6 502.5H683" stroke="#111" stroke-width=".7"/>
<text x="679.3" y="504.9" text-anchor="end" class="ts" font-size="7.2">3</text>
<path d="M680.6 490.2H683" stroke="#111" stroke-width=".7"/>
<text x="679.3" y="492.6" text-anchor="end" class="ts" font-size="7.2">4</text>
<path d="M680.6 477.8H683" stroke="#111" stroke-width=".7"/>
<text x="679.3" y="480.2" text-anchor="end" class="ts" font-size="7.2">5</text>
<path d="M680.6 465.4H683" stroke="#111" stroke-width=".7"/>
<text x="679.3" y="467.8" text-anchor="end" class="ts" font-size="7.2">6</text>
<path d="M680.6 453.1H683" stroke="#111" stroke-width=".7"/>
<text x="679.3" y="455.5" text-anchor="end" class="ts" font-size="7.2">7</text>
<path d="M680.6 440.7H683" stroke="#111" stroke-width=".7"/>
<text x="679.3" y="443.1" text-anchor="end" class="ts" font-size="7.2">8</text>
<path d="M680.6 428.4H683" stroke="#111" stroke-width=".7"/>
<text x="679.3" y="430.8" text-anchor="end" class="ts" font-size="7.2">9</text>
<path d="M680.6 416.0H683" stroke="#111" stroke-width=".7"/>
<text x="679.3" y="418.4" text-anchor="end" class="ts" font-size="7.2">10</text>
<path d="M680.6 403.6H683" stroke="#111" stroke-width=".7"/>
<text x="679.3" y="406.0" text-anchor="end" class="ts" font-size="7.2">11</text>
<path d="M680.6 391.3H683" stroke="#111" stroke-width=".7"/>
<text x="679.3" y="393.7" text-anchor="end" class="ts" font-size="7.2" font-weight="bold">12</text>
<text transform="translate(687.4 541.8) rotate(90) scale(.905 1)" class="tb" font-size="10.8">Prothrombin</text>
<text transform="translate(701.6 541.8) rotate(90) scale(.905 1)" class="tb" font-size="10.8">Antithrombin-III</text>
<text transform="translate(715.8 541.8) rotate(90) scale(.905 1)" class="tb" font-size="10.8">Coagulation factor V</text>
<text transform="translate(730.0 541.8) rotate(90) scale(.905 1)" class="tb" font-size="10.8">Coagulation factor IX</text>
<text transform="translate(744.3 541.8) rotate(90) scale(.905 1)" class="tb" font-size="10.8">Coagulation factor X</text>
<text transform="translate(758.5 541.8) rotate(90) scale(.905 1)" class="tb" font-size="10.8">Coagulation factor XI</text>
<text transform="translate(772.7 541.8) rotate(90) scale(.905 1)" class="tb" font-size="10.8">Coagulation factor XII</text>
<text transform="translate(786.9 541.8) rotate(90) scale(.905 1)" class="tb" font-size="10.8">Coagulation factor XIII A</text>
<text transform="translate(801.2 541.8) rotate(90) scale(.905 1)" class="tb" font-size="10.8">Coagulation factor VII</text>
<text transform="translate(815.4 541.8) rotate(90) scale(.905 1)" class="tb" font-size="10.8">Coagulation factor XIII B</text>
<text transform="translate(829.6 541.8) rotate(90) scale(.905 1)" class="tb" font-size="10.8">Fibronectin</text>
<text transform="translate(843.8 541.8) rotate(90) scale(.905 1)" class="tb" font-size="10.8">Plasma kallikrein</text>
<text transform="translate(858.1 541.8) rotate(90) scale(.905 1)" class="tb" font-size="10.8">Protein C</text>
<text transform="translate(872.3 541.8) rotate(90) scale(.905 1)" class="tb" font-size="10.8">Protein S</text>
<text transform="translate(886.5 541.8) rotate(90) scale(.905 1)" class="tb" font-size="10.8">Alpha-2-antiplasmin</text>
<text transform="translate(900.7 541.8) rotate(90) scale(.905 1)" class="tb" font-size="10.8">Heparin cofactor 2</text>
<text transform="translate(915.0 541.8) rotate(90) scale(.905 1)" class="tb" font-size="10.8">Fibrinogen</text>
<text transform="translate(929.2 541.8) rotate(90) scale(.905 1)" class="tb" font-size="10.8">Plasma serine protease</text>
<text transform="translate(943.4 541.8) rotate(90) scale(.905 1)" class="tb" font-size="10.8">Von Willebrand factor</text>
<text transform="translate(957.6 541.8) rotate(90) scale(.905 1)" class="tb" font-size="10.8">Plasmin</text>
<text transform="translate(665.8 464.5) rotate(-90)" text-anchor="middle" class="tb" font-size="9.8">Enrichment factor (% in HPC / % in plasma)</text>
<text transform="translate(609.2 376.2) scale(1.06 1)" class="pl" font-size="21.6">d</text>
</g>
</svg>
</body></html>
